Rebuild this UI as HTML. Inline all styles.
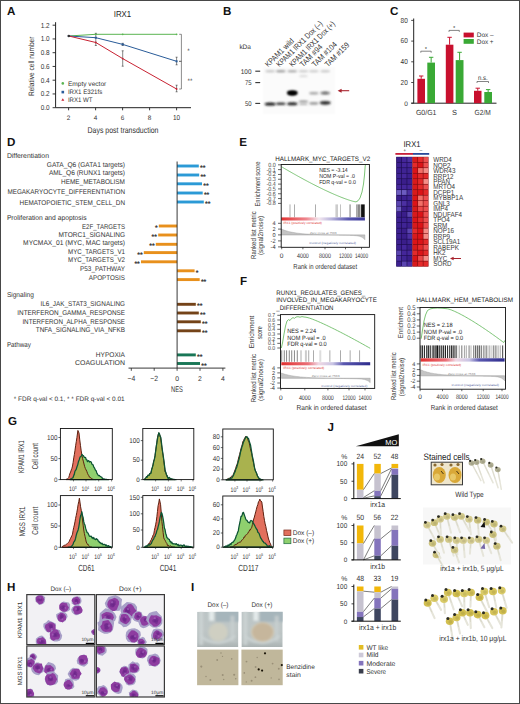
<!DOCTYPE html>
<html><head><meta charset="utf-8"><style>
html,body{margin:0;padding:0;background:#fff;width:520px;height:704px;overflow:hidden}
svg{display:block}
text{font-family:"Liberation Sans", sans-serif;text-rendering:geometricPrecision}
</style></head><body>
<svg width="520" height="704" viewBox="0 0 520 704" font-family="Liberation Sans, sans-serif">
<defs>
<filter id="blur1" x="-50%" y="-50%" width="200%" height="200%"><feGaussianBlur stdDeviation="0.7"/></filter>
<filter id="blur2" x="-50%" y="-100%" width="200%" height="300%"><feGaussianBlur stdDeviation="0.8"/></filter>
<filter id="blur3" x="-20%" y="-20%" width="140%" height="140%"><feGaussianBlur stdDeviation="0.45"/></filter>
<linearGradient id="rbe" x1="0" x2="1" y1="0" y2="0"><stop offset="0" stop-color="#e23030"/><stop offset="0.3" stop-color="#ee8890"/><stop offset="0.45" stop-color="#f4e8f0"/><stop offset="0.6" stop-color="#b8b4dc"/><stop offset="0.8" stop-color="#5a58b0"/><stop offset="1" stop-color="#3a3898"/></linearGradient>
<linearGradient id="rbf1" x1="0" x2="1" y1="0" y2="0"><stop offset="0" stop-color="#e23030"/><stop offset="0.3" stop-color="#ea7078"/><stop offset="0.42" stop-color="#f0d8e4"/><stop offset="0.58" stop-color="#c8c4e4"/><stop offset="0.7" stop-color="#5a58b0"/><stop offset="1" stop-color="#2e2c8c"/></linearGradient>
<linearGradient id="rbf2" x1="0" x2="1" y1="0" y2="0"><stop offset="0" stop-color="#e23030"/><stop offset="0.3" stop-color="#ea7078"/><stop offset="0.42" stop-color="#f0d8e4"/><stop offset="0.58" stop-color="#c8c4e4"/><stop offset="0.7" stop-color="#5a58b0"/><stop offset="1" stop-color="#2e2c8c"/></linearGradient>
<linearGradient id="tube" x1="0" x2="0" y1="0" y2="1"><stop offset="0" stop-color="#bcc5c6"/><stop offset="0.5" stop-color="#bec6c6"/><stop offset="0.85" stop-color="#b8c0c0"/><stop offset="1" stop-color="#aab2b2"/></linearGradient>
<filter id="blur4" x="-50%" y="-50%" width="200%" height="200%"><feGaussianBlur stdDeviation="1.2"/></filter>
</defs>
<rect x="0" y="0" width="520" height="704" fill="#fff"/>
<text x="7.1" y="15.0" font-size="11.6" font-weight="bold" fill="#111">A</text>
<text x="122.5" y="16.6" font-size="8.6" text-anchor="middle" textLength="17.5" lengthAdjust="spacingAndGlyphs" fill="#222">IRX1</text>
<line x1="55.60" y1="22.20" x2="55.60" y2="107.70" stroke="#222" stroke-width="1"/>
<line x1="55.60" y1="107.70" x2="191.00" y2="107.70" stroke="#222" stroke-width="1"/>
<line x1="52.60" y1="25.20" x2="55.60" y2="25.20" stroke="#222" stroke-width="0.9"/>
<text x="49.6" y="27.5" font-size="7.17" text-anchor="end" textLength="8.9" lengthAdjust="spacingAndGlyphs" fill="#333">1.2</text>
<line x1="52.60" y1="38.95" x2="55.60" y2="38.95" stroke="#222" stroke-width="0.9"/>
<text x="49.6" y="41.2" font-size="7.17" text-anchor="end" textLength="8.9" lengthAdjust="spacingAndGlyphs" fill="#333">1.0</text>
<line x1="52.60" y1="52.70" x2="55.60" y2="52.70" stroke="#222" stroke-width="0.9"/>
<text x="49.6" y="55.0" font-size="7.17" text-anchor="end" textLength="8.9" lengthAdjust="spacingAndGlyphs" fill="#333">0.8</text>
<line x1="52.60" y1="66.45" x2="55.60" y2="66.45" stroke="#222" stroke-width="0.9"/>
<text x="49.6" y="68.8" font-size="7.17" text-anchor="end" textLength="8.9" lengthAdjust="spacingAndGlyphs" fill="#333">0.6</text>
<line x1="52.60" y1="80.20" x2="55.60" y2="80.20" stroke="#222" stroke-width="0.9"/>
<text x="49.6" y="82.5" font-size="7.17" text-anchor="end" textLength="8.9" lengthAdjust="spacingAndGlyphs" fill="#333">0.4</text>
<line x1="52.60" y1="93.95" x2="55.60" y2="93.95" stroke="#222" stroke-width="0.9"/>
<text x="49.6" y="96.2" font-size="7.17" text-anchor="end" textLength="8.9" lengthAdjust="spacingAndGlyphs" fill="#333">0.2</text>
<line x1="52.60" y1="107.70" x2="55.60" y2="107.70" stroke="#222" stroke-width="0.9"/>
<text x="49.6" y="110.0" font-size="7.17" text-anchor="end" textLength="8.9" lengthAdjust="spacingAndGlyphs" fill="#333">0.0</text>
<line x1="68.60" y1="107.70" x2="68.60" y2="110.30" stroke="#222" stroke-width="0.9"/>
<text x="68.6" y="119.7" font-size="6.4" text-anchor="middle" fill="#333">2</text>
<line x1="95.60" y1="107.70" x2="95.60" y2="110.30" stroke="#222" stroke-width="0.9"/>
<text x="95.6" y="119.7" font-size="6.4" text-anchor="middle" fill="#333">4</text>
<line x1="122.60" y1="107.70" x2="122.60" y2="110.30" stroke="#222" stroke-width="0.9"/>
<text x="122.6" y="119.7" font-size="6.4" text-anchor="middle" fill="#333">6</text>
<line x1="149.60" y1="107.70" x2="149.60" y2="110.30" stroke="#222" stroke-width="0.9"/>
<text x="149.6" y="119.7" font-size="6.4" text-anchor="middle" fill="#333">8</text>
<line x1="176.60" y1="107.70" x2="176.60" y2="110.30" stroke="#222" stroke-width="0.9"/>
<text x="176.6" y="119.7" font-size="7.17" text-anchor="middle" textLength="7.1" lengthAdjust="spacingAndGlyphs" fill="#333">10</text>
<text x="123.0" y="132.5" font-size="8.4" text-anchor="middle" textLength="71.0" lengthAdjust="spacingAndGlyphs" fill="#333">Days post transduction</text>
<text x="34.4" y="66.3" font-size="7.8" text-anchor="middle" textLength="59.5" lengthAdjust="spacingAndGlyphs" transform="rotate(-90 34.4 66.3)" fill="#333">Relative cell number</text>
<polyline points="68.80,36.00 95.80,34.30 122.70,34.30 176.60,34.30" fill="none" stroke="#5ab552" stroke-width="1.0"/>
<polyline points="68.80,36.00 95.80,37.70 122.70,44.40 176.60,61.30" fill="none" stroke="#2a5c99" stroke-width="1.0"/>
<polyline points="68.80,36.00 95.80,42.50 122.70,58.60 176.60,89.00" fill="none" stroke="#c82232" stroke-width="1.0"/>
<line x1="95.80" y1="33.30" x2="95.80" y2="45.50" stroke="#333" stroke-width="0.6"/>
<line x1="94.80" y1="33.30" x2="96.80" y2="33.30" stroke="#333" stroke-width="0.6"/>
<line x1="94.80" y1="45.50" x2="96.80" y2="45.50" stroke="#333" stroke-width="0.6"/>
<line x1="122.70" y1="50.80" x2="122.70" y2="66.20" stroke="#333" stroke-width="0.6"/>
<line x1="121.70" y1="50.80" x2="123.70" y2="50.80" stroke="#333" stroke-width="0.6"/>
<line x1="121.70" y1="66.20" x2="123.70" y2="66.20" stroke="#333" stroke-width="0.6"/>
<line x1="122.70" y1="43.30" x2="122.70" y2="45.50" stroke="#333" stroke-width="0.6"/>
<line x1="121.70" y1="43.30" x2="123.70" y2="43.30" stroke="#333" stroke-width="0.6"/>
<line x1="121.70" y1="45.50" x2="123.70" y2="45.50" stroke="#333" stroke-width="0.6"/>
<line x1="176.60" y1="57.20" x2="176.60" y2="64.80" stroke="#333" stroke-width="0.6"/>
<line x1="175.60" y1="57.20" x2="177.60" y2="57.20" stroke="#333" stroke-width="0.6"/>
<line x1="175.60" y1="64.80" x2="177.60" y2="64.80" stroke="#333" stroke-width="0.6"/>
<line x1="176.60" y1="85.20" x2="176.60" y2="91.80" stroke="#333" stroke-width="0.6"/>
<line x1="175.60" y1="85.20" x2="177.60" y2="85.20" stroke="#333" stroke-width="0.6"/>
<line x1="175.60" y1="91.80" x2="177.60" y2="91.80" stroke="#333" stroke-width="0.6"/>
<circle cx="68.8" cy="36" r="0.9" fill="#5ab552"/>
<circle cx="95.8" cy="34.3" r="0.9" fill="#5ab552"/>
<circle cx="122.7" cy="34.3" r="0.9" fill="#5ab552"/>
<circle cx="176.6" cy="34.3" r="0.9" fill="#5ab552"/>
<rect x="67.80" y="35.00" width="2.00" height="2.00" fill="#2a5c99"/>
<rect x="94.80" y="36.70" width="2.00" height="2.00" fill="#2a5c99"/>
<rect x="121.70" y="43.40" width="2.00" height="2.00" fill="#2a5c99"/>
<rect x="175.60" y="60.30" width="2.00" height="2.00" fill="#2a5c99"/>
<circle cx="68.8" cy="36" r="0.9" fill="#c82232"/>
<circle cx="95.8" cy="42.5" r="0.9" fill="#c82232"/>
<circle cx="122.7" cy="58.6" r="0.9" fill="#c82232"/>
<circle cx="176.6" cy="89" r="0.9" fill="#c82232"/>
<circle cx="68.8" cy="36" r="1.2" fill="#333"/>
<polyline points="179.2,34.3 181.4,34.3 181.4,89 179.2,89" fill="none" stroke="#666" stroke-width="0.75"/>
<line x1="181.40" y1="61.30" x2="179.00" y2="61.30" stroke="#333" stroke-width="0.8"/>
<text x="188.5" y="53.1" font-size="6.4" text-anchor="middle" fill="#333">*</text>
<text x="190.0" y="83.1" font-size="6.4" text-anchor="middle" textLength="5.0" lengthAdjust="spacingAndGlyphs" fill="#333">**</text>
<circle cx="62.8" cy="83.4" r="1.3" fill="#5ab552"/>
<rect x="61.50" y="90.80" width="2.60" height="2.60" fill="#2a5c99"/>
<polygon points="61.3,100.8 64.3,100.8 62.8,98.2" fill="#c82232"/>
<text x="67.9" y="85.7" font-size="6.5" textLength="38.4" lengthAdjust="spacingAndGlyphs" fill="#333">Empty vector</text>
<text x="67.9" y="94.3" font-size="6.5" fill="#333" textLength="34.4" lengthAdjust="spacingAndGlyphs">IRX1 E321fs</text>
<text x="67.9" y="102.0" font-size="6.5" fill="#333" textLength="24.6" lengthAdjust="spacingAndGlyphs">IRX1 WT</text>
<text x="223.1" y="14.9" font-size="11.6" font-weight="bold" fill="#111">B</text>
<text x="239.4" y="48.9" font-size="6.6" textLength="11.5" lengthAdjust="spacingAndGlyphs" fill="#333">kDa</text>
<text x="268.3" y="67.6" font-size="8.0" textLength="37.0" lengthAdjust="spacingAndGlyphs" transform="rotate(-45 268.3 67.6)" fill="#333">KPAM1 wild</text>
<text x="279.6" y="67.6" font-size="8.0" textLength="61.5" lengthAdjust="spacingAndGlyphs" transform="rotate(-45 279.6 67.6)" fill="#333">KPAM1 IRX1 Dox (–)</text>
<text x="292.4" y="67.6" font-size="8.0" textLength="61.0" lengthAdjust="spacingAndGlyphs" transform="rotate(-45 292.4 67.6)" fill="#333">KPAM1 IRX1 Dox (+)</text>
<text x="303.0" y="67.6" font-size="8.0" textLength="28.5" lengthAdjust="spacingAndGlyphs" transform="rotate(-45 303.0 67.6)" fill="#333">TAM #94</text>
<text x="315.0" y="67.6" font-size="8.0" textLength="32.0" lengthAdjust="spacingAndGlyphs" transform="rotate(-45 315.0 67.6)" fill="#333">TAM #104</text>
<text x="328.0" y="67.6" font-size="8.0" textLength="31.0" lengthAdjust="spacingAndGlyphs" transform="rotate(-45 328.0 67.6)" fill="#333">TAM #159</text>
<text x="251.5" y="73.7" font-size="6.8" text-anchor="end" textLength="10.7" lengthAdjust="spacingAndGlyphs" fill="#333">100</text>
<line x1="255.30" y1="71.20" x2="260.20" y2="71.20" stroke="#333" stroke-width="1.1"/>
<text x="251.5" y="85.1" font-size="6.8" text-anchor="end" textLength="6.6" lengthAdjust="spacingAndGlyphs" fill="#333">75</text>
<line x1="255.30" y1="82.60" x2="260.20" y2="82.60" stroke="#333" stroke-width="1.1"/>
<text x="251.5" y="105.9" font-size="6.8" text-anchor="end" textLength="6.6" lengthAdjust="spacingAndGlyphs" fill="#333">50</text>
<line x1="255.30" y1="103.40" x2="260.20" y2="103.40" stroke="#333" stroke-width="1.1"/>
<rect x="263.00" y="67.00" width="72.00" height="47.00" fill="#fbfbfb" filter="url(#blur2)"/>
<ellipse cx="270.2" cy="71.3" rx="4.9" ry="1.0" fill="#bcbcbc" opacity="1" filter="url(#blur2)"/>
<ellipse cx="280.8" cy="71.3" rx="4.9" ry="1.0" fill="#8c8c8c" opacity="1" filter="url(#blur2)"/>
<ellipse cx="292.3" cy="71.3" rx="4.9" ry="1.0" fill="#9c9c9c" opacity="1" filter="url(#blur2)"/>
<ellipse cx="303.4" cy="71.3" rx="4.9" ry="1.0" fill="#c4c4c4" opacity="1" filter="url(#blur2)"/>
<ellipse cx="313.8" cy="71.3" rx="4.9" ry="1.0" fill="#c4c4c4" opacity="1" filter="url(#blur2)"/>
<ellipse cx="325.2" cy="71.3" rx="4.9" ry="1.0" fill="#c0c0c0" opacity="1" filter="url(#blur2)"/>
<ellipse cx="303.4" cy="76.2" rx="4.2" ry="0.9" fill="#d4d4d4" opacity="1" filter="url(#blur2)"/>
<ellipse cx="292.3" cy="93.0" rx="5.3" ry="2.4" fill="#000" opacity="1" filter="url(#blur2)"/>
<ellipse cx="292.3" cy="93.0" rx="4.3" ry="1.7" fill="#000" opacity="1" filter="url(#blur2)"/>
<ellipse cx="313.8" cy="93.2" rx="4.8" ry="1.3" fill="#a4a4a4" opacity="1" filter="url(#blur2)"/>
<ellipse cx="325.2" cy="93.0" rx="5.0" ry="1.5" fill="#8a8a8a" opacity="1" filter="url(#blur2)"/>
<ellipse cx="325.2" cy="93.0" rx="3.0" ry="0.8" fill="#666" opacity="1" filter="url(#blur2)"/>
<ellipse cx="270.2" cy="104.0" rx="5.5" ry="1.5" fill="#111" opacity="1" filter="url(#blur2)"/>
<ellipse cx="280.8" cy="103.8" rx="5.0" ry="1.3" fill="#333" opacity="1" filter="url(#blur2)"/>
<ellipse cx="292.3" cy="103.7" rx="5.2" ry="1.5" fill="#1a1a1a" opacity="1" filter="url(#blur2)"/>
<ellipse cx="303.4" cy="101.6" rx="4.7" ry="1.0" fill="#8a8a8a" opacity="1" filter="url(#blur2)"/>
<ellipse cx="303.4" cy="104.2" rx="4.2" ry="0.9" fill="#aaa" opacity="1" filter="url(#blur2)"/>
<ellipse cx="313.8" cy="103.4" rx="4.7" ry="1.3" fill="#9a9a9a" opacity="1" filter="url(#blur2)"/>
<ellipse cx="325.2" cy="102.8" rx="5.5" ry="1.9" fill="#2a2a2a" opacity="1" filter="url(#blur2)"/>
<path d="M349.2,90.7 L339.5,90.7" stroke="#a8232e" stroke-width="1.1"/>
<polygon points="337.6,90.7 341.6,88.7 341.6,92.7" fill="#a8232e"/>
<text x="389.9" y="14.9" font-size="11.6" font-weight="bold" fill="#111">C</text>
<line x1="413.70" y1="18.50" x2="413.70" y2="103.20" stroke="#222" stroke-width="1"/>
<line x1="411.30" y1="103.20" x2="496.50" y2="103.20" stroke="#222" stroke-width="1"/>
<line x1="411.20" y1="103.20" x2="413.70" y2="103.20" stroke="#222" stroke-width="0.8"/>
<text x="407.8" y="105.5" font-size="6.5" text-anchor="end" fill="#333">0</text>
<line x1="411.20" y1="82.50" x2="413.70" y2="82.50" stroke="#222" stroke-width="0.8"/>
<text x="407.8" y="84.8" font-size="7.28" text-anchor="end" textLength="7.2" lengthAdjust="spacingAndGlyphs" fill="#333">20</text>
<line x1="411.20" y1="61.80" x2="413.70" y2="61.80" stroke="#222" stroke-width="0.8"/>
<text x="407.8" y="64.1" font-size="7.28" text-anchor="end" textLength="7.2" lengthAdjust="spacingAndGlyphs" fill="#333">40</text>
<line x1="411.20" y1="41.10" x2="413.70" y2="41.10" stroke="#222" stroke-width="0.8"/>
<text x="407.8" y="43.4" font-size="7.28" text-anchor="end" textLength="7.2" lengthAdjust="spacingAndGlyphs" fill="#333">60</text>
<line x1="411.20" y1="20.40" x2="413.70" y2="20.40" stroke="#222" stroke-width="0.8"/>
<text x="407.8" y="22.7" font-size="7.28" text-anchor="end" textLength="7.2" lengthAdjust="spacingAndGlyphs" fill="#333">80</text>
<rect x="417.40" y="78.80" width="7.60" height="24.40" fill="#c8102e"/>
<line x1="421.20" y1="78.80" x2="421.20" y2="76.00" stroke="#c8102e" stroke-width="1"/>
<line x1="419.00" y1="76.00" x2="423.40" y2="76.00" stroke="#c8102e" stroke-width="1"/>
<rect x="427.30" y="62.60" width="7.70" height="40.60" fill="#3aa935"/>
<line x1="431.15" y1="62.60" x2="431.15" y2="57.30" stroke="#3aa935" stroke-width="1"/>
<line x1="428.95" y1="57.30" x2="433.35" y2="57.30" stroke="#3aa935" stroke-width="1"/>
<rect x="445.80" y="44.70" width="7.60" height="58.50" fill="#c8102e"/>
<line x1="449.60" y1="44.70" x2="449.60" y2="37.30" stroke="#c8102e" stroke-width="1"/>
<line x1="447.40" y1="37.30" x2="451.80" y2="37.30" stroke="#c8102e" stroke-width="1"/>
<rect x="455.70" y="60.10" width="7.80" height="43.10" fill="#3aa935"/>
<line x1="459.60" y1="60.10" x2="459.60" y2="52.30" stroke="#3aa935" stroke-width="1"/>
<line x1="457.40" y1="52.30" x2="461.80" y2="52.30" stroke="#3aa935" stroke-width="1"/>
<rect x="474.00" y="90.80" width="7.50" height="12.40" fill="#c8102e"/>
<line x1="477.75" y1="90.80" x2="477.75" y2="88.20" stroke="#c8102e" stroke-width="1"/>
<line x1="475.55" y1="88.20" x2="479.95" y2="88.20" stroke="#c8102e" stroke-width="1"/>
<rect x="484.30" y="92.00" width="7.70" height="11.20" fill="#3aa935"/>
<line x1="488.15" y1="92.00" x2="488.15" y2="89.60" stroke="#3aa935" stroke-width="1"/>
<line x1="485.95" y1="89.60" x2="490.35" y2="89.60" stroke="#3aa935" stroke-width="1"/>
<polyline points="420.8,52.7 420.8,51.2 431.2,51.2 431.2,52.7" fill="none" stroke="#333" stroke-width="0.6"/>
<text x="426.0" y="50.6" font-size="6" text-anchor="middle" fill="#333">*</text>
<polyline points="449.0,31.9 449.0,30.4 459.3,30.4 459.3,31.9" fill="none" stroke="#333" stroke-width="0.6"/>
<text x="454.1" y="29.8" font-size="6" text-anchor="middle" fill="#333">*</text>
<polyline points="477.0,83.0 477.0,81.5 488.5,81.5 488.5,83.0" fill="none" stroke="#333" stroke-width="0.6"/>
<text x="482.8" y="79.6" font-size="6.72" text-anchor="middle" textLength="9.7" lengthAdjust="spacingAndGlyphs" fill="#333">n.s.</text>
<rect x="463.60" y="32.60" width="10.20" height="4.80" fill="#c8102e"/>
<rect x="463.60" y="39.00" width="10.20" height="4.80" fill="#3aa935"/>
<text x="476.8" y="37.3" font-size="6.5" textLength="16.8" lengthAdjust="spacingAndGlyphs" fill="#333">Dox –</text>
<text x="476.8" y="43.8" font-size="6.5" textLength="16.8" lengthAdjust="spacingAndGlyphs" fill="#333">Dox +</text>
<text x="426.2" y="115.3" font-size="7.4" text-anchor="middle" textLength="20.5" lengthAdjust="spacingAndGlyphs" fill="#333">G0/G1</text>
<text x="454.5" y="115.3" font-size="7.4" text-anchor="middle" fill="#333">S</text>
<text x="482.7" y="115.3" font-size="7.4" text-anchor="middle" textLength="16.2" lengthAdjust="spacingAndGlyphs" fill="#333">G2/M</text>
<text x="7.1" y="145.7" font-size="11.6" font-weight="bold" fill="#111">D</text>
<text x="6.9" y="158.1" font-size="7.0" textLength="42.1" lengthAdjust="spacingAndGlyphs" fill="#333">Differentiation</text>
<text x="125.0" y="166.9" font-size="6.9" text-anchor="end" textLength="78.2" lengthAdjust="spacingAndGlyphs" fill="#333">GATA_Q6 (GATA1 targets)</text>
<rect x="177.10" y="164.55" width="21.70" height="2.90" fill="#2b9ad6"/>
<text x="200.0" y="170.0" font-size="6.8" textLength="5.4" lengthAdjust="spacingAndGlyphs" fill="#333" stroke="#333" stroke-width="0.25">**</text>
<text x="125.0" y="175.4" font-size="6.9" text-anchor="end" textLength="76.0" lengthAdjust="spacingAndGlyphs" fill="#333">AML_Q6 (RUNX1 targets)</text>
<rect x="177.10" y="173.55" width="22.10" height="2.90" fill="#2b9ad6"/>
<text x="200.4" y="179.0" font-size="6.8" textLength="5.4" lengthAdjust="spacingAndGlyphs" fill="#333" stroke="#333" stroke-width="0.25">**</text>
<text x="125.0" y="183.7" font-size="6.9" text-anchor="end" textLength="64.0" lengthAdjust="spacingAndGlyphs" fill="#333">HEME_METABOLISM</text>
<rect x="177.10" y="182.35" width="24.90" height="2.90" fill="#2b9ad6"/>
<text x="203.2" y="187.8" font-size="6.8" textLength="5.4" lengthAdjust="spacingAndGlyphs" fill="#333" stroke="#333" stroke-width="0.25">**</text>
<text x="125.0" y="193.8" font-size="6.9" text-anchor="end" textLength="117.6" lengthAdjust="spacingAndGlyphs" fill="#333">MEGAKARYOCYTE_DIFFERENTIATION</text>
<rect x="177.10" y="191.55" width="25.60" height="2.90" fill="#2b9ad6"/>
<text x="203.9" y="197.0" font-size="6.8" textLength="5.4" lengthAdjust="spacingAndGlyphs" fill="#333" stroke="#333" stroke-width="0.25">**</text>
<text x="125.0" y="205.3" font-size="6.9" text-anchor="end" textLength="105.4" lengthAdjust="spacingAndGlyphs" fill="#333">HEMATOPOIETIC_STEM_CELL_DN</text>
<rect x="177.10" y="200.55" width="26.70" height="2.90" fill="#2b9ad6"/>
<text x="205.0" y="206.0" font-size="6.8" textLength="5.4" lengthAdjust="spacingAndGlyphs" fill="#333" stroke="#333" stroke-width="0.25">**</text>
<text x="6.9" y="219.9" font-size="7.0" textLength="79.6" lengthAdjust="spacingAndGlyphs" fill="#333">Proliferation and apoptosis</text>
<text x="125.0" y="228.5" font-size="6.9" text-anchor="end" textLength="43.0" lengthAdjust="spacingAndGlyphs" fill="#333">E2F_TARGETS</text>
<rect x="158.80" y="224.55" width="18.30" height="2.90" fill="#e8901c"/>
<text x="157.6" y="230.0" font-size="6.8" text-anchor="end" fill="#333" stroke="#333" stroke-width="0.25">*</text>
<text x="125.0" y="236.5" font-size="6.9" text-anchor="end" textLength="66.6" lengthAdjust="spacingAndGlyphs" fill="#333">MTORC1_SIGNALING</text>
<rect x="158.20" y="233.55" width="18.90" height="2.90" fill="#e8901c"/>
<text x="157.0" y="239.0" font-size="6.8" text-anchor="end" textLength="5.4" lengthAdjust="spacingAndGlyphs" fill="#333" stroke="#333" stroke-width="0.25">**</text>
<text x="125.0" y="245.3" font-size="6.9" text-anchor="end" textLength="101.9" lengthAdjust="spacingAndGlyphs" fill="#333">MYCMAX_01 (MYC, MAC targets)</text>
<rect x="155.80" y="242.85" width="21.30" height="2.90" fill="#e8901c"/>
<text x="154.6" y="248.3" font-size="6.8" text-anchor="end" textLength="5.4" lengthAdjust="spacingAndGlyphs" fill="#333" stroke="#333" stroke-width="0.25">**</text>
<text x="125.0" y="254.1" font-size="6.9" text-anchor="end" textLength="57.0" lengthAdjust="spacingAndGlyphs" fill="#333">MYC_TARGETS_V1</text>
<rect x="143.80" y="251.15" width="33.30" height="2.90" fill="#e8901c"/>
<text x="142.6" y="256.6" font-size="6.8" text-anchor="end" textLength="5.4" lengthAdjust="spacingAndGlyphs" fill="#333" stroke="#333" stroke-width="0.25">**</text>
<text x="125.0" y="262.3" font-size="6.9" text-anchor="end" textLength="57.0" lengthAdjust="spacingAndGlyphs" fill="#333">MYC_TARGETS_V2</text>
<rect x="141.00" y="260.35" width="36.10" height="2.90" fill="#e8901c"/>
<text x="139.8" y="265.8" font-size="6.8" text-anchor="end" textLength="5.4" lengthAdjust="spacingAndGlyphs" fill="#333" stroke="#333" stroke-width="0.25">**</text>
<text x="125.0" y="270.7" font-size="6.9" text-anchor="end" textLength="45.0" lengthAdjust="spacingAndGlyphs" fill="#333">P53_PATHWAY</text>
<rect x="177.10" y="269.35" width="17.50" height="2.90" fill="#e8901c"/>
<text x="195.8" y="274.8" font-size="6.8" fill="#333" stroke="#333" stroke-width="0.25">*</text>
<text x="125.0" y="279.9" font-size="6.9" text-anchor="end" textLength="36.2" lengthAdjust="spacingAndGlyphs" fill="#333">APOPTOSIS</text>
<rect x="177.10" y="278.15" width="22.60" height="2.90" fill="#e8901c"/>
<text x="200.9" y="283.6" font-size="6.8" textLength="5.4" lengthAdjust="spacingAndGlyphs" fill="#333" stroke="#333" stroke-width="0.25">**</text>
<text x="6.9" y="296.6" font-size="7.0" textLength="27.0" lengthAdjust="spacingAndGlyphs" fill="#333">Signaling</text>
<text x="125.0" y="306.1" font-size="6.9" text-anchor="end" textLength="84.6" lengthAdjust="spacingAndGlyphs" fill="#333">IL6_JAK_STAT3_SIGNALING</text>
<rect x="177.10" y="302.85" width="18.70" height="2.90" fill="#744318"/>
<text x="197.0" y="308.3" font-size="6.8" textLength="5.4" lengthAdjust="spacingAndGlyphs" fill="#333" stroke="#333" stroke-width="0.25">**</text>
<text x="125.0" y="314.6" font-size="6.9" text-anchor="end" textLength="107.7" lengthAdjust="spacingAndGlyphs" fill="#333">INTERFERON_GAMMA_RESPONSE</text>
<rect x="177.10" y="311.55" width="21.70" height="2.90" fill="#744318"/>
<text x="200.0" y="317.0" font-size="6.8" textLength="5.4" lengthAdjust="spacingAndGlyphs" fill="#333" stroke="#333" stroke-width="0.25">**</text>
<text x="125.0" y="323.8" font-size="6.9" text-anchor="end" textLength="102.6" lengthAdjust="spacingAndGlyphs" fill="#333">INTERFERON_ALPHA_RESPONSE</text>
<rect x="177.10" y="320.35" width="23.70" height="2.90" fill="#744318"/>
<text x="202.0" y="325.8" font-size="6.8" textLength="5.4" lengthAdjust="spacingAndGlyphs" fill="#333" stroke="#333" stroke-width="0.25">**</text>
<text x="125.0" y="331.9" font-size="6.9" text-anchor="end" textLength="89.2" lengthAdjust="spacingAndGlyphs" fill="#333">TNFA_SIGNALING_VIA_NFKB</text>
<rect x="177.10" y="329.35" width="23.70" height="2.90" fill="#744318"/>
<text x="202.0" y="334.8" font-size="6.8" textLength="5.4" lengthAdjust="spacingAndGlyphs" fill="#333" stroke="#333" stroke-width="0.25">**</text>
<text x="6.9" y="347.3" font-size="7.0" textLength="24.0" lengthAdjust="spacingAndGlyphs" fill="#333">Pathway</text>
<text x="125.0" y="356.6" font-size="6.9" text-anchor="end" textLength="29.2" lengthAdjust="spacingAndGlyphs" fill="#333">HYPOXIA</text>
<rect x="177.10" y="353.45" width="18.70" height="2.90" fill="#187656"/>
<text x="197.0" y="358.9" font-size="6.8" textLength="5.4" lengthAdjust="spacingAndGlyphs" fill="#333" stroke="#333" stroke-width="0.25">**</text>
<text x="125.0" y="364.6" font-size="6.9" text-anchor="end" textLength="50.0" lengthAdjust="spacingAndGlyphs" fill="#333">COAGULATION</text>
<rect x="177.10" y="362.05" width="22.90" height="2.90" fill="#187656"/>
<text x="201.2" y="367.5" font-size="6.8" textLength="5.4" lengthAdjust="spacingAndGlyphs" fill="#333" stroke="#333" stroke-width="0.25">**</text>
<line x1="177.10" y1="161.50" x2="177.10" y2="368.10" stroke="#222" stroke-width="0.9"/>
<line x1="128.50" y1="368.10" x2="225.40" y2="368.10" stroke="#222" stroke-width="0.9"/>
<line x1="131.30" y1="368.10" x2="131.30" y2="370.80" stroke="#222" stroke-width="0.8"/>
<text x="131.3" y="381.0" font-size="7.62" text-anchor="middle" textLength="7.8" lengthAdjust="spacingAndGlyphs" fill="#333">−4</text>
<line x1="154.20" y1="368.10" x2="154.20" y2="370.80" stroke="#222" stroke-width="0.8"/>
<text x="154.2" y="381.0" font-size="7.62" text-anchor="middle" textLength="7.8" lengthAdjust="spacingAndGlyphs" fill="#333">−2</text>
<line x1="177.10" y1="368.10" x2="177.10" y2="370.80" stroke="#222" stroke-width="0.8"/>
<text x="177.1" y="381.0" font-size="6.8" text-anchor="middle" fill="#333">0</text>
<line x1="200.00" y1="368.10" x2="200.00" y2="370.80" stroke="#222" stroke-width="0.8"/>
<text x="200.0" y="381.0" font-size="6.8" text-anchor="middle" fill="#333">2</text>
<line x1="222.90" y1="368.10" x2="222.90" y2="370.80" stroke="#222" stroke-width="0.8"/>
<text x="222.9" y="381.0" font-size="6.8" text-anchor="middle" fill="#333">4</text>
<text x="177.0" y="391.8" font-size="8.2" text-anchor="middle" textLength="11.8" lengthAdjust="spacingAndGlyphs" fill="#333">NES</text>
<text x="13.8" y="401.3" font-size="6.4" textLength="110.8" lengthAdjust="spacingAndGlyphs" fill="#333">* FDR q-val &lt; 0.1, * * FDR q-val &lt; 0.01</text>
<text x="239.2" y="146.3" font-size="11.6" font-weight="bold" fill="#111">E</text>
<text x="275.3" y="160.6" font-size="6.4" textLength="94.9" lengthAdjust="spacingAndGlyphs" fill="#222">HALLMARK_MYC_TARGETS_V2</text>
<rect x="289.70" y="204.40" width="0.60" height="12.90" fill="#777"/>
<rect x="294.40" y="204.40" width="0.60" height="12.90" fill="#777"/>
<rect x="315.20" y="204.40" width="0.60" height="12.90" fill="#777"/>
<rect x="335.40" y="204.40" width="2.60" height="12.90" fill="#ccc"/>
<rect x="340.30" y="204.40" width="0.60" height="12.90" fill="#999"/>
<rect x="349.30" y="204.40" width="1.60" height="12.90" fill="#aaa"/>
<rect x="356.00" y="204.40" width="1.60" height="12.90" fill="#aaa"/>
<rect x="357.60" y="204.40" width="1.60" height="12.90" fill="#888"/>
<rect x="359.20" y="204.40" width="1.20" height="12.90" fill="#777"/>
<rect x="361.10" y="204.40" width="3.60" height="12.90" fill="#111"/>
<rect x="281.30" y="217.40" width="83.60" height="3.10" fill="url(#rbe)"/>
<polyline points="281.60,166.80 282.53,167.35 283.46,167.89 284.39,168.44 285.32,168.98 286.25,169.52 287.18,170.06 288.11,170.60 289.04,171.13 289.97,171.66 290.90,172.20 291.83,172.73 292.76,173.25 293.69,173.78 294.62,174.30 295.55,174.82 296.48,175.34 297.41,175.86 298.34,176.38 299.27,176.89 300.20,177.40 301.13,177.91 302.06,178.42 302.99,178.92 303.92,179.43 304.85,179.93 305.78,180.42 306.71,180.92 307.64,181.41 308.57,181.91 309.50,182.39 310.43,182.88 311.36,183.36 312.29,183.85 313.22,184.33 314.15,184.80 315.08,185.28 316.01,185.75 316.94,186.21 317.87,186.68 318.80,187.14 319.73,187.60 320.66,188.06 321.59,188.51 322.52,188.96 323.45,189.41 324.38,189.86 325.31,190.30 326.24,190.73 327.17,191.17 328.10,191.60 329.03,192.03 329.96,192.45 330.89,192.87 331.82,193.29 332.75,193.70 333.68,194.11 334.61,194.51 335.54,194.91 336.47,195.30 337.40,195.70 338.33,196.08 339.26,196.46 340.19,196.84 341.12,197.21 342.05,197.57 342.98,197.93 343.91,198.28 344.84,198.62 345.77,198.96 346.70,199.29 347.63,199.61 348.56,199.93 349.49,200.23 350.42,200.52 351.35,200.80 352.28,201.07 353.21,201.32 354.14,201.55 355.07,201.75 356.00,201.90 358.00,200.80 360.00,198.00 362.00,192.00 363.50,184.00 364.50,175.00 365.20,166.00 365.50,164.60" fill="none" stroke="#52b04a" stroke-width="0.75"/>
<path d="M281.30,234.90 L281.30,228.98 L282.69,229.58 L284.09,230.12 L285.48,230.60 L286.87,231.02 L288.27,231.41 L289.66,231.75 L291.05,232.06 L292.45,232.34 L293.84,232.59 L295.23,232.81 L296.63,233.01 L298.02,233.20 L299.41,233.36 L300.81,233.51 L302.20,233.64 L303.59,233.77 L304.99,233.88 L306.38,233.98 L307.77,234.08 L309.17,234.16 L310.56,234.24 L311.95,234.31 L313.35,234.38 L314.74,234.44 L316.13,234.50 L317.53,234.56 L318.92,234.61 L320.31,234.65 L321.71,234.70 L323.10,234.74 L324.49,234.78 L325.89,234.82 L327.28,234.86 L328.67,234.89 L330.07,234.93 L331.46,234.96 L332.85,234.99 L334.25,235.02 L335.64,235.05 L337.03,235.08 L338.43,235.11 L339.82,235.14 L341.21,235.17 L342.61,235.20 L344.00,235.23 L345.39,235.26 L346.79,235.29 L348.18,235.33 L349.57,235.37 L350.97,235.41 L352.36,235.47 L353.75,235.55 L355.15,235.65 L356.54,235.79 L357.93,235.99 L359.33,236.28 L360.72,236.72 L362.11,237.36 L363.51,238.32 L364.90,239.77 L364.90,234.90 Z" fill="#c4c4c4" stroke="#999" stroke-width="0.4"/>
<line x1="281.30" y1="234.90" x2="364.90" y2="234.90" stroke="#aaa" stroke-width="0.3"/>
<text x="283.3" y="223.6" font-size="3.2" textLength="38.5" lengthAdjust="spacingAndGlyphs" fill="#e04040">IRX1 (positively correlated)</text>
<text x="310.0" y="233.8" font-size="3.0" textLength="26.6" lengthAdjust="spacingAndGlyphs" fill="#888">Zero cross at 7563</text>
<text x="309.2" y="244.4" font-size="3.0" textLength="46.8" lengthAdjust="spacingAndGlyphs" fill="#5a6aa0">Control (negatively correlated)</text>
<rect x="281.20" y="164.50" width="88.20" height="82.80" fill="none" stroke="#111" stroke-width="0.9"/>
<line x1="278.00" y1="164.80" x2="281.20" y2="164.80" stroke="#222" stroke-width="0.7"/>
<text x="275.8" y="166.7" font-size="6.05" text-anchor="end" textLength="7.5" lengthAdjust="spacingAndGlyphs" fill="#444">0.0</text>
<line x1="278.00" y1="169.62" x2="281.20" y2="169.62" stroke="#222" stroke-width="0.7"/>
<text x="275.8" y="171.5" font-size="6.05" text-anchor="end" textLength="9.3" lengthAdjust="spacingAndGlyphs" fill="#444">-0.1</text>
<line x1="278.00" y1="174.45" x2="281.20" y2="174.45" stroke="#222" stroke-width="0.7"/>
<text x="275.8" y="176.4" font-size="6.05" text-anchor="end" textLength="9.3" lengthAdjust="spacingAndGlyphs" fill="#444">-0.2</text>
<line x1="278.00" y1="179.28" x2="281.20" y2="179.28" stroke="#222" stroke-width="0.7"/>
<text x="275.8" y="181.2" font-size="6.05" text-anchor="end" textLength="9.3" lengthAdjust="spacingAndGlyphs" fill="#444">-0.3</text>
<line x1="278.00" y1="184.10" x2="281.20" y2="184.10" stroke="#222" stroke-width="0.7"/>
<text x="275.8" y="186.0" font-size="6.05" text-anchor="end" textLength="9.3" lengthAdjust="spacingAndGlyphs" fill="#444">-0.4</text>
<line x1="278.00" y1="188.93" x2="281.20" y2="188.93" stroke="#222" stroke-width="0.7"/>
<text x="275.8" y="190.8" font-size="6.05" text-anchor="end" textLength="9.3" lengthAdjust="spacingAndGlyphs" fill="#444">-0.5</text>
<line x1="278.00" y1="193.75" x2="281.20" y2="193.75" stroke="#222" stroke-width="0.7"/>
<text x="275.8" y="195.7" font-size="6.05" text-anchor="end" textLength="9.3" lengthAdjust="spacingAndGlyphs" fill="#444">-0.6</text>
<line x1="278.00" y1="198.57" x2="281.20" y2="198.57" stroke="#222" stroke-width="0.7"/>
<text x="275.8" y="200.5" font-size="6.05" text-anchor="end" textLength="9.3" lengthAdjust="spacingAndGlyphs" fill="#444">-0.7</text>
<line x1="278.00" y1="203.40" x2="281.20" y2="203.40" stroke="#222" stroke-width="0.7"/>
<text x="275.8" y="205.3" font-size="6.05" text-anchor="end" textLength="9.3" lengthAdjust="spacingAndGlyphs" fill="#444">-0.8</text>
<line x1="278.00" y1="223.30" x2="281.20" y2="223.30" stroke="#222" stroke-width="0.7"/>
<text x="275.6" y="225.2" font-size="5.6" text-anchor="end" fill="#333">4</text>
<line x1="278.00" y1="229.10" x2="281.20" y2="229.10" stroke="#222" stroke-width="0.7"/>
<text x="275.6" y="231.0" font-size="5.6" text-anchor="end" fill="#333">2</text>
<line x1="278.00" y1="234.90" x2="281.20" y2="234.90" stroke="#222" stroke-width="0.7"/>
<text x="275.6" y="236.8" font-size="5.6" text-anchor="end" fill="#333">0</text>
<line x1="278.00" y1="240.90" x2="281.20" y2="240.90" stroke="#222" stroke-width="0.7"/>
<text x="275.6" y="242.8" font-size="6.27" text-anchor="end" textLength="5.0" lengthAdjust="spacingAndGlyphs" fill="#333">-2</text>
<line x1="278.00" y1="246.90" x2="281.20" y2="246.90" stroke="#222" stroke-width="0.7"/>
<text x="275.6" y="248.8" font-size="6.27" text-anchor="end" textLength="5.0" lengthAdjust="spacingAndGlyphs" fill="#333">-4</text>
<line x1="281.70" y1="247.30" x2="281.70" y2="249.30" stroke="#222" stroke-width="0.7"/>
<text x="281.7" y="257.8" font-size="6.6" text-anchor="middle" fill="#333">0</text>
<line x1="302.90" y1="247.30" x2="302.90" y2="249.30" stroke="#222" stroke-width="0.7"/>
<text x="302.9" y="257.8" font-size="6.6" text-anchor="middle" textLength="11.8" lengthAdjust="spacingAndGlyphs" fill="#333">4000</text>
<line x1="325.00" y1="247.30" x2="325.00" y2="249.30" stroke="#222" stroke-width="0.7"/>
<text x="325.0" y="257.8" font-size="6.6" text-anchor="middle" textLength="11.8" lengthAdjust="spacingAndGlyphs" fill="#333">8000</text>
<line x1="345.50" y1="247.30" x2="345.50" y2="249.30" stroke="#222" stroke-width="0.7"/>
<text x="345.5" y="257.8" font-size="6.6" text-anchor="middle" textLength="13.0" lengthAdjust="spacingAndGlyphs" fill="#333">12000</text>
<line x1="361.50" y1="247.30" x2="361.50" y2="249.30" stroke="#222" stroke-width="0.7"/>
<text x="361.5" y="257.8" font-size="6.6" text-anchor="middle" textLength="13.0" lengthAdjust="spacingAndGlyphs" fill="#333">14000</text>
<text x="325.2" y="268.6" font-size="7.2" text-anchor="middle" textLength="63.7" lengthAdjust="spacingAndGlyphs" fill="#333">Rank in ordered dataset</text>
<text x="260.4" y="184.0" font-size="7.2" text-anchor="middle" textLength="45.0" lengthAdjust="spacingAndGlyphs" transform="rotate(-90 260.4 184.0)" fill="#333">Enrichment score</text>
<text x="256.3" y="235.1" font-size="7.2" text-anchor="middle" textLength="47.6" lengthAdjust="spacingAndGlyphs" transform="rotate(-90 256.3 235.1)" fill="#333">Ranked list metric</text>
<text x="263.4" y="235.5" font-size="7.2" text-anchor="middle" textLength="39.0" lengthAdjust="spacingAndGlyphs" transform="rotate(-90 263.4 235.5)" fill="#333">(signal2noise)</text>
<text x="319.2" y="171.6" font-size="5.82" textLength="28.5" lengthAdjust="spacingAndGlyphs" fill="#222">NES = -3.14</text>
<text x="319.2" y="177.8" font-size="5.82" textLength="35.7" lengthAdjust="spacingAndGlyphs" fill="#222">NOM P-val = .0</text>
<text x="319.2" y="183.6" font-size="5.82" textLength="36.6" lengthAdjust="spacingAndGlyphs" fill="#222">FDR q-val = 0.0</text>
<text x="240.1" y="285.4" font-size="11.6" font-weight="bold" fill="#111">F</text>
<text x="276.3" y="294.7" font-size="6.4" textLength="88.9" lengthAdjust="spacingAndGlyphs" fill="#222">RUNX1_REGULATES_GENES_</text>
<text x="276.3" y="302.1" font-size="6.4" textLength="100.5" lengthAdjust="spacingAndGlyphs" fill="#222">INVOLVED_IN_MEGAKARYOCYTE</text>
<text x="276.3" y="309.5" font-size="6.4" textLength="57.2" lengthAdjust="spacingAndGlyphs" fill="#222">_DIFFERENTIATION</text>
<rect x="281.45" y="350.30" width="0.70" height="11.50" fill="#555"/>
<rect x="283.85" y="350.30" width="0.70" height="11.50" fill="#555"/>
<rect x="286.35" y="350.30" width="0.70" height="11.50" fill="#555"/>
<rect x="288.85" y="350.30" width="0.70" height="11.50" fill="#555"/>
<rect x="291.45" y="350.30" width="0.70" height="11.50" fill="#555"/>
<rect x="293.95" y="350.30" width="0.70" height="11.50" fill="#555"/>
<rect x="296.85" y="350.30" width="0.70" height="11.50" fill="#555"/>
<rect x="300.65" y="350.30" width="0.70" height="11.50" fill="#888"/>
<rect x="308.45" y="350.30" width="0.70" height="11.50" fill="#888"/>
<rect x="313.25" y="350.30" width="0.70" height="11.50" fill="#888"/>
<rect x="329.55" y="350.30" width="0.70" height="11.50" fill="#888"/>
<rect x="340.15" y="350.30" width="0.70" height="11.50" fill="#888"/>
<rect x="349.75" y="350.30" width="0.70" height="11.50" fill="#888"/>
<rect x="359.35" y="350.30" width="0.70" height="11.50" fill="#888"/>
<rect x="304.90" y="350.30" width="2.00" height="11.50" fill="#ccc"/>
<rect x="319.30" y="350.30" width="2.00" height="11.50" fill="#ddd"/>
<rect x="281.30" y="362.20" width="88.90" height="3.10" fill="url(#rbf1)"/>
<polyline points="281.30,348.00 282.50,343.00 284.00,334.00 285.50,326.00 287.00,321.00 288.50,319.60 290.00,320.50 291.50,318.50 293.00,317.60 294.50,318.30 296.00,317.00 298.00,316.70 300.00,317.20 302.00,316.60 304.00,317.00 306.00,317.20 308.00,317.70 309.56,318.14 311.11,318.68 312.67,319.26 314.22,319.87 315.77,320.50 317.33,321.15 318.88,321.82 320.44,322.51 322.00,323.20 323.55,323.91 325.11,324.63 326.66,325.36 328.21,326.10 329.77,326.85 331.32,327.61 332.88,328.37 334.44,329.14 335.99,329.92 337.55,330.70 339.10,331.49 340.65,332.28 342.21,333.09 343.76,333.89 345.32,334.71 346.88,335.52 348.43,336.35 349.99,337.17 351.54,338.00 353.09,338.84 354.65,339.68 356.20,340.53 357.76,341.37 359.31,342.23 360.87,343.08 362.43,343.94 363.98,344.81 365.53,345.68 367.09,346.55 368.64,347.42 370.20,348.30" fill="none" stroke="#52b04a" stroke-width="0.75"/>
<path d="M281.30,378.30 L281.30,373.00 L282.78,373.53 L284.26,374.01 L285.75,374.44 L287.23,374.82 L288.71,375.17 L290.19,375.48 L291.67,375.75 L293.15,376.00 L294.63,376.23 L296.12,376.43 L297.60,376.61 L299.08,376.77 L300.56,376.92 L302.04,377.05 L303.52,377.17 L305.01,377.29 L306.49,377.39 L307.97,377.48 L309.45,377.56 L310.93,377.64 L312.42,377.71 L313.90,377.77 L315.38,377.83 L316.86,377.89 L318.34,377.94 L319.82,377.99 L321.31,378.04 L322.79,378.08 L324.27,378.12 L325.75,378.16 L327.23,378.20 L328.71,378.23 L330.19,378.26 L331.68,378.29 L333.16,378.33 L334.64,378.35 L336.12,378.38 L337.60,378.41 L339.08,378.44 L340.57,378.46 L342.05,378.49 L343.53,378.52 L345.01,378.54 L346.49,378.57 L347.98,378.59 L349.46,378.62 L350.94,378.65 L352.42,378.68 L353.90,378.72 L355.38,378.76 L356.87,378.81 L358.35,378.88 L359.83,378.97 L361.31,379.10 L362.79,379.28 L364.27,379.54 L365.75,379.93 L367.24,380.50 L368.72,381.37 L370.20,382.66 L370.20,378.30 Z" fill="#c4c4c4" stroke="#999" stroke-width="0.4"/>
<line x1="281.30" y1="378.30" x2="370.20" y2="378.30" stroke="#aaa" stroke-width="0.3"/>
<text x="283.3" y="369.3" font-size="3.2" textLength="40.9" lengthAdjust="spacingAndGlyphs" fill="#e04040">IRX1 (positively correlated)</text>
<text x="311.7" y="376.5" font-size="3.0" textLength="27.8" lengthAdjust="spacingAndGlyphs" fill="#888">Zero cross at 7563</text>
<text x="321.3" y="386.8" font-size="3.0" textLength="46.0" lengthAdjust="spacingAndGlyphs" fill="#5a6aa0">Control (negatively correlated)</text>
<rect x="280.50" y="314.60" width="94.20" height="73.80" fill="none" stroke="#111" stroke-width="0.9"/>
<line x1="277.30" y1="315.30" x2="280.50" y2="315.30" stroke="#222" stroke-width="0.7"/>
<text x="275.2" y="317.2" font-size="5.82" text-anchor="end" textLength="7.2" lengthAdjust="spacingAndGlyphs" fill="#444">0.7</text>
<line x1="277.30" y1="319.97" x2="280.50" y2="319.97" stroke="#222" stroke-width="0.7"/>
<text x="275.2" y="321.9" font-size="5.82" text-anchor="end" textLength="7.2" lengthAdjust="spacingAndGlyphs" fill="#444">0.6</text>
<line x1="277.30" y1="324.64" x2="280.50" y2="324.64" stroke="#222" stroke-width="0.7"/>
<text x="275.2" y="326.5" font-size="5.82" text-anchor="end" textLength="7.2" lengthAdjust="spacingAndGlyphs" fill="#444">0.5</text>
<line x1="277.30" y1="329.31" x2="280.50" y2="329.31" stroke="#222" stroke-width="0.7"/>
<text x="275.2" y="331.2" font-size="5.82" text-anchor="end" textLength="7.2" lengthAdjust="spacingAndGlyphs" fill="#444">0.4</text>
<line x1="277.30" y1="333.99" x2="280.50" y2="333.99" stroke="#222" stroke-width="0.7"/>
<text x="275.2" y="335.9" font-size="5.82" text-anchor="end" textLength="7.2" lengthAdjust="spacingAndGlyphs" fill="#444">0.3</text>
<line x1="277.30" y1="338.66" x2="280.50" y2="338.66" stroke="#222" stroke-width="0.7"/>
<text x="275.2" y="340.6" font-size="5.82" text-anchor="end" textLength="7.2" lengthAdjust="spacingAndGlyphs" fill="#444">0.2</text>
<line x1="277.30" y1="343.33" x2="280.50" y2="343.33" stroke="#222" stroke-width="0.7"/>
<text x="275.2" y="345.2" font-size="5.82" text-anchor="end" textLength="7.2" lengthAdjust="spacingAndGlyphs" fill="#444">0.1</text>
<line x1="277.30" y1="348.00" x2="280.50" y2="348.00" stroke="#222" stroke-width="0.7"/>
<text x="275.2" y="349.9" font-size="5.82" text-anchor="end" textLength="7.2" lengthAdjust="spacingAndGlyphs" fill="#444">0.0</text>
<line x1="277.30" y1="367.90" x2="280.50" y2="367.90" stroke="#222" stroke-width="0.7"/>
<text x="275.0" y="369.8" font-size="5.6" text-anchor="end" fill="#333">4</text>
<line x1="277.30" y1="372.90" x2="280.50" y2="372.90" stroke="#222" stroke-width="0.7"/>
<text x="275.0" y="374.8" font-size="5.6" text-anchor="end" fill="#333">2</text>
<line x1="277.30" y1="377.90" x2="280.50" y2="377.90" stroke="#222" stroke-width="0.7"/>
<text x="275.0" y="379.8" font-size="5.6" text-anchor="end" fill="#333">0</text>
<line x1="277.30" y1="383.00" x2="280.50" y2="383.00" stroke="#222" stroke-width="0.7"/>
<text x="275.0" y="384.9" font-size="6.27" text-anchor="end" textLength="5.0" lengthAdjust="spacingAndGlyphs" fill="#333">-2</text>
<line x1="277.30" y1="388.10" x2="280.50" y2="388.10" stroke="#222" stroke-width="0.7"/>
<text x="275.0" y="390.0" font-size="6.27" text-anchor="end" textLength="5.0" lengthAdjust="spacingAndGlyphs" fill="#333">-4</text>
<line x1="280.80" y1="388.40" x2="280.80" y2="390.40" stroke="#222" stroke-width="0.7"/>
<text x="280.8" y="399.9" font-size="6.6" text-anchor="middle" fill="#333">0</text>
<line x1="304.80" y1="388.40" x2="304.80" y2="390.40" stroke="#222" stroke-width="0.7"/>
<text x="304.8" y="399.9" font-size="6.6" text-anchor="middle" textLength="11.8" lengthAdjust="spacingAndGlyphs" fill="#333">4000</text>
<line x1="327.90" y1="388.40" x2="327.90" y2="390.40" stroke="#222" stroke-width="0.7"/>
<text x="327.9" y="399.9" font-size="6.6" text-anchor="middle" textLength="11.8" lengthAdjust="spacingAndGlyphs" fill="#333">8000</text>
<line x1="349.00" y1="388.40" x2="349.00" y2="390.40" stroke="#222" stroke-width="0.7"/>
<text x="349.0" y="399.9" font-size="6.6" text-anchor="middle" textLength="13.0" lengthAdjust="spacingAndGlyphs" fill="#333">12000</text>
<line x1="365.00" y1="388.40" x2="365.00" y2="390.40" stroke="#222" stroke-width="0.7"/>
<text x="365.0" y="399.9" font-size="6.6" text-anchor="middle" textLength="13.0" lengthAdjust="spacingAndGlyphs" fill="#333">14000</text>
<text x="331.5" y="410.4" font-size="7.2" text-anchor="middle" textLength="70.0" lengthAdjust="spacingAndGlyphs" fill="#333">Rank in ordered dataset</text>
<text x="254.4" y="332.0" font-size="7.2" text-anchor="middle" textLength="32.7" lengthAdjust="spacingAndGlyphs" transform="rotate(-90 254.4 332.0)" fill="#333">Enrichment</text>
<text x="262.0" y="332.7" font-size="7.2" text-anchor="middle" textLength="12.8" lengthAdjust="spacingAndGlyphs" transform="rotate(-90 262.0 332.7)" fill="#333">score</text>
<text x="255.6" y="378.2" font-size="7.2" text-anchor="middle" textLength="48.3" lengthAdjust="spacingAndGlyphs" transform="rotate(-90 255.6 378.2)" fill="#333">Ranked list metric</text>
<text x="262.6" y="380.0" font-size="7.2" text-anchor="middle" textLength="42.0" lengthAdjust="spacingAndGlyphs" transform="rotate(-90 262.6 380.0)" fill="#333">(signal2noise)</text>
<text x="287.3" y="333.2" font-size="6.27" textLength="28.8" lengthAdjust="spacingAndGlyphs" fill="#222">NES = 2.24</text>
<text x="287.3" y="340.2" font-size="6.27" textLength="38.4" lengthAdjust="spacingAndGlyphs" fill="#222">NOM P-val = .0</text>
<text x="287.3" y="346.2" font-size="6.27" textLength="39.4" lengthAdjust="spacingAndGlyphs" fill="#222">FDR q-val = 0.0</text>
<text x="416.2" y="301.5" font-size="6.4" textLength="96.8" lengthAdjust="spacingAndGlyphs" fill="#222">HALLMARK_HEM_METABOLISM</text>
<rect x="420.29" y="345.40" width="1.02" height="12.80" fill="#444"/>
<rect x="421.73" y="345.40" width="1.36" height="12.80" fill="#333"/>
<rect x="423.94" y="345.40" width="0.93" height="12.80" fill="#111"/>
<rect x="426.06" y="345.40" width="1.13" height="12.80" fill="#444"/>
<rect x="427.62" y="345.40" width="1.40" height="12.80" fill="#333"/>
<rect x="429.66" y="345.40" width="1.17" height="12.80" fill="#333"/>
<rect x="431.78" y="345.40" width="0.98" height="12.80" fill="#555"/>
<rect x="433.20" y="345.40" width="1.36" height="12.80" fill="#333"/>
<rect x="435.36" y="345.40" width="1.24" height="12.80" fill="#111"/>
<rect x="436.92" y="345.40" width="1.38" height="12.80" fill="#111"/>
<rect x="438.89" y="345.40" width="0.92" height="12.80" fill="#222"/>
<rect x="440.59" y="345.40" width="1.26" height="12.80" fill="#333"/>
<rect x="442.62" y="345.40" width="1.36" height="12.80" fill="#333"/>
<rect x="444.78" y="345.40" width="1.19" height="12.80" fill="#1a1a1a"/>
<rect x="447.11" y="345.40" width="0.95" height="12.80" fill="#1a1a1a"/>
<rect x="448.96" y="345.40" width="1.03" height="12.80" fill="#555"/>
<rect x="450.72" y="345.40" width="1.21" height="12.80" fill="#222"/>
<rect x="452.50" y="345.40" width="1.32" height="12.80" fill="#444"/>
<rect x="454.35" y="345.40" width="1.19" height="12.80" fill="#444"/>
<rect x="456.15" y="345.40" width="0.97" height="12.80" fill="#666"/>
<rect x="458.64" y="345.40" width="1.30" height="12.80" fill="#bbb"/>
<rect x="461.21" y="345.40" width="1.15" height="12.80" fill="#888"/>
<rect x="463.92" y="345.40" width="1.25" height="12.80" fill="#aaa"/>
<rect x="465.89" y="345.40" width="1.13" height="12.80" fill="#bbb"/>
<rect x="468.54" y="345.40" width="1.09" height="12.80" fill="#888"/>
<rect x="470.49" y="345.40" width="1.04" height="12.80" fill="#bbb"/>
<rect x="473.37" y="345.40" width="0.84" height="12.80" fill="#555"/>
<rect x="475.04" y="345.40" width="1.25" height="12.80" fill="#666"/>
<rect x="477.16" y="345.40" width="1.18" height="12.80" fill="#555"/>
<rect x="479.12" y="345.40" width="1.10" height="12.80" fill="#555"/>
<rect x="480.94" y="345.40" width="1.16" height="12.80" fill="#888"/>
<rect x="483.24" y="345.40" width="1.26" height="12.80" fill="#888"/>
<rect x="485.53" y="345.40" width="1.30" height="12.80" fill="#888"/>
<rect x="487.56" y="345.40" width="0.85" height="12.80" fill="#aaa"/>
<rect x="489.37" y="345.40" width="0.90" height="12.80" fill="#999"/>
<rect x="491.44" y="345.40" width="0.93" height="12.80" fill="#bbb"/>
<rect x="493.13" y="345.40" width="1.23" height="12.80" fill="#888"/>
<rect x="495.48" y="345.40" width="0.87" height="12.80" fill="#555"/>
<rect x="497.57" y="345.40" width="1.03" height="12.80" fill="#aaa"/>
<rect x="499.66" y="345.40" width="1.23" height="12.80" fill="#bbb"/>
<rect x="502.08" y="345.40" width="1.11" height="12.80" fill="#555"/>
<rect x="420.60" y="358.30" width="84.00" height="3.30" fill="url(#rbf2)"/>
<polyline points="421.20,338.70 422.50,330.00 424.00,321.00 425.50,315.00 427.50,310.50 430.00,309.00 433.00,308.30 437.50,308.00 442.00,308.20 447.50,308.80 448.90,309.14 450.31,309.60 451.71,310.12 453.12,310.70 454.52,311.30 455.93,311.95 457.33,312.61 458.74,313.31 460.14,314.02 461.55,314.76 462.95,315.51 464.36,316.28 465.76,317.07 467.17,317.87 468.57,318.69 469.98,319.52 471.38,320.36 472.79,321.22 474.19,322.09 475.60,322.97 477.00,323.86 478.41,324.76 479.81,325.67 481.22,326.60 482.62,327.53 484.03,328.47 485.44,329.42 486.84,330.38 488.25,331.35 489.65,332.32 491.06,333.31 492.46,334.30 493.87,335.30 495.27,336.30 496.68,337.32 498.08,338.34 499.49,339.37 500.89,340.41 502.29,341.45 503.70,342.50 505.00,340.30" fill="none" stroke="#52b04a" stroke-width="0.75"/>
<path d="M420.60,375.80 L420.60,369.73 L422.00,370.34 L423.40,370.89 L424.80,371.38 L426.20,371.82 L427.60,372.22 L429.00,372.57 L430.40,372.89 L431.80,373.17 L433.20,373.43 L434.60,373.66 L436.00,373.86 L437.40,374.05 L438.80,374.22 L440.20,374.37 L441.60,374.51 L443.00,374.64 L444.40,374.75 L445.80,374.86 L447.20,374.95 L448.60,375.04 L450.00,375.12 L451.40,375.20 L452.80,375.27 L454.20,375.33 L455.60,375.39 L457.00,375.45 L458.40,375.50 L459.80,375.55 L461.20,375.59 L462.60,375.64 L464.00,375.68 L465.40,375.72 L466.80,375.76 L468.20,375.79 L469.60,375.83 L471.00,375.86 L472.40,375.90 L473.80,375.93 L475.20,375.96 L476.60,375.99 L478.00,376.02 L479.40,376.05 L480.80,376.08 L482.20,376.11 L483.60,376.14 L485.00,376.17 L486.40,376.20 L487.80,376.24 L489.20,376.28 L490.60,376.33 L492.00,376.39 L493.40,376.46 L494.80,376.57 L496.20,376.71 L497.60,376.92 L499.00,377.22 L500.40,377.66 L501.80,378.32 L503.20,379.31 L504.60,380.79 L504.60,375.80 Z" fill="#c4c4c4" stroke="#999" stroke-width="0.4"/>
<line x1="420.60" y1="375.80" x2="504.60" y2="375.80" stroke="#aaa" stroke-width="0.3"/>
<text x="422.6" y="365.8" font-size="3.2" textLength="38.6" lengthAdjust="spacingAndGlyphs" fill="#e04040">IRX1 (positively correlated)</text>
<text x="447.9" y="375.0" font-size="3.0" textLength="27.4" lengthAdjust="spacingAndGlyphs" fill="#888">Zero cross at 7563</text>
<text x="451.6" y="386.0" font-size="3.0" textLength="47.4" lengthAdjust="spacingAndGlyphs" fill="#5a6aa0">Control (negatively correlated)</text>
<rect x="420.00" y="307.50" width="85.50" height="81.70" fill="none" stroke="#111" stroke-width="0.9"/>
<line x1="416.80" y1="307.70" x2="420.00" y2="307.70" stroke="#222" stroke-width="0.7"/>
<text x="415.6" y="309.6" font-size="6.72" text-anchor="end" textLength="8.3" lengthAdjust="spacingAndGlyphs" fill="#444">0.5</text>
<line x1="416.80" y1="313.80" x2="420.00" y2="313.80" stroke="#222" stroke-width="0.7"/>
<text x="415.6" y="315.7" font-size="6.72" text-anchor="end" textLength="8.3" lengthAdjust="spacingAndGlyphs" fill="#444">0.4</text>
<line x1="416.80" y1="319.90" x2="420.00" y2="319.90" stroke="#222" stroke-width="0.7"/>
<text x="415.6" y="321.8" font-size="6.72" text-anchor="end" textLength="8.3" lengthAdjust="spacingAndGlyphs" fill="#444">0.3</text>
<line x1="416.80" y1="326.00" x2="420.00" y2="326.00" stroke="#222" stroke-width="0.7"/>
<text x="415.6" y="327.9" font-size="6.72" text-anchor="end" textLength="8.3" lengthAdjust="spacingAndGlyphs" fill="#444">0.2</text>
<line x1="416.80" y1="332.10" x2="420.00" y2="332.10" stroke="#222" stroke-width="0.7"/>
<text x="415.6" y="334.0" font-size="6.72" text-anchor="end" textLength="8.3" lengthAdjust="spacingAndGlyphs" fill="#444">0.1</text>
<line x1="416.80" y1="338.20" x2="420.00" y2="338.20" stroke="#222" stroke-width="0.7"/>
<text x="415.6" y="340.1" font-size="6.72" text-anchor="end" textLength="8.3" lengthAdjust="spacingAndGlyphs" fill="#444">0.0</text>
<line x1="416.80" y1="363.90" x2="420.00" y2="363.90" stroke="#222" stroke-width="0.7"/>
<text x="415.4" y="365.8" font-size="5.6" text-anchor="end" fill="#333">4</text>
<line x1="416.80" y1="369.60" x2="420.00" y2="369.60" stroke="#222" stroke-width="0.7"/>
<text x="415.4" y="371.5" font-size="5.6" text-anchor="end" fill="#333">2</text>
<line x1="416.80" y1="375.40" x2="420.00" y2="375.40" stroke="#222" stroke-width="0.7"/>
<text x="415.4" y="377.3" font-size="5.6" text-anchor="end" fill="#333">0</text>
<line x1="416.80" y1="381.20" x2="420.00" y2="381.20" stroke="#222" stroke-width="0.7"/>
<text x="415.4" y="383.1" font-size="6.27" text-anchor="end" textLength="5.0" lengthAdjust="spacingAndGlyphs" fill="#333">-2</text>
<line x1="416.80" y1="387.00" x2="420.00" y2="387.00" stroke="#222" stroke-width="0.7"/>
<text x="415.4" y="388.9" font-size="6.27" text-anchor="end" textLength="5.0" lengthAdjust="spacingAndGlyphs" fill="#333">-4</text>
<line x1="420.10" y1="389.20" x2="420.10" y2="391.20" stroke="#222" stroke-width="0.7"/>
<text x="420.1" y="399.4" font-size="6.6" text-anchor="middle" fill="#333">0</text>
<line x1="442.50" y1="389.20" x2="442.50" y2="391.20" stroke="#222" stroke-width="0.7"/>
<text x="442.5" y="399.4" font-size="6.6" text-anchor="middle" textLength="11.8" lengthAdjust="spacingAndGlyphs" fill="#333">4000</text>
<line x1="461.80" y1="389.20" x2="461.80" y2="391.20" stroke="#222" stroke-width="0.7"/>
<text x="461.8" y="399.4" font-size="6.6" text-anchor="middle" textLength="11.8" lengthAdjust="spacingAndGlyphs" fill="#333">8000</text>
<line x1="483.20" y1="389.20" x2="483.20" y2="391.20" stroke="#222" stroke-width="0.7"/>
<text x="483.2" y="399.4" font-size="6.6" text-anchor="middle" textLength="13.0" lengthAdjust="spacingAndGlyphs" fill="#333">12000</text>
<line x1="502.00" y1="389.20" x2="502.00" y2="391.20" stroke="#222" stroke-width="0.7"/>
<text x="502.0" y="399.4" font-size="6.6" text-anchor="middle" textLength="13.0" lengthAdjust="spacingAndGlyphs" fill="#333">14000</text>
<text x="464.3" y="409.9" font-size="7.2" text-anchor="middle" textLength="67.0" lengthAdjust="spacingAndGlyphs" fill="#333">Rank in ordered dataset</text>
<text x="403.4" y="322.7" font-size="7.2" text-anchor="middle" textLength="31.3" lengthAdjust="spacingAndGlyphs" transform="rotate(-90 403.4 322.7)" fill="#333">Enrichment</text>
<text x="396.0" y="376.2" font-size="7.2" text-anchor="middle" textLength="47.7" lengthAdjust="spacingAndGlyphs" transform="rotate(-90 396.0 376.2)" fill="#333">Ranked list metric</text>
<text x="404.3" y="377.0" font-size="7.2" text-anchor="middle" textLength="38.3" lengthAdjust="spacingAndGlyphs" transform="rotate(-90 404.3 377.0)" fill="#333">(signal2noise)</text>
<text x="423.8" y="327.0" font-size="6.27" textLength="28.8" lengthAdjust="spacingAndGlyphs" fill="#222">NES = 2.18</text>
<text x="423.8" y="333.7" font-size="6.27" textLength="38.4" lengthAdjust="spacingAndGlyphs" fill="#222">NOM P-val = .0</text>
<text x="423.8" y="340.0" font-size="6.27" textLength="39.4" lengthAdjust="spacingAndGlyphs" fill="#222">FDR q-val = 0.0</text>
<text x="412.0" y="146.6" font-size="8.4" text-anchor="middle" textLength="17.0" lengthAdjust="spacingAndGlyphs" fill="#222">IRX1</text>
<text x="404.6" y="152.0" font-size="5" text-anchor="middle" fill="#333">+</text>
<text x="420.8" y="152.0" font-size="5" text-anchor="middle" fill="#333">–</text>
<rect x="395.40" y="153.00" width="17.60" height="1.80" fill="#c8203a"/>
<rect x="413.00" y="153.00" width="16.20" height="1.80" fill="#2a4a9a"/>
<rect x="396.20" y="156.80" width="16.15" height="109.80" fill="#1c0c4c"/>
<rect x="412.35" y="156.80" width="16.15" height="109.80" fill="#7a0c10"/>
<rect x="396.50" y="157.10" width="4.78" height="4.89" fill="#3a1e8a"/>
<rect x="401.88" y="157.10" width="4.78" height="4.89" fill="#44269a"/>
<rect x="407.27" y="157.10" width="4.78" height="4.89" fill="#4c30a2"/>
<rect x="412.65" y="157.10" width="4.78" height="4.89" fill="#d81a1c"/>
<rect x="418.03" y="157.10" width="4.78" height="4.89" fill="#e42a2a"/>
<rect x="423.42" y="157.10" width="4.78" height="4.89" fill="#ec5050"/>
<rect x="396.50" y="162.59" width="4.78" height="4.89" fill="#3c2090"/>
<rect x="401.88" y="162.59" width="4.78" height="4.89" fill="#44269a"/>
<rect x="407.27" y="162.59" width="4.78" height="4.89" fill="#44269a"/>
<rect x="412.65" y="162.59" width="4.78" height="4.89" fill="#e42a2a"/>
<rect x="418.03" y="162.59" width="4.78" height="4.89" fill="#dc1418"/>
<rect x="423.42" y="162.59" width="4.78" height="4.89" fill="#ec5050"/>
<rect x="396.50" y="168.08" width="4.78" height="4.89" fill="#3c2090"/>
<rect x="401.88" y="168.08" width="4.78" height="4.89" fill="#3f2494"/>
<rect x="407.27" y="168.08" width="4.78" height="4.89" fill="#3f2494"/>
<rect x="412.65" y="168.08" width="4.78" height="4.89" fill="#dc1418"/>
<rect x="418.03" y="168.08" width="4.78" height="4.89" fill="#f27068"/>
<rect x="423.42" y="168.08" width="4.78" height="4.89" fill="#f48c86"/>
<rect x="396.50" y="173.57" width="4.78" height="4.89" fill="#3f2494"/>
<rect x="401.88" y="173.57" width="4.78" height="4.89" fill="#44269a"/>
<rect x="407.27" y="173.57" width="4.78" height="4.89" fill="#3c2090"/>
<rect x="412.65" y="173.57" width="4.78" height="4.89" fill="#dc1418"/>
<rect x="418.03" y="173.57" width="4.78" height="4.89" fill="#e42a2a"/>
<rect x="423.42" y="173.57" width="4.78" height="4.89" fill="#e42a2a"/>
<rect x="396.50" y="179.06" width="4.78" height="4.89" fill="#3c2090"/>
<rect x="401.88" y="179.06" width="4.78" height="4.89" fill="#3a1e8a"/>
<rect x="407.27" y="179.06" width="4.78" height="4.89" fill="#3c2090"/>
<rect x="412.65" y="179.06" width="4.78" height="4.89" fill="#d81a1c"/>
<rect x="418.03" y="179.06" width="4.78" height="4.89" fill="#e42a2a"/>
<rect x="423.42" y="179.06" width="4.78" height="4.89" fill="#f48c86"/>
<rect x="396.50" y="184.55" width="4.78" height="4.89" fill="#44269a"/>
<rect x="401.88" y="184.55" width="4.78" height="4.89" fill="#44269a"/>
<rect x="407.27" y="184.55" width="4.78" height="4.89" fill="#44269a"/>
<rect x="412.65" y="184.55" width="4.78" height="4.89" fill="#d81a1c"/>
<rect x="418.03" y="184.55" width="4.78" height="4.89" fill="#e42a2a"/>
<rect x="423.42" y="184.55" width="4.78" height="4.89" fill="#ec5050"/>
<rect x="396.50" y="190.04" width="4.78" height="4.89" fill="#6c5cc0"/>
<rect x="401.88" y="190.04" width="4.78" height="4.89" fill="#6c5cc0"/>
<rect x="407.27" y="190.04" width="4.78" height="4.89" fill="#4c30a2"/>
<rect x="412.65" y="190.04" width="4.78" height="4.89" fill="#d81a1c"/>
<rect x="418.03" y="190.04" width="4.78" height="4.89" fill="#dc1418"/>
<rect x="423.42" y="190.04" width="4.78" height="4.89" fill="#e42a2a"/>
<rect x="396.50" y="195.53" width="4.78" height="4.89" fill="#3a1e8a"/>
<rect x="401.88" y="195.53" width="4.78" height="4.89" fill="#3c2090"/>
<rect x="407.27" y="195.53" width="4.78" height="4.89" fill="#3f2494"/>
<rect x="412.65" y="195.53" width="4.78" height="4.89" fill="#dc1418"/>
<rect x="418.03" y="195.53" width="4.78" height="4.89" fill="#f27068"/>
<rect x="423.42" y="195.53" width="4.78" height="4.89" fill="#ec5050"/>
<rect x="396.50" y="201.02" width="4.78" height="4.89" fill="#5a44b0"/>
<rect x="401.88" y="201.02" width="4.78" height="4.89" fill="#4c30a2"/>
<rect x="407.27" y="201.02" width="4.78" height="4.89" fill="#3c2090"/>
<rect x="412.65" y="201.02" width="4.78" height="4.89" fill="#dc1418"/>
<rect x="418.03" y="201.02" width="4.78" height="4.89" fill="#f27068"/>
<rect x="423.42" y="201.02" width="4.78" height="4.89" fill="#ec5050"/>
<rect x="396.50" y="206.51" width="4.78" height="4.89" fill="#6c5cc0"/>
<rect x="401.88" y="206.51" width="4.78" height="4.89" fill="#3a1e8a"/>
<rect x="407.27" y="206.51" width="4.78" height="4.89" fill="#3c2090"/>
<rect x="412.65" y="206.51" width="4.78" height="4.89" fill="#d81a1c"/>
<rect x="418.03" y="206.51" width="4.78" height="4.89" fill="#ec4848"/>
<rect x="423.42" y="206.51" width="4.78" height="4.89" fill="#ec5050"/>
<rect x="396.50" y="212.00" width="4.78" height="4.89" fill="#3c2090"/>
<rect x="401.88" y="212.00" width="4.78" height="4.89" fill="#3a1e8a"/>
<rect x="407.27" y="212.00" width="4.78" height="4.89" fill="#5a44b0"/>
<rect x="412.65" y="212.00" width="4.78" height="4.89" fill="#d81a1c"/>
<rect x="418.03" y="212.00" width="4.78" height="4.89" fill="#dc1418"/>
<rect x="423.42" y="212.00" width="4.78" height="4.89" fill="#ec5050"/>
<rect x="396.50" y="217.49" width="4.78" height="4.89" fill="#3c2090"/>
<rect x="401.88" y="217.49" width="4.78" height="4.89" fill="#3c2090"/>
<rect x="407.27" y="217.49" width="4.78" height="4.89" fill="#3f2494"/>
<rect x="412.65" y="217.49" width="4.78" height="4.89" fill="#dc1418"/>
<rect x="418.03" y="217.49" width="4.78" height="4.89" fill="#e42a2a"/>
<rect x="423.42" y="217.49" width="4.78" height="4.89" fill="#ec5050"/>
<rect x="396.50" y="222.98" width="4.78" height="4.89" fill="#3c2090"/>
<rect x="401.88" y="222.98" width="4.78" height="4.89" fill="#3f2494"/>
<rect x="407.27" y="222.98" width="4.78" height="4.89" fill="#3c2090"/>
<rect x="412.65" y="222.98" width="4.78" height="4.89" fill="#d81a1c"/>
<rect x="418.03" y="222.98" width="4.78" height="4.89" fill="#dc1418"/>
<rect x="423.42" y="222.98" width="4.78" height="4.89" fill="#ec5050"/>
<rect x="396.50" y="228.47" width="4.78" height="4.89" fill="#3c2090"/>
<rect x="401.88" y="228.47" width="4.78" height="4.89" fill="#3a1e8a"/>
<rect x="407.27" y="228.47" width="4.78" height="4.89" fill="#5a44b0"/>
<rect x="412.65" y="228.47" width="4.78" height="4.89" fill="#e42a2a"/>
<rect x="418.03" y="228.47" width="4.78" height="4.89" fill="#dc1418"/>
<rect x="423.42" y="228.47" width="4.78" height="4.89" fill="#f48c86"/>
<rect x="396.50" y="233.96" width="4.78" height="4.89" fill="#3c2090"/>
<rect x="401.88" y="233.96" width="4.78" height="4.89" fill="#3a1e8a"/>
<rect x="407.27" y="233.96" width="4.78" height="4.89" fill="#4c30a2"/>
<rect x="412.65" y="233.96" width="4.78" height="4.89" fill="#d81a1c"/>
<rect x="418.03" y="233.96" width="4.78" height="4.89" fill="#dc1418"/>
<rect x="423.42" y="233.96" width="4.78" height="4.89" fill="#f48c86"/>
<rect x="396.50" y="239.45" width="4.78" height="4.89" fill="#3c2090"/>
<rect x="401.88" y="239.45" width="4.78" height="4.89" fill="#3a1e8a"/>
<rect x="407.27" y="239.45" width="4.78" height="4.89" fill="#3f2494"/>
<rect x="412.65" y="239.45" width="4.78" height="4.89" fill="#dc1418"/>
<rect x="418.03" y="239.45" width="4.78" height="4.89" fill="#dc1418"/>
<rect x="423.42" y="239.45" width="4.78" height="4.89" fill="#e42a2a"/>
<rect x="396.50" y="244.94" width="4.78" height="4.89" fill="#3c2090"/>
<rect x="401.88" y="244.94" width="4.78" height="4.89" fill="#44269a"/>
<rect x="407.27" y="244.94" width="4.78" height="4.89" fill="#3a1e8a"/>
<rect x="412.65" y="244.94" width="4.78" height="4.89" fill="#d81a1c"/>
<rect x="418.03" y="244.94" width="4.78" height="4.89" fill="#e42a2a"/>
<rect x="423.42" y="244.94" width="4.78" height="4.89" fill="#ec5050"/>
<rect x="396.50" y="250.43" width="4.78" height="4.89" fill="#5a44b0"/>
<rect x="401.88" y="250.43" width="4.78" height="4.89" fill="#44269a"/>
<rect x="407.27" y="250.43" width="4.78" height="4.89" fill="#44269a"/>
<rect x="412.65" y="250.43" width="4.78" height="4.89" fill="#e42a2a"/>
<rect x="418.03" y="250.43" width="4.78" height="4.89" fill="#dc1418"/>
<rect x="423.42" y="250.43" width="4.78" height="4.89" fill="#e42a2a"/>
<rect x="396.50" y="255.92" width="4.78" height="4.89" fill="#4c30a2"/>
<rect x="401.88" y="255.92" width="4.78" height="4.89" fill="#3f2494"/>
<rect x="407.27" y="255.92" width="4.78" height="4.89" fill="#3a1e8a"/>
<rect x="412.65" y="255.92" width="4.78" height="4.89" fill="#dc1418"/>
<rect x="418.03" y="255.92" width="4.78" height="4.89" fill="#ec4848"/>
<rect x="423.42" y="255.92" width="4.78" height="4.89" fill="#f48c86"/>
<rect x="396.50" y="261.41" width="4.78" height="4.89" fill="#3c2090"/>
<rect x="401.88" y="261.41" width="4.78" height="4.89" fill="#5a44b0"/>
<rect x="407.27" y="261.41" width="4.78" height="4.89" fill="#4c30a2"/>
<rect x="412.65" y="261.41" width="4.78" height="4.89" fill="#d81a1c"/>
<rect x="418.03" y="261.41" width="4.78" height="4.89" fill="#e42a2a"/>
<rect x="423.42" y="261.41" width="4.78" height="4.89" fill="#e42a2a"/>
<text x="433.3" y="162.0" font-size="7.31" textLength="18.5" lengthAdjust="spacingAndGlyphs" fill="#3a3a3a">WRD4</text>
<text x="433.3" y="167.5" font-size="7.31" textLength="17.2" lengthAdjust="spacingAndGlyphs" fill="#3a3a3a">NOP2</text>
<text x="433.3" y="173.0" font-size="7.31" textLength="22.1" lengthAdjust="spacingAndGlyphs" fill="#3a3a3a">WDR43</text>
<text x="433.3" y="178.5" font-size="7.31" textLength="20.3" lengthAdjust="spacingAndGlyphs" fill="#3a3a3a">RRP12</text>
<text x="433.3" y="183.9" font-size="7.31" textLength="16.7" lengthAdjust="spacingAndGlyphs" fill="#3a3a3a">PPAN</text>
<text x="433.3" y="189.4" font-size="7.31" textLength="21.8" lengthAdjust="spacingAndGlyphs" fill="#3a3a3a">MRTO4</text>
<text x="433.3" y="194.9" font-size="7.31" textLength="21.0" lengthAdjust="spacingAndGlyphs" fill="#3a3a3a">DCPP1</text>
<text x="433.3" y="200.4" font-size="7.31" textLength="29.8" lengthAdjust="spacingAndGlyphs" fill="#3a3a3a">MYBBP1A</text>
<text x="433.3" y="205.9" font-size="7.31" textLength="16.5" lengthAdjust="spacingAndGlyphs" fill="#3a3a3a">GNL3</text>
<text x="433.3" y="211.4" font-size="7.31" textLength="14.7" lengthAdjust="spacingAndGlyphs" fill="#3a3a3a">IMP4</text>
<text x="433.3" y="216.8" font-size="7.31" textLength="28.7" lengthAdjust="spacingAndGlyphs" fill="#3a3a3a">NDUFAF4</text>
<text x="433.3" y="222.3" font-size="7.31" textLength="16.5" lengthAdjust="spacingAndGlyphs" fill="#3a3a3a">TPO4</text>
<text x="433.3" y="227.8" font-size="7.31" textLength="14.0" lengthAdjust="spacingAndGlyphs" fill="#3a3a3a">SRM</text>
<text x="433.3" y="233.3" font-size="7.31" textLength="20.7" lengthAdjust="spacingAndGlyphs" fill="#3a3a3a">NOP16</text>
<text x="433.3" y="238.8" font-size="7.31" textLength="16.8" lengthAdjust="spacingAndGlyphs" fill="#3a3a3a">RRP9</text>
<text x="433.3" y="244.3" font-size="7.31" textLength="27.0" lengthAdjust="spacingAndGlyphs" fill="#3a3a3a">SCL19A1</text>
<text x="433.3" y="249.8" font-size="7.31" textLength="25.6" lengthAdjust="spacingAndGlyphs" fill="#3a3a3a">RABEPK</text>
<text x="433.3" y="255.2" font-size="7.31" textLength="12.3" lengthAdjust="spacingAndGlyphs" fill="#3a3a3a">HK2</text>
<text x="433.3" y="260.7" font-size="7.31" textLength="14.0" lengthAdjust="spacingAndGlyphs" fill="#3a3a3a">MYC</text>
<text x="433.3" y="266.2" font-size="7.31" textLength="18.2" lengthAdjust="spacingAndGlyphs" fill="#3a3a3a">SORD</text>
<path d="M461,258.5 L451.8,258.5" stroke="#a8232e" stroke-width="1"/>
<polygon points="450,258.5 453.6,256.7 453.6,260.3" fill="#a8232e"/>
<text x="8.1" y="424.7" font-size="11.6" font-weight="bold" fill="#111">G</text>
<text x="24.4" y="456.6" font-size="8.2" text-anchor="middle" textLength="32.7" lengthAdjust="spacingAndGlyphs" transform="rotate(-90 24.4 456.6)" fill="#333">KPAM1 IRX1</text>
<text x="38.4" y="456.2" font-size="8.6" text-anchor="middle" textLength="26.0" lengthAdjust="spacingAndGlyphs" transform="rotate(-90 38.4 456.2)" fill="#333">Cell count</text>
<text x="25.0" y="521.3" font-size="8.2" text-anchor="middle" textLength="29.7" lengthAdjust="spacingAndGlyphs" transform="rotate(-90 25.0 521.3)" fill="#333">MGS IRX1</text>
<text x="38.4" y="520.8" font-size="8.6" text-anchor="middle" textLength="28.0" lengthAdjust="spacingAndGlyphs" transform="rotate(-90 38.4 520.8)" fill="#333">Cell count</text>
<clipPath id="hc5"><path d="M66.00,479.60 L66.00,479.60 L66.69,479.08 L67.38,478.90 L68.06,478.41 L68.75,477.48 L69.38,475.33 L70.00,473.13 L70.62,472.05 L71.25,469.93 L71.88,468.40 L72.50,466.05 L73.12,462.47 L73.75,457.83 L74.38,454.41 L75.00,450.28 L75.63,445.73 L76.27,441.71 L76.90,437.72 L77.90,430.43 L79.00,433.06 L79.75,439.87 L80.50,445.72 L81.20,450.86 L81.90,455.22 L82.60,458.58 L83.30,461.14 L84.00,464.01 L84.70,466.70 L85.40,468.55 L86.10,469.95 L86.80,471.37 L87.50,473.34 L88.12,474.81 L88.75,475.35 L89.38,477.09 L90.00,477.61 L90.60,477.52 L91.20,478.45 L91.80,478.64 L92.40,479.02 L93.00,479.40 L93.60,479.44 L94.20,479.48 L94.80,479.52 L95.40,479.56 L96.00,479.60 L96.00,479.60 Z"/></clipPath>
<path d="M66.00,479.60 L66.00,479.60 L66.69,479.08 L67.38,478.90 L68.06,478.41 L68.75,477.48 L69.38,475.33 L70.00,473.13 L70.62,472.05 L71.25,469.93 L71.88,468.40 L72.50,466.05 L73.12,462.47 L73.75,457.83 L74.38,454.41 L75.00,450.28 L75.63,445.73 L76.27,441.71 L76.90,437.72 L77.90,430.43 L79.00,433.06 L79.75,439.87 L80.50,445.72 L81.20,450.86 L81.90,455.22 L82.60,458.58 L83.30,461.14 L84.00,464.01 L84.70,466.70 L85.40,468.55 L86.10,469.95 L86.80,471.37 L87.50,473.34 L88.12,474.81 L88.75,475.35 L89.38,477.09 L90.00,477.61 L90.60,477.52 L91.20,478.45 L91.80,478.64 L92.40,479.02 L93.00,479.40 L93.60,479.44 L94.20,479.48 L94.80,479.52 L95.40,479.56 L96.00,479.60 L96.00,479.60 Z" fill="#e2705e" stroke="none" stroke-width="0.8"/>
<path d="M70.00,479.60 L70.00,479.60 L70.60,479.08 L71.20,478.76 L71.80,478.43 L72.40,477.99 L73.00,477.71 L73.64,475.72 L74.28,474.36 L74.92,471.27 L75.56,470.30 L76.20,469.41 L76.97,466.71 L77.73,464.87 L78.50,461.38 L79.25,459.70 L80.00,457.09 L80.63,456.80 L81.27,456.08 L81.90,454.42 L82.70,455.25 L83.50,455.85 L84.25,457.27 L85.00,457.43 L85.62,457.58 L86.25,459.73 L86.88,459.80 L87.50,461.69 L88.17,460.90 L88.83,460.70 L89.50,462.09 L90.35,461.54 L91.20,462.04 L91.85,464.02 L92.50,464.60 L93.10,464.76 L93.70,466.94 L94.60,468.16 L95.50,470.28 L96.17,470.76 L96.83,473.17 L97.50,474.01 L98.12,475.15 L98.75,475.73 L99.38,475.48 L100.00,476.28 L100.62,476.49 L101.25,476.98 L101.88,477.38 L102.50,478.60 L103.20,478.76 L103.90,478.92 L104.60,479.08 L105.30,479.24 L106.00,479.40 L106.62,479.45 L107.25,479.50 L107.88,479.55 L108.50,479.60 L108.50,479.60 Z" fill="#8fd06e" stroke="none" stroke-width="0.8"/>
<g clip-path="url(#hc5)">
<path d="M70.00,479.60 L70.00,479.60 L70.60,479.08 L71.20,478.76 L71.80,478.43 L72.40,477.99 L73.00,477.71 L73.64,475.72 L74.28,474.36 L74.92,471.27 L75.56,470.30 L76.20,469.41 L76.97,466.71 L77.73,464.87 L78.50,461.38 L79.25,459.70 L80.00,457.09 L80.63,456.80 L81.27,456.08 L81.90,454.42 L82.70,455.25 L83.50,455.85 L84.25,457.27 L85.00,457.43 L85.62,457.58 L86.25,459.73 L86.88,459.80 L87.50,461.69 L88.17,460.90 L88.83,460.70 L89.50,462.09 L90.35,461.54 L91.20,462.04 L91.85,464.02 L92.50,464.60 L93.10,464.76 L93.70,466.94 L94.60,468.16 L95.50,470.28 L96.17,470.76 L96.83,473.17 L97.50,474.01 L98.12,475.15 L98.75,475.73 L99.38,475.48 L100.00,476.28 L100.62,476.49 L101.25,476.98 L101.88,477.38 L102.50,478.60 L103.20,478.76 L103.90,478.92 L104.60,479.08 L105.30,479.24 L106.00,479.40 L106.62,479.45 L107.25,479.50 L107.88,479.55 L108.50,479.60 L108.50,479.60 Z" fill="#a9b24e" stroke="none" stroke-width="0.8"/>
</g>
<path d="M66.00,479.60 L66.00,479.60 L66.69,479.08 L67.38,478.90 L68.06,478.41 L68.75,477.48 L69.38,475.33 L70.00,473.13 L70.62,472.05 L71.25,469.93 L71.88,468.40 L72.50,466.05 L73.12,462.47 L73.75,457.83 L74.38,454.41 L75.00,450.28 L75.63,445.73 L76.27,441.71 L76.90,437.72 L77.90,430.43 L79.00,433.06 L79.75,439.87 L80.50,445.72 L81.20,450.86 L81.90,455.22 L82.60,458.58 L83.30,461.14 L84.00,464.01 L84.70,466.70 L85.40,468.55 L86.10,469.95 L86.80,471.37 L87.50,473.34 L88.12,474.81 L88.75,475.35 L89.38,477.09 L90.00,477.61 L90.60,477.52 L91.20,478.45 L91.80,478.64 L92.40,479.02 L93.00,479.40 L93.60,479.44 L94.20,479.48 L94.80,479.52 L95.40,479.56 L96.00,479.60 L96.00,479.60 Z" fill="none" stroke="#5e2010" stroke-width="1.0" stroke-linejoin="round"/>
<path d="M70.00,479.60 L70.00,479.60 L70.60,479.08 L71.20,478.76 L71.80,478.43 L72.40,477.99 L73.00,477.71 L73.64,475.72 L74.28,474.36 L74.92,471.27 L75.56,470.30 L76.20,469.41 L76.97,466.71 L77.73,464.87 L78.50,461.38 L79.25,459.70 L80.00,457.09 L80.63,456.80 L81.27,456.08 L81.90,454.42 L82.70,455.25 L83.50,455.85 L84.25,457.27 L85.00,457.43 L85.62,457.58 L86.25,459.73 L86.88,459.80 L87.50,461.69 L88.17,460.90 L88.83,460.70 L89.50,462.09 L90.35,461.54 L91.20,462.04 L91.85,464.02 L92.50,464.60 L93.10,464.76 L93.70,466.94 L94.60,468.16 L95.50,470.28 L96.17,470.76 L96.83,473.17 L97.50,474.01 L98.12,475.15 L98.75,475.73 L99.38,475.48 L100.00,476.28 L100.62,476.49 L101.25,476.98 L101.88,477.38 L102.50,478.60 L103.20,478.76 L103.90,478.92 L104.60,479.08 L105.30,479.24 L106.00,479.40 L106.62,479.45 L107.25,479.50 L107.88,479.55 L108.50,479.60 L108.50,479.60 Z" fill="none" stroke="#0d5434" stroke-width="1.25" stroke-linejoin="round"/>
<rect x="60.40" y="428.50" width="51.90" height="51.10" fill="none" stroke="#111" stroke-width="0.9"/>
<line x1="58.40" y1="437.50" x2="60.40" y2="437.50" stroke="#222" stroke-width="0.7"/>
<text x="57.4" y="439.7" font-size="7.06" text-anchor="end" textLength="10.5" lengthAdjust="spacingAndGlyphs" fill="#333">100</text>
<line x1="58.40" y1="458.60" x2="60.40" y2="458.60" stroke="#222" stroke-width="0.7"/>
<text x="57.4" y="460.8" font-size="7.06" text-anchor="end" textLength="7.0" lengthAdjust="spacingAndGlyphs" fill="#333">50</text>
<line x1="58.40" y1="479.60" x2="60.40" y2="479.60" stroke="#222" stroke-width="0.7"/>
<text x="57.4" y="481.8" font-size="6.3" text-anchor="end" fill="#333">0</text>
<line x1="73.50" y1="479.60" x2="73.50" y2="481.40" stroke="#222" stroke-width="0.6"/>
<line x1="86.00" y1="479.60" x2="86.00" y2="481.40" stroke="#222" stroke-width="0.6"/>
<line x1="98.70" y1="479.60" x2="98.70" y2="481.40" stroke="#222" stroke-width="0.6"/>
<line x1="111.60" y1="479.60" x2="111.60" y2="481.40" stroke="#222" stroke-width="0.6"/>
<text x="72.9" y="491.3" font-size="6.6" text-anchor="middle" fill="#333" textLength="7.6" lengthAdjust="spacingAndGlyphs">10<tspan font-size="4.2" dy="-2.6">3</tspan></text>
<text x="85.4" y="491.3" font-size="6.6" text-anchor="middle" fill="#333" textLength="7.6" lengthAdjust="spacingAndGlyphs">10<tspan font-size="4.2" dy="-2.6">4</tspan></text>
<text x="98.1" y="491.3" font-size="6.6" text-anchor="middle" fill="#333" textLength="7.6" lengthAdjust="spacingAndGlyphs">10<tspan font-size="4.2" dy="-2.6">5</tspan></text>
<text x="111.0" y="491.3" font-size="6.6" text-anchor="middle" fill="#333" textLength="7.6" lengthAdjust="spacingAndGlyphs">10<tspan font-size="4.2" dy="-2.6">6</tspan></text>
<clipPath id="hc9"><path d="M144.00,479.60 L144.00,479.60 L144.67,478.90 L145.33,478.29 L146.00,477.41 L146.62,476.97 L147.25,475.90 L147.88,476.00 L148.50,475.39 L149.12,474.56 L149.75,473.34 L150.38,473.15 L151.00,472.29 L151.67,469.45 L152.33,467.54 L153.00,464.85 L153.67,460.95 L154.33,459.18 L155.00,456.12 L155.62,451.23 L156.25,446.49 L156.88,442.33 L157.50,437.45 L158.70,432.82 L159.33,434.43 L159.97,435.43 L160.60,437.82 L161.22,442.70 L161.85,447.31 L162.47,451.51 L163.10,455.45 L163.73,460.40 L164.37,465.56 L165.00,471.53 L165.62,472.39 L166.25,474.09 L166.88,476.35 L167.50,477.28 L168.12,477.80 L168.75,477.90 L169.38,477.69 L170.00,478.55 L170.62,478.69 L171.25,478.92 L171.88,479.16 L172.50,479.40 L173.12,479.45 L173.75,479.50 L174.38,479.55 L175.00,479.60 L175.00,479.60 Z"/></clipPath>
<path d="M144.00,479.60 L144.00,479.60 L144.67,478.90 L145.33,478.29 L146.00,477.41 L146.62,476.97 L147.25,475.90 L147.88,476.00 L148.50,475.39 L149.12,474.56 L149.75,473.34 L150.38,473.15 L151.00,472.29 L151.67,469.45 L152.33,467.54 L153.00,464.85 L153.67,460.95 L154.33,459.18 L155.00,456.12 L155.62,451.23 L156.25,446.49 L156.88,442.33 L157.50,437.45 L158.70,432.82 L159.33,434.43 L159.97,435.43 L160.60,437.82 L161.22,442.70 L161.85,447.31 L162.47,451.51 L163.10,455.45 L163.73,460.40 L164.37,465.56 L165.00,471.53 L165.62,472.39 L166.25,474.09 L166.88,476.35 L167.50,477.28 L168.12,477.80 L168.75,477.90 L169.38,477.69 L170.00,478.55 L170.62,478.69 L171.25,478.92 L171.88,479.16 L172.50,479.40 L173.12,479.45 L173.75,479.50 L174.38,479.55 L175.00,479.60 L175.00,479.60 Z" fill="#e2705e" stroke="none" stroke-width="0.8"/>
<path d="M144.00,479.60 L144.00,479.60 L144.67,479.00 L145.33,478.34 L146.00,477.60 L146.62,476.62 L147.25,477.19 L147.88,475.21 L148.50,475.40 L149.12,475.44 L149.75,473.53 L150.38,473.69 L151.00,473.19 L151.67,469.52 L152.33,467.31 L153.00,465.08 L153.67,461.92 L154.33,459.61 L155.00,455.95 L155.62,451.46 L156.25,446.63 L156.88,442.64 L157.50,438.68 L158.20,435.29 L158.90,432.74 L159.53,434.01 L160.17,436.49 L160.80,437.36 L161.43,442.29 L162.05,447.53 L162.68,452.24 L163.30,456.37 L163.93,460.74 L164.57,465.93 L165.20,470.74 L165.85,472.45 L166.50,474.90 L167.15,475.52 L167.80,478.22 L168.45,478.43 L169.10,477.34 L169.75,478.08 L170.40,478.49 L171.05,478.73 L171.70,478.95 L172.35,479.17 L173.00,479.40 L173.60,479.44 L174.20,479.48 L174.80,479.52 L175.40,479.56 L176.00,479.60 L176.00,479.60 Z" fill="#8fd06e" stroke="none" stroke-width="0.8"/>
<g clip-path="url(#hc9)">
<path d="M144.00,479.60 L144.00,479.60 L144.67,479.00 L145.33,478.34 L146.00,477.60 L146.62,476.62 L147.25,477.19 L147.88,475.21 L148.50,475.40 L149.12,475.44 L149.75,473.53 L150.38,473.69 L151.00,473.19 L151.67,469.52 L152.33,467.31 L153.00,465.08 L153.67,461.92 L154.33,459.61 L155.00,455.95 L155.62,451.46 L156.25,446.63 L156.88,442.64 L157.50,438.68 L158.20,435.29 L158.90,432.74 L159.53,434.01 L160.17,436.49 L160.80,437.36 L161.43,442.29 L162.05,447.53 L162.68,452.24 L163.30,456.37 L163.93,460.74 L164.57,465.93 L165.20,470.74 L165.85,472.45 L166.50,474.90 L167.15,475.52 L167.80,478.22 L168.45,478.43 L169.10,477.34 L169.75,478.08 L170.40,478.49 L171.05,478.73 L171.70,478.95 L172.35,479.17 L173.00,479.40 L173.60,479.44 L174.20,479.48 L174.80,479.52 L175.40,479.56 L176.00,479.60 L176.00,479.60 Z" fill="#a9b24e" stroke="none" stroke-width="0.8"/>
</g>
<path d="M144.00,479.60 L144.00,479.60 L144.67,478.90 L145.33,478.29 L146.00,477.41 L146.62,476.97 L147.25,475.90 L147.88,476.00 L148.50,475.39 L149.12,474.56 L149.75,473.34 L150.38,473.15 L151.00,472.29 L151.67,469.45 L152.33,467.54 L153.00,464.85 L153.67,460.95 L154.33,459.18 L155.00,456.12 L155.62,451.23 L156.25,446.49 L156.88,442.33 L157.50,437.45 L158.70,432.82 L159.33,434.43 L159.97,435.43 L160.60,437.82 L161.22,442.70 L161.85,447.31 L162.47,451.51 L163.10,455.45 L163.73,460.40 L164.37,465.56 L165.00,471.53 L165.62,472.39 L166.25,474.09 L166.88,476.35 L167.50,477.28 L168.12,477.80 L168.75,477.90 L169.38,477.69 L170.00,478.55 L170.62,478.69 L171.25,478.92 L171.88,479.16 L172.50,479.40 L173.12,479.45 L173.75,479.50 L174.38,479.55 L175.00,479.60 L175.00,479.60 Z" fill="none" stroke="#5e2010" stroke-width="1.0" stroke-linejoin="round"/>
<path d="M144.00,479.60 L144.00,479.60 L144.67,479.00 L145.33,478.34 L146.00,477.60 L146.62,476.62 L147.25,477.19 L147.88,475.21 L148.50,475.40 L149.12,475.44 L149.75,473.53 L150.38,473.69 L151.00,473.19 L151.67,469.52 L152.33,467.31 L153.00,465.08 L153.67,461.92 L154.33,459.61 L155.00,455.95 L155.62,451.46 L156.25,446.63 L156.88,442.64 L157.50,438.68 L158.20,435.29 L158.90,432.74 L159.53,434.01 L160.17,436.49 L160.80,437.36 L161.43,442.29 L162.05,447.53 L162.68,452.24 L163.30,456.37 L163.93,460.74 L164.57,465.93 L165.20,470.74 L165.85,472.45 L166.50,474.90 L167.15,475.52 L167.80,478.22 L168.45,478.43 L169.10,477.34 L169.75,478.08 L170.40,478.49 L171.05,478.73 L171.70,478.95 L172.35,479.17 L173.00,479.40 L173.60,479.44 L174.20,479.48 L174.80,479.52 L175.40,479.56 L176.00,479.60 L176.00,479.60 Z" fill="none" stroke="#0d5434" stroke-width="1.25" stroke-linejoin="round"/>
<rect x="142.80" y="428.50" width="51.00" height="51.10" fill="none" stroke="#111" stroke-width="0.9"/>
<line x1="140.80" y1="440.60" x2="142.80" y2="440.60" stroke="#222" stroke-width="0.7"/>
<text x="139.8" y="442.8" font-size="7.06" text-anchor="end" textLength="10.5" lengthAdjust="spacingAndGlyphs" fill="#333">100</text>
<line x1="140.80" y1="460.20" x2="142.80" y2="460.20" stroke="#222" stroke-width="0.7"/>
<text x="139.8" y="462.4" font-size="7.06" text-anchor="end" textLength="7.0" lengthAdjust="spacingAndGlyphs" fill="#333">50</text>
<line x1="140.80" y1="479.60" x2="142.80" y2="479.60" stroke="#222" stroke-width="0.7"/>
<text x="139.8" y="481.8" font-size="6.3" text-anchor="end" fill="#333">0</text>
<line x1="155.60" y1="479.60" x2="155.60" y2="481.40" stroke="#222" stroke-width="0.6"/>
<line x1="168.40" y1="479.60" x2="168.40" y2="481.40" stroke="#222" stroke-width="0.6"/>
<line x1="181.20" y1="479.60" x2="181.20" y2="481.40" stroke="#222" stroke-width="0.6"/>
<line x1="193.00" y1="479.60" x2="193.00" y2="481.40" stroke="#222" stroke-width="0.6"/>
<text x="155.0" y="491.3" font-size="6.6" text-anchor="middle" fill="#333" textLength="7.6" lengthAdjust="spacingAndGlyphs">10<tspan font-size="4.2" dy="-2.6">3</tspan></text>
<text x="167.8" y="491.3" font-size="6.6" text-anchor="middle" fill="#333" textLength="7.6" lengthAdjust="spacingAndGlyphs">10<tspan font-size="4.2" dy="-2.6">4</tspan></text>
<text x="180.6" y="491.3" font-size="6.6" text-anchor="middle" fill="#333" textLength="7.6" lengthAdjust="spacingAndGlyphs">10<tspan font-size="4.2" dy="-2.6">5</tspan></text>
<text x="192.4" y="491.3" font-size="6.6" text-anchor="middle" fill="#333" textLength="7.6" lengthAdjust="spacingAndGlyphs">10<tspan font-size="4.2" dy="-2.6">6</tspan></text>
<clipPath id="hc13"><path d="M226.00,479.80 L226.00,479.80 L226.60,479.54 L227.20,479.28 L227.80,479.02 L228.40,478.29 L229.00,478.74 L229.65,478.18 L230.30,478.03 L230.95,476.73 L231.60,476.21 L232.25,476.28 L232.90,475.69 L233.57,473.51 L234.23,472.22 L234.90,470.13 L235.57,468.83 L236.23,466.29 L236.90,464.67 L237.58,462.78 L238.26,459.43 L238.94,456.61 L239.62,454.57 L240.30,451.66 L240.98,448.58 L241.65,446.56 L242.32,444.20 L243.00,441.10 L243.62,440.56 L244.25,438.80 L244.88,437.93 L245.50,436.50 L246.15,436.40 L246.80,437.07 L247.53,438.22 L248.27,440.76 L249.00,441.93 L249.68,445.13 L250.35,448.45 L251.02,451.22 L251.70,453.53 L252.38,457.48 L253.05,460.91 L253.72,463.74 L254.40,467.01 L255.08,469.85 L255.76,471.32 L256.44,472.83 L257.12,475.04 L257.80,476.66 L258.53,478.19 L259.27,478.67 L260.00,479.50 L260.67,479.60 L261.33,479.70 L262.00,479.80 L262.00,479.80 Z"/></clipPath>
<path d="M226.00,479.80 L226.00,479.80 L226.60,479.54 L227.20,479.28 L227.80,479.02 L228.40,478.29 L229.00,478.74 L229.65,478.18 L230.30,478.03 L230.95,476.73 L231.60,476.21 L232.25,476.28 L232.90,475.69 L233.57,473.51 L234.23,472.22 L234.90,470.13 L235.57,468.83 L236.23,466.29 L236.90,464.67 L237.58,462.78 L238.26,459.43 L238.94,456.61 L239.62,454.57 L240.30,451.66 L240.98,448.58 L241.65,446.56 L242.32,444.20 L243.00,441.10 L243.62,440.56 L244.25,438.80 L244.88,437.93 L245.50,436.50 L246.15,436.40 L246.80,437.07 L247.53,438.22 L248.27,440.76 L249.00,441.93 L249.68,445.13 L250.35,448.45 L251.02,451.22 L251.70,453.53 L252.38,457.48 L253.05,460.91 L253.72,463.74 L254.40,467.01 L255.08,469.85 L255.76,471.32 L256.44,472.83 L257.12,475.04 L257.80,476.66 L258.53,478.19 L259.27,478.67 L260.00,479.50 L260.67,479.60 L261.33,479.70 L262.00,479.80 L262.00,479.80 Z" fill="#e2705e" stroke="none" stroke-width="0.8"/>
<path d="M226.00,479.80 L226.00,479.80 L226.70,479.64 L227.40,479.48 L228.10,479.32 L228.80,479.16 L229.50,479.00 L230.12,478.20 L230.73,478.46 L231.35,478.04 L231.97,477.89 L232.58,476.41 L233.20,476.07 L233.87,474.19 L234.53,472.56 L235.20,471.62 L235.87,468.91 L236.53,467.80 L237.20,465.54 L237.88,462.97 L238.56,460.49 L239.24,458.44 L239.92,455.37 L240.60,451.72 L241.28,449.52 L241.95,446.68 L242.62,445.22 L243.30,442.50 L244.00,440.99 L244.70,439.52 L245.40,437.89 L246.10,436.72 L246.70,437.10 L247.30,436.86 L247.90,438.43 L248.50,438.48 L249.17,441.07 L249.83,442.94 L250.50,444.89 L251.35,450.03 L252.20,455.39 L252.85,458.45 L253.50,461.39 L254.15,465.76 L254.80,468.98 L255.48,471.08 L256.16,472.41 L256.84,473.99 L257.52,476.10 L258.20,476.92 L258.90,478.28 L259.60,478.41 L260.30,479.00 L261.00,479.50 L261.67,479.60 L262.33,479.70 L263.00,479.80 L263.00,479.80 Z" fill="#8fd06e" stroke="none" stroke-width="0.8"/>
<g clip-path="url(#hc13)">
<path d="M226.00,479.80 L226.00,479.80 L226.70,479.64 L227.40,479.48 L228.10,479.32 L228.80,479.16 L229.50,479.00 L230.12,478.20 L230.73,478.46 L231.35,478.04 L231.97,477.89 L232.58,476.41 L233.20,476.07 L233.87,474.19 L234.53,472.56 L235.20,471.62 L235.87,468.91 L236.53,467.80 L237.20,465.54 L237.88,462.97 L238.56,460.49 L239.24,458.44 L239.92,455.37 L240.60,451.72 L241.28,449.52 L241.95,446.68 L242.62,445.22 L243.30,442.50 L244.00,440.99 L244.70,439.52 L245.40,437.89 L246.10,436.72 L246.70,437.10 L247.30,436.86 L247.90,438.43 L248.50,438.48 L249.17,441.07 L249.83,442.94 L250.50,444.89 L251.35,450.03 L252.20,455.39 L252.85,458.45 L253.50,461.39 L254.15,465.76 L254.80,468.98 L255.48,471.08 L256.16,472.41 L256.84,473.99 L257.52,476.10 L258.20,476.92 L258.90,478.28 L259.60,478.41 L260.30,479.00 L261.00,479.50 L261.67,479.60 L262.33,479.70 L263.00,479.80 L263.00,479.80 Z" fill="#a9b24e" stroke="none" stroke-width="0.8"/>
</g>
<path d="M226.00,479.80 L226.00,479.80 L226.60,479.54 L227.20,479.28 L227.80,479.02 L228.40,478.29 L229.00,478.74 L229.65,478.18 L230.30,478.03 L230.95,476.73 L231.60,476.21 L232.25,476.28 L232.90,475.69 L233.57,473.51 L234.23,472.22 L234.90,470.13 L235.57,468.83 L236.23,466.29 L236.90,464.67 L237.58,462.78 L238.26,459.43 L238.94,456.61 L239.62,454.57 L240.30,451.66 L240.98,448.58 L241.65,446.56 L242.32,444.20 L243.00,441.10 L243.62,440.56 L244.25,438.80 L244.88,437.93 L245.50,436.50 L246.15,436.40 L246.80,437.07 L247.53,438.22 L248.27,440.76 L249.00,441.93 L249.68,445.13 L250.35,448.45 L251.02,451.22 L251.70,453.53 L252.38,457.48 L253.05,460.91 L253.72,463.74 L254.40,467.01 L255.08,469.85 L255.76,471.32 L256.44,472.83 L257.12,475.04 L257.80,476.66 L258.53,478.19 L259.27,478.67 L260.00,479.50 L260.67,479.60 L261.33,479.70 L262.00,479.80 L262.00,479.80 Z" fill="none" stroke="#5e2010" stroke-width="1.0" stroke-linejoin="round"/>
<path d="M226.00,479.80 L226.00,479.80 L226.70,479.64 L227.40,479.48 L228.10,479.32 L228.80,479.16 L229.50,479.00 L230.12,478.20 L230.73,478.46 L231.35,478.04 L231.97,477.89 L232.58,476.41 L233.20,476.07 L233.87,474.19 L234.53,472.56 L235.20,471.62 L235.87,468.91 L236.53,467.80 L237.20,465.54 L237.88,462.97 L238.56,460.49 L239.24,458.44 L239.92,455.37 L240.60,451.72 L241.28,449.52 L241.95,446.68 L242.62,445.22 L243.30,442.50 L244.00,440.99 L244.70,439.52 L245.40,437.89 L246.10,436.72 L246.70,437.10 L247.30,436.86 L247.90,438.43 L248.50,438.48 L249.17,441.07 L249.83,442.94 L250.50,444.89 L251.35,450.03 L252.20,455.39 L252.85,458.45 L253.50,461.39 L254.15,465.76 L254.80,468.98 L255.48,471.08 L256.16,472.41 L256.84,473.99 L257.52,476.10 L258.20,476.92 L258.90,478.28 L259.60,478.41 L260.30,479.00 L261.00,479.50 L261.67,479.60 L262.33,479.70 L263.00,479.80 L263.00,479.80 Z" fill="none" stroke="#0d5434" stroke-width="1.25" stroke-linejoin="round"/>
<rect x="222.80" y="429.00" width="50.50" height="50.80" fill="none" stroke="#111" stroke-width="0.9"/>
<line x1="220.80" y1="436.80" x2="222.80" y2="436.80" stroke="#222" stroke-width="0.7"/>
<text x="219.8" y="439.0" font-size="7.06" text-anchor="end" textLength="7.0" lengthAdjust="spacingAndGlyphs" fill="#333">80</text>
<line x1="220.80" y1="447.60" x2="222.80" y2="447.60" stroke="#222" stroke-width="0.7"/>
<text x="219.8" y="449.8" font-size="7.06" text-anchor="end" textLength="7.0" lengthAdjust="spacingAndGlyphs" fill="#333">60</text>
<line x1="220.80" y1="458.40" x2="222.80" y2="458.40" stroke="#222" stroke-width="0.7"/>
<text x="219.8" y="460.6" font-size="7.06" text-anchor="end" textLength="7.0" lengthAdjust="spacingAndGlyphs" fill="#333">40</text>
<line x1="220.80" y1="469.10" x2="222.80" y2="469.10" stroke="#222" stroke-width="0.7"/>
<text x="219.8" y="471.3" font-size="7.06" text-anchor="end" textLength="7.0" lengthAdjust="spacingAndGlyphs" fill="#333">20</text>
<line x1="220.80" y1="479.80" x2="222.80" y2="479.80" stroke="#222" stroke-width="0.7"/>
<text x="219.8" y="482.0" font-size="6.3" text-anchor="end" fill="#333">0</text>
<line x1="234.90" y1="479.80" x2="234.90" y2="481.60" stroke="#222" stroke-width="0.6"/>
<line x1="247.00" y1="479.80" x2="247.00" y2="481.60" stroke="#222" stroke-width="0.6"/>
<line x1="260.00" y1="479.80" x2="260.00" y2="481.60" stroke="#222" stroke-width="0.6"/>
<line x1="272.60" y1="479.80" x2="272.60" y2="481.60" stroke="#222" stroke-width="0.6"/>
<text x="234.3" y="491.5" font-size="6.6" text-anchor="middle" fill="#333" textLength="7.6" lengthAdjust="spacingAndGlyphs">10<tspan font-size="4.2" dy="-2.6">3</tspan></text>
<text x="246.4" y="491.5" font-size="6.6" text-anchor="middle" fill="#333" textLength="7.6" lengthAdjust="spacingAndGlyphs">10<tspan font-size="4.2" dy="-2.6">4</tspan></text>
<text x="259.4" y="491.5" font-size="6.6" text-anchor="middle" fill="#333" textLength="7.6" lengthAdjust="spacingAndGlyphs">10<tspan font-size="4.2" dy="-2.6">5</tspan></text>
<text x="272.0" y="491.5" font-size="6.6" text-anchor="middle" fill="#333" textLength="7.6" lengthAdjust="spacingAndGlyphs">10<tspan font-size="4.2" dy="-2.6">6</tspan></text>
<clipPath id="hc17"><path d="M62.50,547.30 L62.50,546.30 L63.10,545.66 L63.70,545.97 L64.30,545.32 L64.90,544.90 L65.50,544.99 L66.15,544.49 L66.80,543.98 L67.45,543.45 L68.10,542.72 L68.75,542.20 L69.38,541.26 L70.00,539.36 L70.62,538.31 L71.25,536.98 L71.88,535.61 L72.50,534.23 L73.12,530.38 L73.74,527.38 L74.36,524.98 L74.98,521.79 L75.60,518.34 L76.22,515.49 L76.85,512.30 L77.47,508.83 L78.10,504.66 L78.75,501.66 L79.40,498.21 L80.60,506.77 L81.25,510.26 L81.90,515.27 L82.52,520.05 L83.13,525.11 L83.75,530.03 L84.38,533.52 L85.00,536.37 L85.62,539.14 L86.25,542.04 L86.88,543.21 L87.50,544.47 L88.12,544.27 L88.75,545.65 L89.38,546.32 L90.00,546.90 L90.67,547.03 L91.33,547.17 L92.00,547.30 L92.00,547.30 Z"/></clipPath>
<path d="M62.50,547.30 L62.50,546.30 L63.10,545.66 L63.70,545.97 L64.30,545.32 L64.90,544.90 L65.50,544.99 L66.15,544.49 L66.80,543.98 L67.45,543.45 L68.10,542.72 L68.75,542.20 L69.38,541.26 L70.00,539.36 L70.62,538.31 L71.25,536.98 L71.88,535.61 L72.50,534.23 L73.12,530.38 L73.74,527.38 L74.36,524.98 L74.98,521.79 L75.60,518.34 L76.22,515.49 L76.85,512.30 L77.47,508.83 L78.10,504.66 L78.75,501.66 L79.40,498.21 L80.60,506.77 L81.25,510.26 L81.90,515.27 L82.52,520.05 L83.13,525.11 L83.75,530.03 L84.38,533.52 L85.00,536.37 L85.62,539.14 L86.25,542.04 L86.88,543.21 L87.50,544.47 L88.12,544.27 L88.75,545.65 L89.38,546.32 L90.00,546.90 L90.67,547.03 L91.33,547.17 L92.00,547.30 L92.00,547.30 Z" fill="#e2705e" stroke="none" stroke-width="0.8"/>
<path d="M68.00,547.30 L68.00,547.30 L68.65,547.22 L69.30,547.14 L69.95,547.06 L70.60,546.98 L71.25,546.90 L71.88,545.79 L72.50,545.09 L73.12,544.19 L73.75,541.96 L74.38,541.58 L75.00,540.33 L75.62,538.17 L76.25,535.21 L76.88,532.99 L77.50,531.48 L78.12,529.98 L78.75,527.10 L79.37,523.34 L79.98,518.87 L80.60,515.55 L81.25,514.16 L81.90,511.74 L82.52,515.80 L83.13,517.40 L83.75,521.70 L84.38,524.00 L85.00,525.04 L85.62,528.13 L86.25,530.09 L87.12,532.48 L88.00,533.04 L88.67,534.46 L89.33,535.91 L90.00,536.42 L90.62,536.22 L91.25,536.18 L91.88,537.88 L92.50,537.46 L93.12,538.59 L93.75,537.53 L94.38,538.90 L95.00,539.20 L95.62,539.70 L96.25,538.58 L96.88,539.47 L97.50,539.28 L98.12,541.03 L98.75,541.02 L99.38,542.61 L100.00,542.30 L100.62,543.26 L101.25,543.74 L101.88,543.06 L102.50,543.89 L103.12,544.83 L103.75,544.44 L104.38,544.48 L105.00,544.63 L105.60,545.66 L106.20,544.91 L106.80,545.77 L107.40,545.89 L108.00,546.09 L108.65,545.59 L109.30,546.36 L109.95,546.54 L110.60,546.72 L111.25,546.90 L111.25,547.30 Z" fill="#8fd06e" stroke="none" stroke-width="0.8"/>
<g clip-path="url(#hc17)">
<path d="M68.00,547.30 L68.00,547.30 L68.65,547.22 L69.30,547.14 L69.95,547.06 L70.60,546.98 L71.25,546.90 L71.88,545.79 L72.50,545.09 L73.12,544.19 L73.75,541.96 L74.38,541.58 L75.00,540.33 L75.62,538.17 L76.25,535.21 L76.88,532.99 L77.50,531.48 L78.12,529.98 L78.75,527.10 L79.37,523.34 L79.98,518.87 L80.60,515.55 L81.25,514.16 L81.90,511.74 L82.52,515.80 L83.13,517.40 L83.75,521.70 L84.38,524.00 L85.00,525.04 L85.62,528.13 L86.25,530.09 L87.12,532.48 L88.00,533.04 L88.67,534.46 L89.33,535.91 L90.00,536.42 L90.62,536.22 L91.25,536.18 L91.88,537.88 L92.50,537.46 L93.12,538.59 L93.75,537.53 L94.38,538.90 L95.00,539.20 L95.62,539.70 L96.25,538.58 L96.88,539.47 L97.50,539.28 L98.12,541.03 L98.75,541.02 L99.38,542.61 L100.00,542.30 L100.62,543.26 L101.25,543.74 L101.88,543.06 L102.50,543.89 L103.12,544.83 L103.75,544.44 L104.38,544.48 L105.00,544.63 L105.60,545.66 L106.20,544.91 L106.80,545.77 L107.40,545.89 L108.00,546.09 L108.65,545.59 L109.30,546.36 L109.95,546.54 L110.60,546.72 L111.25,546.90 L111.25,547.30 Z" fill="#a9b24e" stroke="none" stroke-width="0.8"/>
</g>
<path d="M62.50,547.30 L62.50,546.30 L63.10,545.66 L63.70,545.97 L64.30,545.32 L64.90,544.90 L65.50,544.99 L66.15,544.49 L66.80,543.98 L67.45,543.45 L68.10,542.72 L68.75,542.20 L69.38,541.26 L70.00,539.36 L70.62,538.31 L71.25,536.98 L71.88,535.61 L72.50,534.23 L73.12,530.38 L73.74,527.38 L74.36,524.98 L74.98,521.79 L75.60,518.34 L76.22,515.49 L76.85,512.30 L77.47,508.83 L78.10,504.66 L78.75,501.66 L79.40,498.21 L80.60,506.77 L81.25,510.26 L81.90,515.27 L82.52,520.05 L83.13,525.11 L83.75,530.03 L84.38,533.52 L85.00,536.37 L85.62,539.14 L86.25,542.04 L86.88,543.21 L87.50,544.47 L88.12,544.27 L88.75,545.65 L89.38,546.32 L90.00,546.90 L90.67,547.03 L91.33,547.17 L92.00,547.30 L92.00,547.30 Z" fill="none" stroke="#5e2010" stroke-width="1.0" stroke-linejoin="round"/>
<path d="M68.00,547.30 L68.00,547.30 L68.65,547.22 L69.30,547.14 L69.95,547.06 L70.60,546.98 L71.25,546.90 L71.88,545.79 L72.50,545.09 L73.12,544.19 L73.75,541.96 L74.38,541.58 L75.00,540.33 L75.62,538.17 L76.25,535.21 L76.88,532.99 L77.50,531.48 L78.12,529.98 L78.75,527.10 L79.37,523.34 L79.98,518.87 L80.60,515.55 L81.25,514.16 L81.90,511.74 L82.52,515.80 L83.13,517.40 L83.75,521.70 L84.38,524.00 L85.00,525.04 L85.62,528.13 L86.25,530.09 L87.12,532.48 L88.00,533.04 L88.67,534.46 L89.33,535.91 L90.00,536.42 L90.62,536.22 L91.25,536.18 L91.88,537.88 L92.50,537.46 L93.12,538.59 L93.75,537.53 L94.38,538.90 L95.00,539.20 L95.62,539.70 L96.25,538.58 L96.88,539.47 L97.50,539.28 L98.12,541.03 L98.75,541.02 L99.38,542.61 L100.00,542.30 L100.62,543.26 L101.25,543.74 L101.88,543.06 L102.50,543.89 L103.12,544.83 L103.75,544.44 L104.38,544.48 L105.00,544.63 L105.60,545.66 L106.20,544.91 L106.80,545.77 L107.40,545.89 L108.00,546.09 L108.65,545.59 L109.30,546.36 L109.95,546.54 L110.60,546.72 L111.25,546.90 L111.25,547.30 Z" fill="none" stroke="#0d5434" stroke-width="1.25" stroke-linejoin="round"/>
<rect x="60.40" y="495.60" width="51.90" height="51.70" fill="none" stroke="#111" stroke-width="0.9"/>
<line x1="58.40" y1="505.00" x2="60.40" y2="505.00" stroke="#222" stroke-width="0.7"/>
<text x="57.4" y="507.2" font-size="7.06" text-anchor="end" textLength="10.5" lengthAdjust="spacingAndGlyphs" fill="#333">100</text>
<line x1="58.40" y1="526.00" x2="60.40" y2="526.00" stroke="#222" stroke-width="0.7"/>
<text x="57.4" y="528.2" font-size="7.06" text-anchor="end" textLength="7.0" lengthAdjust="spacingAndGlyphs" fill="#333">50</text>
<line x1="58.40" y1="547.30" x2="60.40" y2="547.30" stroke="#222" stroke-width="0.7"/>
<text x="57.4" y="549.5" font-size="6.3" text-anchor="end" fill="#333">0</text>
<line x1="73.50" y1="547.30" x2="73.50" y2="549.10" stroke="#222" stroke-width="0.6"/>
<line x1="86.00" y1="547.30" x2="86.00" y2="549.10" stroke="#222" stroke-width="0.6"/>
<line x1="98.70" y1="547.30" x2="98.70" y2="549.10" stroke="#222" stroke-width="0.6"/>
<line x1="111.60" y1="547.30" x2="111.60" y2="549.10" stroke="#222" stroke-width="0.6"/>
<text x="72.9" y="559.0" font-size="6.6" text-anchor="middle" fill="#333" textLength="7.6" lengthAdjust="spacingAndGlyphs">10<tspan font-size="4.2" dy="-2.6">3</tspan></text>
<text x="85.4" y="559.0" font-size="6.6" text-anchor="middle" fill="#333" textLength="7.6" lengthAdjust="spacingAndGlyphs">10<tspan font-size="4.2" dy="-2.6">4</tspan></text>
<text x="98.1" y="559.0" font-size="6.6" text-anchor="middle" fill="#333" textLength="7.6" lengthAdjust="spacingAndGlyphs">10<tspan font-size="4.2" dy="-2.6">5</tspan></text>
<text x="111.0" y="559.0" font-size="6.6" text-anchor="middle" fill="#333" textLength="7.6" lengthAdjust="spacingAndGlyphs">10<tspan font-size="4.2" dy="-2.6">6</tspan></text>
<clipPath id="hc21"><path d="M146.00,547.30 L146.00,547.30 L146.67,546.50 L147.33,546.25 L148.00,544.47 L148.67,543.53 L149.33,543.90 L150.00,542.12 L150.62,540.58 L151.25,539.75 L151.88,537.91 L152.50,537.10 L153.12,534.84 L153.75,534.25 L154.38,530.36 L155.00,527.57 L155.62,524.84 L156.25,521.42 L156.87,516.71 L157.48,511.45 L158.10,505.66 L158.75,502.96 L159.40,498.91 L160.60,504.77 L161.25,512.73 L161.90,521.62 L162.52,526.73 L163.13,532.59 L163.75,537.83 L164.38,539.30 L165.00,540.08 L165.62,541.49 L166.25,542.63 L166.88,543.46 L167.50,545.55 L168.12,545.01 L168.75,545.81 L169.38,546.26 L170.00,546.13 L170.62,545.76 L171.25,546.42 L171.88,546.66 L172.50,546.90 L173.12,547.00 L173.75,547.10 L174.38,547.20 L175.00,547.30 L175.00,547.30 Z"/></clipPath>
<path d="M146.00,547.30 L146.00,547.30 L146.67,546.50 L147.33,546.25 L148.00,544.47 L148.67,543.53 L149.33,543.90 L150.00,542.12 L150.62,540.58 L151.25,539.75 L151.88,537.91 L152.50,537.10 L153.12,534.84 L153.75,534.25 L154.38,530.36 L155.00,527.57 L155.62,524.84 L156.25,521.42 L156.87,516.71 L157.48,511.45 L158.10,505.66 L158.75,502.96 L159.40,498.91 L160.60,504.77 L161.25,512.73 L161.90,521.62 L162.52,526.73 L163.13,532.59 L163.75,537.83 L164.38,539.30 L165.00,540.08 L165.62,541.49 L166.25,542.63 L166.88,543.46 L167.50,545.55 L168.12,545.01 L168.75,545.81 L169.38,546.26 L170.00,546.13 L170.62,545.76 L171.25,546.42 L171.88,546.66 L172.50,546.90 L173.12,547.00 L173.75,547.10 L174.38,547.20 L175.00,547.30 L175.00,547.30 Z" fill="#e2705e" stroke="none" stroke-width="0.8"/>
<path d="M144.00,547.30 L144.00,547.30 L144.75,546.93 L145.50,546.57 L146.25,545.66 L146.88,546.19 L147.50,545.79 L148.12,545.23 L148.75,544.50 L149.38,545.11 L150.00,544.82 L150.62,544.03 L151.25,543.71 L151.88,542.03 L152.50,540.41 L153.12,539.74 L153.75,538.84 L154.38,536.76 L155.00,536.67 L155.62,534.52 L156.25,533.27 L156.88,530.47 L157.51,529.50 L158.14,526.58 L158.77,524.30 L159.40,521.39 L160.02,517.55 L160.63,515.13 L161.25,512.50 L161.88,513.14 L162.50,515.72 L163.13,518.96 L163.77,522.78 L164.40,528.01 L165.03,529.40 L165.65,533.18 L166.28,534.93 L166.90,537.58 L167.52,537.96 L168.14,538.90 L168.76,539.14 L169.39,539.62 L170.01,541.66 L170.63,541.36 L171.25,542.95 L171.88,542.24 L172.50,543.67 L173.12,543.76 L173.75,543.74 L174.38,543.96 L175.00,543.88 L175.62,544.33 L176.25,543.56 L176.88,544.34 L177.50,545.11 L178.12,544.31 L178.75,545.68 L179.38,545.71 L180.00,545.03 L180.62,545.04 L181.25,545.26 L181.88,545.25 L182.50,546.31 L183.12,545.42 L183.75,544.93 L184.38,545.12 L185.00,546.21 L185.62,546.73 L186.25,546.02 L186.88,546.10 L187.50,546.28 L188.12,546.30 L188.75,546.40 L189.38,546.50 L190.00,546.60 L190.62,546.70 L191.25,546.80 L191.88,546.90 L192.50,547.00 L192.50,547.30 Z" fill="#8fd06e" stroke="none" stroke-width="0.8"/>
<g clip-path="url(#hc21)">
<path d="M144.00,547.30 L144.00,547.30 L144.75,546.93 L145.50,546.57 L146.25,545.66 L146.88,546.19 L147.50,545.79 L148.12,545.23 L148.75,544.50 L149.38,545.11 L150.00,544.82 L150.62,544.03 L151.25,543.71 L151.88,542.03 L152.50,540.41 L153.12,539.74 L153.75,538.84 L154.38,536.76 L155.00,536.67 L155.62,534.52 L156.25,533.27 L156.88,530.47 L157.51,529.50 L158.14,526.58 L158.77,524.30 L159.40,521.39 L160.02,517.55 L160.63,515.13 L161.25,512.50 L161.88,513.14 L162.50,515.72 L163.13,518.96 L163.77,522.78 L164.40,528.01 L165.03,529.40 L165.65,533.18 L166.28,534.93 L166.90,537.58 L167.52,537.96 L168.14,538.90 L168.76,539.14 L169.39,539.62 L170.01,541.66 L170.63,541.36 L171.25,542.95 L171.88,542.24 L172.50,543.67 L173.12,543.76 L173.75,543.74 L174.38,543.96 L175.00,543.88 L175.62,544.33 L176.25,543.56 L176.88,544.34 L177.50,545.11 L178.12,544.31 L178.75,545.68 L179.38,545.71 L180.00,545.03 L180.62,545.04 L181.25,545.26 L181.88,545.25 L182.50,546.31 L183.12,545.42 L183.75,544.93 L184.38,545.12 L185.00,546.21 L185.62,546.73 L186.25,546.02 L186.88,546.10 L187.50,546.28 L188.12,546.30 L188.75,546.40 L189.38,546.50 L190.00,546.60 L190.62,546.70 L191.25,546.80 L191.88,546.90 L192.50,547.00 L192.50,547.30 Z" fill="#a9b24e" stroke="none" stroke-width="0.8"/>
</g>
<path d="M146.00,547.30 L146.00,547.30 L146.67,546.50 L147.33,546.25 L148.00,544.47 L148.67,543.53 L149.33,543.90 L150.00,542.12 L150.62,540.58 L151.25,539.75 L151.88,537.91 L152.50,537.10 L153.12,534.84 L153.75,534.25 L154.38,530.36 L155.00,527.57 L155.62,524.84 L156.25,521.42 L156.87,516.71 L157.48,511.45 L158.10,505.66 L158.75,502.96 L159.40,498.91 L160.60,504.77 L161.25,512.73 L161.90,521.62 L162.52,526.73 L163.13,532.59 L163.75,537.83 L164.38,539.30 L165.00,540.08 L165.62,541.49 L166.25,542.63 L166.88,543.46 L167.50,545.55 L168.12,545.01 L168.75,545.81 L169.38,546.26 L170.00,546.13 L170.62,545.76 L171.25,546.42 L171.88,546.66 L172.50,546.90 L173.12,547.00 L173.75,547.10 L174.38,547.20 L175.00,547.30 L175.00,547.30 Z" fill="none" stroke="#5e2010" stroke-width="1.0" stroke-linejoin="round"/>
<path d="M144.00,547.30 L144.00,547.30 L144.75,546.93 L145.50,546.57 L146.25,545.66 L146.88,546.19 L147.50,545.79 L148.12,545.23 L148.75,544.50 L149.38,545.11 L150.00,544.82 L150.62,544.03 L151.25,543.71 L151.88,542.03 L152.50,540.41 L153.12,539.74 L153.75,538.84 L154.38,536.76 L155.00,536.67 L155.62,534.52 L156.25,533.27 L156.88,530.47 L157.51,529.50 L158.14,526.58 L158.77,524.30 L159.40,521.39 L160.02,517.55 L160.63,515.13 L161.25,512.50 L161.88,513.14 L162.50,515.72 L163.13,518.96 L163.77,522.78 L164.40,528.01 L165.03,529.40 L165.65,533.18 L166.28,534.93 L166.90,537.58 L167.52,537.96 L168.14,538.90 L168.76,539.14 L169.39,539.62 L170.01,541.66 L170.63,541.36 L171.25,542.95 L171.88,542.24 L172.50,543.67 L173.12,543.76 L173.75,543.74 L174.38,543.96 L175.00,543.88 L175.62,544.33 L176.25,543.56 L176.88,544.34 L177.50,545.11 L178.12,544.31 L178.75,545.68 L179.38,545.71 L180.00,545.03 L180.62,545.04 L181.25,545.26 L181.88,545.25 L182.50,546.31 L183.12,545.42 L183.75,544.93 L184.38,545.12 L185.00,546.21 L185.62,546.73 L186.25,546.02 L186.88,546.10 L187.50,546.28 L188.12,546.30 L188.75,546.40 L189.38,546.50 L190.00,546.60 L190.62,546.70 L191.25,546.80 L191.88,546.90 L192.50,547.00 L192.50,547.30 Z" fill="none" stroke="#0d5434" stroke-width="1.25" stroke-linejoin="round"/>
<rect x="142.80" y="495.60" width="51.00" height="51.70" fill="none" stroke="#111" stroke-width="0.9"/>
<line x1="140.80" y1="497.30" x2="142.80" y2="497.30" stroke="#222" stroke-width="0.7"/>
<text x="139.8" y="499.5" font-size="7.06" text-anchor="end" textLength="10.5" lengthAdjust="spacingAndGlyphs" fill="#333">150</text>
<line x1="140.80" y1="513.80" x2="142.80" y2="513.80" stroke="#222" stroke-width="0.7"/>
<text x="139.8" y="516.0" font-size="7.06" text-anchor="end" textLength="10.5" lengthAdjust="spacingAndGlyphs" fill="#333">100</text>
<line x1="140.80" y1="530.00" x2="142.80" y2="530.00" stroke="#222" stroke-width="0.7"/>
<text x="139.8" y="532.2" font-size="7.06" text-anchor="end" textLength="7.0" lengthAdjust="spacingAndGlyphs" fill="#333">50</text>
<line x1="140.80" y1="547.30" x2="142.80" y2="547.30" stroke="#222" stroke-width="0.7"/>
<text x="139.8" y="549.5" font-size="6.3" text-anchor="end" fill="#333">0</text>
<line x1="155.60" y1="547.30" x2="155.60" y2="549.10" stroke="#222" stroke-width="0.6"/>
<line x1="168.40" y1="547.30" x2="168.40" y2="549.10" stroke="#222" stroke-width="0.6"/>
<line x1="181.20" y1="547.30" x2="181.20" y2="549.10" stroke="#222" stroke-width="0.6"/>
<line x1="193.00" y1="547.30" x2="193.00" y2="549.10" stroke="#222" stroke-width="0.6"/>
<text x="155.0" y="559.0" font-size="6.6" text-anchor="middle" fill="#333" textLength="7.6" lengthAdjust="spacingAndGlyphs">10<tspan font-size="4.2" dy="-2.6">3</tspan></text>
<text x="167.8" y="559.0" font-size="6.6" text-anchor="middle" fill="#333" textLength="7.6" lengthAdjust="spacingAndGlyphs">10<tspan font-size="4.2" dy="-2.6">4</tspan></text>
<text x="180.6" y="559.0" font-size="6.6" text-anchor="middle" fill="#333" textLength="7.6" lengthAdjust="spacingAndGlyphs">10<tspan font-size="4.2" dy="-2.6">5</tspan></text>
<text x="192.4" y="559.0" font-size="6.6" text-anchor="middle" fill="#333" textLength="7.6" lengthAdjust="spacingAndGlyphs">10<tspan font-size="4.2" dy="-2.6">6</tspan></text>
<clipPath id="hc25"><path d="M230.00,547.20 L230.00,547.20 L230.72,547.03 L231.45,546.85 L232.18,546.67 L232.90,546.50 L233.52,546.38 L234.15,545.31 L234.77,544.90 L235.39,544.96 L236.02,543.89 L236.64,544.34 L237.26,543.91 L237.88,542.63 L238.51,542.98 L239.13,542.35 L239.75,542.09 L240.38,542.06 L241.00,541.68 L241.61,540.26 L242.22,540.06 L242.83,539.26 L243.44,538.76 L244.05,536.90 L244.65,537.26 L245.26,535.68 L245.87,534.84 L246.48,534.67 L247.09,534.23 L247.70,533.65 L248.37,532.04 L249.03,531.69 L249.70,529.84 L250.37,530.06 L251.03,528.35 L251.70,527.75 L252.38,524.55 L253.05,521.75 L253.72,519.01 L254.40,517.02 L255.07,514.27 L255.73,511.88 L256.40,509.22 L257.10,506.44 L257.80,504.68 L258.50,501.64 L259.15,501.16 L259.80,499.10 L260.47,500.83 L261.13,501.06 L261.80,502.01 L262.47,507.06 L263.13,511.44 L263.80,516.39 L264.48,520.33 L265.15,523.91 L265.82,526.48 L266.50,530.29 L267.18,532.92 L267.85,536.09 L268.52,539.01 L269.20,540.61 L269.87,542.75 L270.53,543.83 L271.20,546.24 L271.85,546.55 L272.50,547.20 L272.50,547.20 Z"/></clipPath>
<path d="M230.00,547.20 L230.00,547.20 L230.72,547.03 L231.45,546.85 L232.18,546.67 L232.90,546.50 L233.52,546.38 L234.15,545.31 L234.77,544.90 L235.39,544.96 L236.02,543.89 L236.64,544.34 L237.26,543.91 L237.88,542.63 L238.51,542.98 L239.13,542.35 L239.75,542.09 L240.38,542.06 L241.00,541.68 L241.61,540.26 L242.22,540.06 L242.83,539.26 L243.44,538.76 L244.05,536.90 L244.65,537.26 L245.26,535.68 L245.87,534.84 L246.48,534.67 L247.09,534.23 L247.70,533.65 L248.37,532.04 L249.03,531.69 L249.70,529.84 L250.37,530.06 L251.03,528.35 L251.70,527.75 L252.38,524.55 L253.05,521.75 L253.72,519.01 L254.40,517.02 L255.07,514.27 L255.73,511.88 L256.40,509.22 L257.10,506.44 L257.80,504.68 L258.50,501.64 L259.15,501.16 L259.80,499.10 L260.47,500.83 L261.13,501.06 L261.80,502.01 L262.47,507.06 L263.13,511.44 L263.80,516.39 L264.48,520.33 L265.15,523.91 L265.82,526.48 L266.50,530.29 L267.18,532.92 L267.85,536.09 L268.52,539.01 L269.20,540.61 L269.87,542.75 L270.53,543.83 L271.20,546.24 L271.85,546.55 L272.50,547.20 L272.50,547.20 Z" fill="#e2705e" stroke="none" stroke-width="0.8"/>
<path d="M223.50,547.20 L223.50,547.20 L224.15,546.85 L224.80,546.50 L225.48,546.25 L226.15,545.80 L226.82,546.43 L227.50,546.05 L228.18,544.79 L228.85,545.59 L229.52,544.97 L230.20,543.77 L230.87,544.66 L231.53,542.98 L232.20,542.49 L232.87,542.11 L233.53,541.81 L234.20,540.50 L234.88,539.62 L235.57,538.06 L236.25,535.77 L236.93,534.44 L237.62,532.38 L238.30,530.92 L238.98,526.51 L239.65,523.42 L240.32,520.23 L241.00,516.27 L241.60,516.48 L242.20,514.77 L242.80,512.73 L243.40,512.33 L244.17,514.53 L244.93,516.64 L245.70,519.06 L246.36,520.22 L247.02,520.27 L247.68,521.74 L248.34,522.34 L249.00,522.40 L249.68,522.93 L250.35,520.91 L251.02,520.45 L251.70,520.81 L252.38,521.03 L253.05,522.53 L253.72,523.92 L254.40,524.90 L255.08,526.34 L255.77,527.71 L256.45,529.02 L257.13,529.69 L257.82,532.26 L258.50,532.75 L259.17,533.71 L259.83,535.62 L260.50,537.60 L261.17,538.64 L261.83,539.70 L262.50,541.06 L263.17,541.33 L263.83,542.66 L264.50,542.91 L265.17,543.14 L265.83,543.92 L266.50,544.55 L267.18,545.71 L267.87,546.24 L268.55,546.26 L269.23,545.62 L269.92,546.28 L270.60,546.50 L271.23,546.73 L271.87,546.97 L272.50,547.20 L272.50,547.20 Z" fill="#8fd06e" stroke="none" stroke-width="0.8"/>
<g clip-path="url(#hc25)">
<path d="M223.50,547.20 L223.50,547.20 L224.15,546.85 L224.80,546.50 L225.48,546.25 L226.15,545.80 L226.82,546.43 L227.50,546.05 L228.18,544.79 L228.85,545.59 L229.52,544.97 L230.20,543.77 L230.87,544.66 L231.53,542.98 L232.20,542.49 L232.87,542.11 L233.53,541.81 L234.20,540.50 L234.88,539.62 L235.57,538.06 L236.25,535.77 L236.93,534.44 L237.62,532.38 L238.30,530.92 L238.98,526.51 L239.65,523.42 L240.32,520.23 L241.00,516.27 L241.60,516.48 L242.20,514.77 L242.80,512.73 L243.40,512.33 L244.17,514.53 L244.93,516.64 L245.70,519.06 L246.36,520.22 L247.02,520.27 L247.68,521.74 L248.34,522.34 L249.00,522.40 L249.68,522.93 L250.35,520.91 L251.02,520.45 L251.70,520.81 L252.38,521.03 L253.05,522.53 L253.72,523.92 L254.40,524.90 L255.08,526.34 L255.77,527.71 L256.45,529.02 L257.13,529.69 L257.82,532.26 L258.50,532.75 L259.17,533.71 L259.83,535.62 L260.50,537.60 L261.17,538.64 L261.83,539.70 L262.50,541.06 L263.17,541.33 L263.83,542.66 L264.50,542.91 L265.17,543.14 L265.83,543.92 L266.50,544.55 L267.18,545.71 L267.87,546.24 L268.55,546.26 L269.23,545.62 L269.92,546.28 L270.60,546.50 L271.23,546.73 L271.87,546.97 L272.50,547.20 L272.50,547.20 Z" fill="#a9b24e" stroke="none" stroke-width="0.8"/>
</g>
<path d="M230.00,547.20 L230.00,547.20 L230.72,547.03 L231.45,546.85 L232.18,546.67 L232.90,546.50 L233.52,546.38 L234.15,545.31 L234.77,544.90 L235.39,544.96 L236.02,543.89 L236.64,544.34 L237.26,543.91 L237.88,542.63 L238.51,542.98 L239.13,542.35 L239.75,542.09 L240.38,542.06 L241.00,541.68 L241.61,540.26 L242.22,540.06 L242.83,539.26 L243.44,538.76 L244.05,536.90 L244.65,537.26 L245.26,535.68 L245.87,534.84 L246.48,534.67 L247.09,534.23 L247.70,533.65 L248.37,532.04 L249.03,531.69 L249.70,529.84 L250.37,530.06 L251.03,528.35 L251.70,527.75 L252.38,524.55 L253.05,521.75 L253.72,519.01 L254.40,517.02 L255.07,514.27 L255.73,511.88 L256.40,509.22 L257.10,506.44 L257.80,504.68 L258.50,501.64 L259.15,501.16 L259.80,499.10 L260.47,500.83 L261.13,501.06 L261.80,502.01 L262.47,507.06 L263.13,511.44 L263.80,516.39 L264.48,520.33 L265.15,523.91 L265.82,526.48 L266.50,530.29 L267.18,532.92 L267.85,536.09 L268.52,539.01 L269.20,540.61 L269.87,542.75 L270.53,543.83 L271.20,546.24 L271.85,546.55 L272.50,547.20 L272.50,547.20 Z" fill="none" stroke="#5e2010" stroke-width="1.0" stroke-linejoin="round"/>
<path d="M223.50,547.20 L223.50,547.20 L224.15,546.85 L224.80,546.50 L225.48,546.25 L226.15,545.80 L226.82,546.43 L227.50,546.05 L228.18,544.79 L228.85,545.59 L229.52,544.97 L230.20,543.77 L230.87,544.66 L231.53,542.98 L232.20,542.49 L232.87,542.11 L233.53,541.81 L234.20,540.50 L234.88,539.62 L235.57,538.06 L236.25,535.77 L236.93,534.44 L237.62,532.38 L238.30,530.92 L238.98,526.51 L239.65,523.42 L240.32,520.23 L241.00,516.27 L241.60,516.48 L242.20,514.77 L242.80,512.73 L243.40,512.33 L244.17,514.53 L244.93,516.64 L245.70,519.06 L246.36,520.22 L247.02,520.27 L247.68,521.74 L248.34,522.34 L249.00,522.40 L249.68,522.93 L250.35,520.91 L251.02,520.45 L251.70,520.81 L252.38,521.03 L253.05,522.53 L253.72,523.92 L254.40,524.90 L255.08,526.34 L255.77,527.71 L256.45,529.02 L257.13,529.69 L257.82,532.26 L258.50,532.75 L259.17,533.71 L259.83,535.62 L260.50,537.60 L261.17,538.64 L261.83,539.70 L262.50,541.06 L263.17,541.33 L263.83,542.66 L264.50,542.91 L265.17,543.14 L265.83,543.92 L266.50,544.55 L267.18,545.71 L267.87,546.24 L268.55,546.26 L269.23,545.62 L269.92,546.28 L270.60,546.50 L271.23,546.73 L271.87,546.97 L272.50,547.20 L272.50,547.20 Z" fill="none" stroke="#0d5434" stroke-width="1.25" stroke-linejoin="round"/>
<rect x="222.80" y="496.00" width="50.50" height="51.20" fill="none" stroke="#111" stroke-width="0.9"/>
<line x1="220.80" y1="504.80" x2="222.80" y2="504.80" stroke="#222" stroke-width="0.7"/>
<text x="219.8" y="507.0" font-size="7.06" text-anchor="end" textLength="7.0" lengthAdjust="spacingAndGlyphs" fill="#333">60</text>
<line x1="220.80" y1="518.90" x2="222.80" y2="518.90" stroke="#222" stroke-width="0.7"/>
<text x="219.8" y="521.1" font-size="7.06" text-anchor="end" textLength="7.0" lengthAdjust="spacingAndGlyphs" fill="#333">40</text>
<line x1="220.80" y1="533.00" x2="222.80" y2="533.00" stroke="#222" stroke-width="0.7"/>
<text x="219.8" y="535.2" font-size="7.06" text-anchor="end" textLength="7.0" lengthAdjust="spacingAndGlyphs" fill="#333">20</text>
<line x1="220.80" y1="547.20" x2="222.80" y2="547.20" stroke="#222" stroke-width="0.7"/>
<text x="219.8" y="549.4" font-size="6.3" text-anchor="end" fill="#333">0</text>
<line x1="234.90" y1="547.20" x2="234.90" y2="549.00" stroke="#222" stroke-width="0.6"/>
<line x1="247.00" y1="547.20" x2="247.00" y2="549.00" stroke="#222" stroke-width="0.6"/>
<line x1="260.00" y1="547.20" x2="260.00" y2="549.00" stroke="#222" stroke-width="0.6"/>
<line x1="272.60" y1="547.20" x2="272.60" y2="549.00" stroke="#222" stroke-width="0.6"/>
<text x="234.3" y="558.9" font-size="6.6" text-anchor="middle" fill="#333" textLength="7.6" lengthAdjust="spacingAndGlyphs">10<tspan font-size="4.2" dy="-2.6">3</tspan></text>
<text x="246.4" y="558.9" font-size="6.6" text-anchor="middle" fill="#333" textLength="7.6" lengthAdjust="spacingAndGlyphs">10<tspan font-size="4.2" dy="-2.6">4</tspan></text>
<text x="259.4" y="558.9" font-size="6.6" text-anchor="middle" fill="#333" textLength="7.6" lengthAdjust="spacingAndGlyphs">10<tspan font-size="4.2" dy="-2.6">5</tspan></text>
<text x="272.0" y="558.9" font-size="6.6" text-anchor="middle" fill="#333" textLength="7.6" lengthAdjust="spacingAndGlyphs">10<tspan font-size="4.2" dy="-2.6">6</tspan></text>
<text x="86.4" y="570.8" font-size="8.8" text-anchor="middle" textLength="16.2" lengthAdjust="spacingAndGlyphs" fill="#333">CD61</text>
<text x="168.0" y="570.8" font-size="8.8" text-anchor="middle" textLength="16.7" lengthAdjust="spacingAndGlyphs" fill="#333">CD41</text>
<text x="248.4" y="570.8" font-size="8.8" text-anchor="middle" textLength="20.2" lengthAdjust="spacingAndGlyphs" fill="#333">CD117</text>
<rect x="283.90" y="530.00" width="7.00" height="5.60" fill="#e2705e" stroke="#7a2a1a" stroke-width="0.7"/>
<rect x="283.90" y="538.10" width="7.00" height="5.60" fill="#8fd06e" stroke="#1d6a40" stroke-width="0.7"/>
<text x="292.7" y="535.3" font-size="6.8" textLength="21.5" lengthAdjust="spacingAndGlyphs" fill="#333">Dox (–)</text>
<text x="292.7" y="543.2" font-size="6.8" textLength="21.5" lengthAdjust="spacingAndGlyphs" fill="#333">Dox (+)</text>
<text x="6.9" y="590.6" font-size="11.6" font-weight="bold" fill="#111">H</text>
<text x="60.8" y="590.6" font-size="6.6" text-anchor="middle" textLength="20.8" lengthAdjust="spacingAndGlyphs" fill="#333">Dox (–)</text>
<text x="130.2" y="590.6" font-size="6.6" text-anchor="middle" textLength="22.4" lengthAdjust="spacingAndGlyphs" fill="#333">Dox (+)</text>
<text x="22.4" y="620.0" font-size="6.2" text-anchor="middle" textLength="36.7" lengthAdjust="spacingAndGlyphs" transform="rotate(-90 22.4 620.0)" fill="#333">KPAM1 IRX1</text>
<text x="22.4" y="670.9" font-size="6.2" text-anchor="middle" textLength="28.9" lengthAdjust="spacingAndGlyphs" transform="rotate(-90 22.4 670.9)" fill="#333">MGS IRX1</text>
<clipPath id="h1"><rect x="26.8" y="594.6" width="68" height="50"/></clipPath>
<g clip-path="url(#h1)">
<rect x="26.80" y="594.60" width="68.00" height="50.00" fill="#f2f1f4"/>
<g filter="url(#blur3)">
<path d="M45.01,599.56 L44.78,601.69 L43.49,603.48 L41.50,604.58 L39.13,604.94 L37.48,603.17 L35.65,601.82 L35.25,599.56 L35.38,597.16 L37.27,595.69 L39.17,594.33 L41.53,594.42 L43.30,595.87 L45.24,597.21 Z" fill="#a8a0c8" stroke="none" stroke-width="0.8"/>
<path d="M44.32,599.60 L43.56,601.22 L42.85,602.93 L41.19,603.94 L39.15,604.20 L37.69,602.75 L36.20,601.53 L35.87,599.60 L35.91,597.54 L37.31,595.98 L39.26,595.47 L41.16,595.40 L42.80,596.34 L43.65,597.94 Z" fill="#8e3ca0" stroke="none" stroke-width="0.8"/>
<path d="M40.14,599.99 L39.63,601.00 L38.62,601.84 L37.52,601.09 L36.90,599.99 L37.41,598.78 L38.62,598.64 L39.56,599.06 Z" fill="#6a2688" stroke="none" stroke-width="0.8" opacity="0.55"/>
<path d="M42.54,600.19 L42.06,600.92 L41.33,601.26 L40.40,601.11 L39.92,600.19 L40.58,599.45 L41.33,598.82 L42.16,599.35 Z" fill="#6a2688" stroke="none" stroke-width="0.8" opacity="0.55"/>
<path d="M42.11,599.61 L41.23,600.62 L40.21,601.57 L39.16,600.66 L38.61,599.61 L38.96,598.35 L40.21,597.74 L41.35,598.47 Z" fill="#6a2688" stroke="none" stroke-width="0.8" opacity="0.55"/>
<path d="M41.08,598.00 L40.77,598.67 L40.11,598.84 L39.43,598.68 L39.18,598.00 L39.44,597.34 L40.11,597.21 L40.70,597.41 Z" fill="#b070c8" stroke="none" stroke-width="0.8" opacity="0.5"/>
<path d="M70.05,607.09 L70.21,609.67 L68.14,611.21 L65.95,611.91 L63.51,612.95 L61.73,610.99 L59.70,609.56 L59.51,607.09 L60.37,604.93 L61.29,602.62 L63.56,601.45 L66.00,602.03 L68.59,602.39 L70.14,604.54 Z" fill="#a8a0c8" stroke="none" stroke-width="0.8"/>
<path d="M68.96,607.20 L68.26,609.35 L66.86,611.03 L64.85,611.82 L62.79,611.63 L61.04,610.67 L59.42,609.31 L59.21,607.20 L59.27,605.02 L60.70,603.31 L62.73,602.50 L64.75,603.02 L66.96,603.24 L67.51,605.41 Z" fill="#8e3ca0" stroke="none" stroke-width="0.8"/>
<path d="M65.34,606.51 L64.72,607.57 L63.65,608.14 L62.74,607.42 L62.41,606.51 L62.41,605.27 L63.65,604.93 L64.62,605.53 Z" fill="#6a2688" stroke="none" stroke-width="0.8" opacity="0.55"/>
<path d="M64.17,607.44 L63.18,608.57 L62.04,609.58 L60.75,608.73 L59.90,607.44 L60.61,606.00 L62.04,605.50 L63.30,606.18 Z" fill="#6a2688" stroke="none" stroke-width="0.8" opacity="0.55"/>
<path d="M65.32,608.53 L64.53,609.55 L63.51,610.47 L62.45,609.60 L61.85,608.53 L62.41,607.43 L63.51,606.63 L64.68,607.37 Z" fill="#6a2688" stroke="none" stroke-width="0.8" opacity="0.55"/>
<path d="M66.29,607.95 L66.12,608.67 L65.39,608.95 L64.77,608.57 L64.37,607.95 L64.64,607.19 L65.39,607.05 L66.05,607.29 Z" fill="#b070c8" stroke="none" stroke-width="0.8" opacity="0.5"/>
<path d="M81.58,600.98 L81.03,603.11 L79.39,604.47 L77.67,605.63 L75.58,605.48 L73.69,604.65 L71.61,603.39 L71.77,600.98 L72.23,598.87 L73.42,596.98 L75.57,596.45 L77.62,596.57 L79.98,596.75 L81.16,598.79 Z" fill="#a8a0c8" stroke="none" stroke-width="0.8"/>
<path d="M80.23,601.00 L79.94,602.80 L78.50,603.88 L77.10,604.95 L75.30,604.93 L73.53,604.35 L72.93,602.57 L71.62,601.00 L72.00,598.98 L73.75,597.92 L75.32,597.16 L77.25,596.40 L78.76,597.79 L79.97,599.18 Z" fill="#8e3ca0" stroke="none" stroke-width="0.8"/>
<path d="M77.81,600.67 L77.39,601.90 L76.16,602.56 L74.97,601.86 L74.50,600.67 L75.01,599.52 L76.16,599.20 L77.52,599.31 Z" fill="#6a2688" stroke="none" stroke-width="0.8" opacity="0.55"/>
<path d="M78.33,600.98 L77.66,602.45 L76.19,602.51 L74.87,602.30 L74.45,600.98 L75.05,599.85 L76.19,598.83 L77.35,599.82 Z" fill="#6a2688" stroke="none" stroke-width="0.8" opacity="0.55"/>
<path d="M78.70,601.31 L78.18,602.41 L77.08,603.44 L75.55,602.84 L75.34,601.31 L75.59,599.82 L77.08,599.20 L78.38,600.01 Z" fill="#6a2688" stroke="none" stroke-width="0.8" opacity="0.55"/>
<path d="M77.01,602.60 L76.86,603.29 L76.17,603.38 L75.61,603.16 L75.23,602.60 L75.52,601.95 L76.17,601.76 L76.79,601.98 Z" fill="#b070c8" stroke="none" stroke-width="0.8" opacity="0.5"/>
<path d="M82.32,609.85 L82.00,612.28 L80.05,613.72 L78.15,615.06 L75.75,615.17 L73.60,614.08 L71.85,612.32 L71.11,609.85 L72.07,607.49 L73.82,605.91 L75.74,604.49 L78.30,604.01 L80.04,606.00 L81.59,607.63 Z" fill="#a8a0c8" stroke="none" stroke-width="0.8"/>
<path d="M82.61,610.00 L82.11,612.17 L80.47,613.60 L78.49,613.91 L76.60,614.38 L74.47,613.92 L74.01,611.73 L72.64,610.00 L73.23,607.89 L74.51,606.13 L76.70,606.06 L78.49,606.11 L80.69,606.13 L81.61,608.07 Z" fill="#8e3ca0" stroke="none" stroke-width="0.8"/>
<path d="M79.13,609.81 L78.56,610.85 L77.51,611.30 L76.39,610.93 L76.01,609.81 L76.38,608.68 L77.51,607.97 L78.77,608.55 Z" fill="#6a2688" stroke="none" stroke-width="0.8" opacity="0.55"/>
<path d="M79.83,608.64 L79.39,610.05 L77.98,610.66 L76.59,610.03 L76.23,608.64 L76.58,607.24 L77.98,606.67 L79.61,607.02 Z" fill="#6a2688" stroke="none" stroke-width="0.8" opacity="0.55"/>
<path d="M79.47,608.77 L79.09,609.93 L77.93,610.24 L76.92,609.77 L76.27,608.77 L76.96,607.80 L77.93,607.24 L78.86,607.83 Z" fill="#6a2688" stroke="none" stroke-width="0.8" opacity="0.55"/>
<path d="M77.09,608.92 L76.94,609.66 L76.21,609.80 L75.48,609.65 L75.21,608.92 L75.49,608.20 L76.21,608.00 L76.87,608.26 Z" fill="#b070c8" stroke="none" stroke-width="0.8" opacity="0.5"/>
<path d="M67.64,616.85 L66.16,619.01 L65.23,621.32 L62.80,621.82 L60.42,622.30 L58.63,620.65 L57.22,618.99 L56.28,616.85 L56.13,614.18 L58.52,612.90 L60.52,611.84 L62.85,611.66 L65.20,612.41 L67.04,614.26 Z" fill="#a8a0c8" stroke="none" stroke-width="0.8"/>
<path d="M66.17,617.60 L66.02,619.68 L64.29,620.85 L62.82,622.52 L60.78,621.64 L58.81,621.22 L57.78,619.49 L57.52,617.60 L57.49,615.57 L58.96,614.16 L60.60,612.78 L62.74,613.04 L64.54,614.04 L65.77,615.64 Z" fill="#8e3ca0" stroke="none" stroke-width="0.8"/>
<path d="M62.77,617.50 L62.38,618.62 L61.26,619.25 L60.08,618.68 L59.92,617.50 L60.19,616.43 L61.26,615.79 L62.21,616.55 Z" fill="#6a2688" stroke="none" stroke-width="0.8" opacity="0.55"/>
<path d="M63.99,616.09 L63.02,617.21 L61.90,617.79 L60.48,617.51 L60.24,616.09 L60.55,614.74 L61.90,614.10 L63.07,614.92 Z" fill="#6a2688" stroke="none" stroke-width="0.8" opacity="0.55"/>
<path d="M63.70,616.60 L63.07,618.00 L61.67,619.02 L59.89,618.39 L59.71,616.60 L60.18,615.11 L61.67,614.25 L62.95,615.33 Z" fill="#6a2688" stroke="none" stroke-width="0.8" opacity="0.55"/>
<path d="M63.33,619.25 L62.98,619.92 L62.31,620.20 L61.57,619.99 L61.31,619.25 L61.57,618.51 L62.31,618.30 L63.05,618.51 Z" fill="#b070c8" stroke="none" stroke-width="0.8" opacity="0.5"/>
<path d="M55.62,626.68 L55.36,629.40 L53.27,631.14 L50.94,632.05 L48.34,632.70 L46.05,631.28 L44.49,629.20 L43.33,626.68 L43.44,623.66 L46.25,622.34 L48.18,619.95 L50.96,621.23 L53.24,622.26 L55.97,623.67 Z" fill="#a8a0c8" stroke="none" stroke-width="0.8"/>
<path d="M55.51,627.30 L55.69,629.75 L54.01,631.58 L51.76,632.36 L49.50,632.11 L47.09,631.71 L45.85,629.59 L44.84,627.30 L45.30,624.75 L47.57,623.50 L49.47,622.36 L51.76,622.23 L53.80,623.28 L55.47,624.95 Z" fill="#8e3ca0" stroke="none" stroke-width="0.8"/>
<path d="M52.45,626.50 L52.01,627.64 L50.88,628.36 L49.84,627.54 L49.01,626.50 L49.56,625.18 L50.88,624.52 L52.15,625.23 Z" fill="#6a2688" stroke="none" stroke-width="0.8" opacity="0.55"/>
<path d="M52.94,627.35 L52.30,628.60 L51.05,629.10 L49.74,628.66 L49.25,627.35 L49.87,626.18 L51.05,625.32 L52.52,625.89 Z" fill="#6a2688" stroke="none" stroke-width="0.8" opacity="0.55"/>
<path d="M53.03,625.80 L52.40,627.19 L51.00,627.88 L49.57,627.23 L48.38,625.80 L49.22,624.02 L51.00,623.92 L52.47,624.33 Z" fill="#6a2688" stroke="none" stroke-width="0.8" opacity="0.55"/>
<path d="M52.68,629.06 L52.37,629.88 L51.55,630.26 L50.81,629.80 L50.52,629.06 L50.87,628.37 L51.55,627.92 L52.30,628.31 Z" fill="#b070c8" stroke="none" stroke-width="0.8" opacity="0.5"/>
<path d="M62.22,635.62 L61.53,638.42 L59.81,640.76 L57.07,641.56 L54.38,641.45 L51.86,640.44 L49.61,638.56 L50.13,635.62 L50.16,632.95 L51.38,630.19 L54.43,629.99 L57.14,629.35 L59.97,630.27 L60.92,633.11 Z" fill="#a8a0c8" stroke="none" stroke-width="0.8"/>
<path d="M60.16,635.00 L59.80,637.41 L58.30,639.39 L55.82,639.46 L53.51,640.65 L51.14,639.58 L50.19,637.22 L49.80,635.00 L49.90,632.64 L51.78,631.21 L53.54,629.49 L56.11,629.28 L58.31,630.60 L58.95,633.00 Z" fill="#8e3ca0" stroke="none" stroke-width="0.8"/>
<path d="M58.79,634.59 L58.71,636.52 L56.79,636.69 L55.10,636.28 L54.47,634.59 L54.97,632.78 L56.79,631.98 L58.12,633.26 Z" fill="#6a2688" stroke="none" stroke-width="0.8" opacity="0.55"/>
<path d="M56.09,634.98 L55.81,636.04 L54.75,636.54 L53.63,636.10 L53.37,634.98 L53.50,633.72 L54.75,633.17 L55.79,633.94 Z" fill="#6a2688" stroke="none" stroke-width="0.8" opacity="0.55"/>
<path d="M56.82,635.38 L56.33,637.11 L54.60,637.20 L53.30,636.68 L52.50,635.38 L53.21,633.98 L54.60,633.13 L56.21,633.77 Z" fill="#6a2688" stroke="none" stroke-width="0.8" opacity="0.55"/>
<path d="M53.88,634.66 L53.59,635.42 L52.83,635.78 L51.96,635.53 L51.63,634.66 L52.05,633.87 L52.83,633.60 L53.53,633.96 Z" fill="#b070c8" stroke="none" stroke-width="0.8" opacity="0.5"/>
<path d="M46.32,641.14 L46.04,643.70 L44.56,645.94 L42.08,647.02 L39.46,646.76 L37.65,645.01 L35.86,643.49 L35.74,641.14 L35.87,638.80 L37.69,637.33 L39.54,635.89 L42.03,635.46 L44.01,637.04 L45.38,638.91 Z" fill="#a8a0c8" stroke="none" stroke-width="0.8"/>
<path d="M46.05,641.80 L46.30,644.06 L44.21,645.07 L42.60,646.19 L40.55,646.41 L38.80,645.32 L37.62,643.72 L36.60,641.80 L37.06,639.62 L38.49,637.90 L40.71,637.91 L42.70,637.00 L44.27,638.45 L45.72,639.82 Z" fill="#8e3ca0" stroke="none" stroke-width="0.8"/>
<path d="M45.02,641.97 L44.60,643.50 L43.07,643.75 L41.89,643.15 L40.98,641.97 L41.77,640.67 L43.07,639.70 L44.26,640.78 Z" fill="#6a2688" stroke="none" stroke-width="0.8" opacity="0.55"/>
<path d="M43.66,642.03 L43.08,643.37 L41.74,644.03 L40.28,643.49 L39.96,642.03 L40.17,640.46 L41.74,639.83 L43.12,640.64 Z" fill="#6a2688" stroke="none" stroke-width="0.8" opacity="0.55"/>
<path d="M42.56,641.77 L41.91,643.22 L40.46,643.97 L38.90,643.33 L38.58,641.77 L39.37,640.67 L40.46,640.17 L42.02,640.20 Z" fill="#6a2688" stroke="none" stroke-width="0.8" opacity="0.55"/>
<path d="M41.20,640.71 L40.94,641.43 L40.22,641.67 L39.48,641.45 L39.34,640.71 L39.54,640.03 L40.22,639.72 L40.91,640.01 Z" fill="#b070c8" stroke="none" stroke-width="0.8" opacity="0.5"/>
<path d="M98.06,632.19 L97.33,633.54 L96.54,634.72 L95.24,635.35 L93.86,635.06 L92.61,634.58 L91.64,633.57 L90.94,632.19 L91.31,630.64 L92.63,629.82 L93.80,629.03 L95.26,628.96 L96.76,629.38 L97.50,630.75 Z" fill="#a8a0c8" stroke="none" stroke-width="0.8"/>
<path d="M97.09,632.00 L97.03,633.22 L96.00,633.88 L95.14,634.80 L93.84,634.90 L92.63,634.34 L92.35,633.04 L91.41,632.00 L91.74,630.67 L92.88,629.97 L93.87,629.23 L95.19,629.00 L96.40,629.62 L97.20,630.70 Z" fill="#8e3ca0" stroke="none" stroke-width="0.8"/>
<path d="M95.72,632.53 L95.26,633.32 L94.47,633.74 L93.74,633.27 L93.22,632.53 L93.61,631.68 L94.47,631.40 L95.27,631.73 Z" fill="#6a2688" stroke="none" stroke-width="0.8" opacity="0.55"/>
<path d="M95.41,631.95 L95.07,632.65 L94.37,632.82 L93.60,632.72 L93.23,631.95 L93.66,631.24 L94.37,630.86 L95.06,631.26 Z" fill="#6a2688" stroke="none" stroke-width="0.8" opacity="0.55"/>
<path d="M94.93,632.38 L94.84,633.19 L94.03,633.42 L93.40,633.01 L93.07,632.38 L93.23,631.58 L94.03,631.29 L94.75,631.67 Z" fill="#6a2688" stroke="none" stroke-width="0.8" opacity="0.55"/>
<path d="M95.50,632.96 L95.28,633.35 L94.89,633.47 L94.44,633.41 L94.29,632.96 L94.53,632.60 L94.89,632.38 L95.32,632.54 Z" fill="#b070c8" stroke="none" stroke-width="0.8" opacity="0.5"/>
</g>
<text x="93.6" y="641.4" font-size="4.8" text-anchor="end" textLength="12.2" lengthAdjust="spacingAndGlyphs" fill="#333">10μm</text>
<rect x="85.80" y="642.80" width="8.20" height="1.20" fill="#000"/>
</g>
<rect x="26.8" y="594.6" width="68" height="50" fill="none" stroke="#3a3a3a" stroke-width="1.2"/>
<clipPath id="h2"><rect x="96.4" y="594.6" width="68" height="50"/></clipPath>
<g clip-path="url(#h2)">
<rect x="96.40" y="594.60" width="68.00" height="50.00" fill="#f2f1f4"/>
<g filter="url(#blur3)">
<path d="M121.44,603.34 L121.66,607.18 L119.56,610.70 L115.42,610.88 L112.01,610.73 L108.89,609.37 L106.02,607.04 L104.75,603.34 L106.59,599.92 L108.54,596.88 L112.02,595.98 L115.54,595.28 L119.05,596.63 L122.13,599.28 Z" fill="#a8a0c8" stroke="none" stroke-width="0.8"/>
<path d="M118.90,604.50 L117.93,606.87 L116.93,609.43 L114.49,611.01 L111.52,611.00 L109.56,608.81 L108.01,606.90 L107.20,604.50 L107.77,601.98 L109.19,599.73 L111.73,598.95 L114.53,597.80 L117.32,599.09 L119.11,601.56 Z" fill="#8e3ca0" stroke="none" stroke-width="0.8"/>
<path d="M115.91,602.96 L115.37,604.84 L113.49,606.21 L111.87,604.57 L110.52,602.96 L111.23,600.70 L113.49,600.12 L115.56,600.89 Z" fill="#6a2688" stroke="none" stroke-width="0.8" opacity="0.55"/>
<path d="M114.19,605.55 L113.65,607.24 L111.96,607.48 L110.40,607.11 L109.67,605.55 L110.37,603.95 L111.96,603.10 L113.78,603.73 Z" fill="#6a2688" stroke="none" stroke-width="0.8" opacity="0.55"/>
<path d="M115.22,604.62 L114.46,606.46 L112.62,606.93 L111.29,605.95 L110.40,604.62 L110.78,602.78 L112.62,602.75 L114.44,602.81 Z" fill="#6a2688" stroke="none" stroke-width="0.8" opacity="0.55"/>
<path d="M113.24,602.40 L112.83,603.22 L112.01,603.57 L111.16,603.25 L110.84,602.40 L111.16,601.54 L112.01,601.08 L112.93,601.49 Z" fill="#b070c8" stroke="none" stroke-width="0.8" opacity="0.5"/>
<path d="M116.57,617.00 L115.10,620.71 L112.17,622.98 L109.44,625.91 L105.51,625.34 L101.57,624.32 L99.27,620.92 L99.58,617.00 L99.76,613.32 L102.52,610.87 L105.43,608.32 L109.23,609.03 L112.39,610.76 L114.93,613.38 Z" fill="#a8a0c8" stroke="none" stroke-width="0.8"/>
<path d="M113.95,617.60 L112.67,620.09 L111.25,622.30 L108.82,623.40 L106.19,623.36 L104.03,621.95 L102.43,620.04 L101.93,617.60 L101.38,614.65 L103.84,613.01 L106.19,611.88 L108.72,612.28 L111.23,612.93 L113.19,614.86 Z" fill="#8e3ca0" stroke="none" stroke-width="0.8"/>
<path d="M111.49,616.82 L110.66,618.14 L109.34,618.59 L108.10,618.05 L107.26,616.82 L108.01,615.49 L109.34,614.81 L110.66,615.50 Z" fill="#6a2688" stroke="none" stroke-width="0.8" opacity="0.55"/>
<path d="M108.80,616.07 L107.62,617.36 L106.33,618.38 L104.98,617.41 L104.10,616.07 L105.09,614.83 L106.33,614.28 L107.80,614.60 Z" fill="#6a2688" stroke="none" stroke-width="0.8" opacity="0.55"/>
<path d="M109.81,617.56 L109.39,619.06 L107.90,619.28 L106.30,619.17 L106.19,617.56 L106.48,616.14 L107.90,615.72 L109.13,616.34 Z" fill="#6a2688" stroke="none" stroke-width="0.8" opacity="0.55"/>
<path d="M106.49,617.05 L106.15,617.96 L105.24,618.41 L104.31,617.99 L104.08,617.05 L104.36,616.17 L105.24,615.71 L106.07,616.23 Z" fill="#b070c8" stroke="none" stroke-width="0.8" opacity="0.5"/>
<path d="M113.60,626.45 L112.94,629.92 L110.61,632.56 L107.41,633.74 L104.09,633.73 L101.06,632.33 L97.99,630.19 L98.32,626.45 L97.36,622.41 L100.80,620.24 L103.86,618.16 L107.48,618.87 L111.36,619.42 L114.15,622.41 Z" fill="#a8a0c8" stroke="none" stroke-width="0.8"/>
<path d="M112.38,626.60 L112.27,629.23 L110.94,631.80 L107.97,631.75 L105.57,631.99 L103.13,631.20 L101.43,629.19 L100.15,626.60 L102.01,624.29 L102.51,621.23 L105.43,620.59 L108.28,620.10 L110.18,622.36 L111.53,624.32 Z" fill="#8e3ca0" stroke="none" stroke-width="0.8"/>
<path d="M107.94,628.16 L107.53,629.32 L106.37,629.74 L104.99,629.53 L104.18,628.16 L105.26,627.05 L106.37,626.24 L107.47,627.06 Z" fill="#6a2688" stroke="none" stroke-width="0.8" opacity="0.55"/>
<path d="M108.70,625.16 L108.19,626.98 L106.36,627.34 L104.91,626.61 L103.85,625.16 L104.73,623.52 L106.36,622.90 L108.25,623.27 Z" fill="#6a2688" stroke="none" stroke-width="0.8" opacity="0.55"/>
<path d="M109.46,626.59 L109.11,628.80 L106.89,629.58 L104.92,628.55 L104.31,626.59 L104.68,624.38 L106.89,623.74 L109.17,624.31 Z" fill="#6a2688" stroke="none" stroke-width="0.8" opacity="0.55"/>
<path d="M110.13,625.65 L109.79,626.52 L108.92,626.99 L108.09,626.48 L107.57,625.65 L107.97,624.70 L108.92,624.26 L109.85,624.72 Z" fill="#b070c8" stroke="none" stroke-width="0.8" opacity="0.5"/>
<path d="M137.06,610.98 L136.96,614.84 L134.54,617.99 L130.59,618.20 L127.22,618.53 L123.79,617.44 L121.75,614.44 L120.50,610.98 L120.78,607.05 L123.74,604.45 L126.87,601.88 L130.86,602.59 L134.79,603.64 L137.02,607.09 Z" fill="#a8a0c8" stroke="none" stroke-width="0.8"/>
<path d="M136.44,610.70 L134.72,613.16 L133.20,615.21 L131.03,616.98 L128.07,617.40 L125.96,615.26 L123.56,613.61 L123.16,610.70 L124.46,608.22 L126.24,606.49 L128.11,604.19 L131.10,604.12 L133.26,606.10 L134.44,608.37 Z" fill="#8e3ca0" stroke="none" stroke-width="0.8"/>
<path d="M130.21,609.59 L129.32,611.48 L127.43,611.80 L125.75,611.27 L125.22,609.59 L125.74,607.90 L127.43,606.84 L128.97,608.05 Z" fill="#6a2688" stroke="none" stroke-width="0.8" opacity="0.55"/>
<path d="M130.58,611.27 L129.71,613.29 L127.70,614.21 L125.87,613.10 L125.20,611.27 L125.83,609.40 L127.70,608.20 L129.26,609.70 Z" fill="#6a2688" stroke="none" stroke-width="0.8" opacity="0.55"/>
<path d="M129.26,611.60 L128.75,613.09 L127.26,613.75 L126.13,612.72 L125.02,611.60 L125.65,609.99 L127.26,609.72 L128.54,610.31 Z" fill="#6a2688" stroke="none" stroke-width="0.8" opacity="0.55"/>
<path d="M129.19,609.01 L129.01,610.01 L128.01,610.22 L127.09,609.93 L126.73,609.01 L127.05,608.04 L128.01,607.63 L128.82,608.20 Z" fill="#b070c8" stroke="none" stroke-width="0.8" opacity="0.5"/>
<path d="M131.28,619.88 L131.07,622.80 L129.04,624.94 L126.56,626.68 L123.35,627.17 L121.10,624.79 L118.09,623.21 L118.74,619.88 L118.89,616.94 L120.20,613.85 L123.30,612.39 L126.70,612.46 L129.48,614.28 L131.83,616.60 Z" fill="#a8a0c8" stroke="none" stroke-width="0.8"/>
<path d="M130.41,619.00 L129.50,621.26 L127.92,622.91 L126.02,624.37 L123.76,623.56 L122.07,622.42 L120.23,621.20 L119.93,619.00 L120.58,616.97 L121.29,614.60 L123.65,613.97 L125.92,614.08 L127.94,615.06 L129.03,616.96 Z" fill="#8e3ca0" stroke="none" stroke-width="0.8"/>
<path d="M126.28,620.97 L125.89,622.07 L124.79,622.73 L123.78,621.98 L123.27,620.97 L123.49,619.67 L124.79,619.32 L126.15,619.61 Z" fill="#6a2688" stroke="none" stroke-width="0.8" opacity="0.55"/>
<path d="M126.45,618.76 L125.97,620.36 L124.36,621.18 L122.70,620.42 L122.17,618.76 L123.17,617.56 L124.36,616.78 L125.58,617.54 Z" fill="#6a2688" stroke="none" stroke-width="0.8" opacity="0.55"/>
<path d="M126.48,619.03 L126.27,620.57 L124.73,620.62 L123.48,620.28 L122.83,619.03 L123.48,617.78 L124.73,617.31 L126.19,617.58 Z" fill="#6a2688" stroke="none" stroke-width="0.8" opacity="0.55"/>
<path d="M126.63,617.26 L126.38,618.03 L125.61,618.23 L124.95,617.92 L124.55,617.26 L124.92,616.57 L125.61,616.15 L126.27,616.60 Z" fill="#b070c8" stroke="none" stroke-width="0.8" opacity="0.5"/>
<path d="M143.46,617.00 L143.34,619.65 L141.59,621.72 L139.03,622.25 L136.73,621.81 L134.58,621.07 L132.90,619.38 L131.98,617.00 L132.56,614.46 L134.41,612.72 L136.52,611.26 L139.17,611.15 L141.60,612.28 L142.45,614.78 Z" fill="#a8a0c8" stroke="none" stroke-width="0.8"/>
<path d="M141.68,616.20 L141.65,617.96 L140.77,619.67 L138.84,619.90 L137.06,620.31 L135.55,619.27 L134.20,618.03 L134.26,616.20 L134.74,614.63 L135.38,612.91 L137.15,612.46 L138.95,612.03 L140.81,612.68 L141.60,614.47 Z" fill="#8e3ca0" stroke="none" stroke-width="0.8"/>
<path d="M139.61,616.87 L139.18,618.11 L137.94,618.35 L136.61,618.20 L136.35,616.87 L136.65,615.58 L137.94,615.32 L138.97,615.84 Z" fill="#6a2688" stroke="none" stroke-width="0.8" opacity="0.55"/>
<path d="M140.58,616.28 L140.02,617.04 L139.25,617.43 L138.44,617.10 L138.28,616.28 L138.51,615.54 L139.25,615.16 L140.21,615.32 Z" fill="#6a2688" stroke="none" stroke-width="0.8" opacity="0.55"/>
<path d="M139.70,615.99 L139.41,617.11 L138.30,617.25 L137.15,617.14 L136.60,615.99 L137.08,614.78 L138.30,614.75 L139.57,614.73 Z" fill="#6a2688" stroke="none" stroke-width="0.8" opacity="0.55"/>
<path d="M140.24,615.57 L139.95,616.14 L139.39,616.41 L138.85,616.11 L138.53,615.57 L138.79,614.98 L139.39,614.77 L139.95,615.01 Z" fill="#b070c8" stroke="none" stroke-width="0.8" opacity="0.5"/>
<path d="M150.57,621.82 L150.09,624.44 L148.16,626.22 L145.94,627.44 L143.17,628.37 L140.45,627.10 L139.09,624.51 L138.27,621.82 L139.46,619.32 L141.12,617.38 L143.23,615.56 L145.93,616.24 L148.99,616.39 L150.71,618.91 Z" fill="#a8a0c8" stroke="none" stroke-width="0.8"/>
<path d="M148.89,621.00 L149.34,623.14 L147.64,624.44 L145.93,625.50 L143.84,625.65 L141.78,624.91 L140.99,622.88 L140.11,621.00 L140.16,618.72 L141.78,617.09 L143.80,616.16 L145.97,616.33 L147.77,617.40 L149.17,618.94 Z" fill="#8e3ca0" stroke="none" stroke-width="0.8"/>
<path d="M146.71,619.54 L146.54,620.77 L145.31,620.99 L144.20,620.65 L143.74,619.54 L144.00,618.23 L145.31,617.91 L146.68,618.18 Z" fill="#6a2688" stroke="none" stroke-width="0.8" opacity="0.55"/>
<path d="M146.60,620.40 L146.30,621.43 L145.27,621.68 L144.28,621.40 L144.08,620.40 L144.20,619.33 L145.27,619.34 L146.37,619.31 Z" fill="#6a2688" stroke="none" stroke-width="0.8" opacity="0.55"/>
<path d="M148.44,619.91 L147.43,621.02 L146.33,621.34 L144.96,621.27 L144.73,619.91 L145.19,618.77 L146.33,618.10 L147.71,618.53 Z" fill="#6a2688" stroke="none" stroke-width="0.8" opacity="0.55"/>
<path d="M147.38,620.18 L147.22,620.95 L146.46,621.23 L145.71,620.93 L145.45,620.18 L145.81,619.54 L146.46,619.14 L147.09,619.54 Z" fill="#b070c8" stroke="none" stroke-width="0.8" opacity="0.5"/>
<path d="M162.45,619.78 L162.30,623.52 L159.94,626.56 L156.38,627.86 L152.80,627.42 L149.78,625.75 L148.03,622.91 L146.10,619.78 L146.96,616.13 L149.16,613.03 L152.71,611.75 L156.55,610.98 L159.24,613.89 L161.66,616.35 Z" fill="#a8a0c8" stroke="none" stroke-width="0.8"/>
<path d="M161.33,620.40 L160.68,623.04 L158.80,624.92 L156.61,626.56 L153.76,626.72 L151.82,624.64 L149.72,623.04 L148.77,620.40 L149.62,617.71 L151.09,615.25 L154.05,615.38 L156.40,615.13 L158.50,616.26 L161.01,617.60 Z" fill="#8e3ca0" stroke="none" stroke-width="0.8"/>
<path d="M158.14,621.84 L157.77,623.44 L156.18,624.26 L154.91,623.11 L153.86,621.84 L154.72,620.38 L156.18,619.40 L157.78,620.23 Z" fill="#6a2688" stroke="none" stroke-width="0.8" opacity="0.55"/>
<path d="M158.77,620.08 L157.72,621.54 L156.26,622.60 L154.67,621.67 L153.40,620.08 L154.80,618.63 L156.26,617.25 L158.00,618.34 Z" fill="#6a2688" stroke="none" stroke-width="0.8" opacity="0.55"/>
<path d="M155.73,620.82 L155.49,622.27 L154.05,622.49 L152.63,622.23 L152.07,620.82 L152.93,619.71 L154.05,618.95 L155.34,619.53 Z" fill="#6a2688" stroke="none" stroke-width="0.8" opacity="0.55"/>
<path d="M156.10,618.20 L155.60,619.03 L154.77,619.29 L153.98,618.99 L153.47,618.20 L154.00,617.43 L154.77,617.09 L155.58,617.39 Z" fill="#b070c8" stroke="none" stroke-width="0.8" opacity="0.5"/>
<path d="M140.89,635.34 L139.36,638.36 L137.88,641.34 L134.81,642.83 L131.49,642.38 L127.93,641.82 L125.96,638.78 L125.66,635.34 L126.24,632.04 L128.44,629.49 L131.54,628.51 L134.70,628.32 L137.84,629.40 L140.38,631.83 Z" fill="#a8a0c8" stroke="none" stroke-width="0.8"/>
<path d="M138.58,636.30 L138.40,638.90 L137.00,641.32 L134.41,642.50 L131.63,642.30 L129.90,640.19 L128.50,638.47 L127.45,636.30 L128.45,634.11 L129.68,632.14 L131.61,630.19 L134.32,630.54 L136.42,632.01 L138.24,633.78 Z" fill="#8e3ca0" stroke="none" stroke-width="0.8"/>
<path d="M133.87,637.12 L132.80,638.27 L131.65,638.75 L130.21,638.55 L130.00,637.12 L130.48,635.95 L131.65,634.94 L133.23,635.53 Z" fill="#6a2688" stroke="none" stroke-width="0.8" opacity="0.55"/>
<path d="M136.58,637.12 L135.90,638.94 L134.08,639.18 L132.69,638.51 L131.82,637.12 L132.52,635.56 L134.08,634.44 L135.86,635.34 Z" fill="#6a2688" stroke="none" stroke-width="0.8" opacity="0.55"/>
<path d="M134.82,637.88 L134.62,639.67 L132.83,639.82 L131.41,639.30 L130.42,637.88 L131.18,636.23 L132.83,635.89 L134.45,636.27 Z" fill="#6a2688" stroke="none" stroke-width="0.8" opacity="0.55"/>
<path d="M136.42,636.13 L136.06,637.04 L135.15,637.45 L134.40,636.88 L133.84,636.13 L134.38,635.35 L135.15,634.96 L135.91,635.37 Z" fill="#b070c8" stroke="none" stroke-width="0.8" opacity="0.5"/>
<path d="M164.09,635.01 L162.77,637.56 L161.40,639.92 L158.87,641.05 L156.17,640.79 L153.89,639.53 L151.39,637.95 L151.03,635.01 L151.98,632.36 L153.17,629.60 L155.99,628.46 L158.94,628.65 L161.89,629.50 L163.45,632.15 Z" fill="#a8a0c8" stroke="none" stroke-width="0.8"/>
<path d="M162.37,635.00 L161.05,636.81 L159.95,638.33 L158.21,638.97 L156.23,639.69 L154.24,638.84 L152.81,637.16 L153.02,635.00 L153.36,633.10 L154.54,631.54 L156.22,630.29 L158.31,630.59 L159.87,631.78 L161.70,632.88 Z" fill="#8e3ca0" stroke="none" stroke-width="0.8"/>
<path d="M157.41,636.38 L157.08,637.46 L155.99,637.97 L154.87,637.50 L154.68,636.38 L154.87,635.26 L155.99,635.02 L156.94,635.42 Z" fill="#6a2688" stroke="none" stroke-width="0.8" opacity="0.55"/>
<path d="M159.67,634.13 L159.27,635.07 L158.32,635.53 L157.39,635.06 L156.85,634.13 L157.15,632.96 L158.32,632.48 L159.57,632.88 Z" fill="#6a2688" stroke="none" stroke-width="0.8" opacity="0.55"/>
<path d="M159.28,633.26 L158.90,634.40 L157.75,634.76 L156.60,634.41 L155.77,633.26 L156.31,631.82 L157.75,631.15 L159.13,631.87 Z" fill="#6a2688" stroke="none" stroke-width="0.8" opacity="0.55"/>
<path d="M159.61,636.19 L159.31,636.91 L158.59,637.27 L157.96,636.83 L157.52,636.19 L157.83,635.43 L158.60,635.23 L159.34,635.45 Z" fill="#b070c8" stroke="none" stroke-width="0.8" opacity="0.5"/>
<path d="M146.89,641.97 L145.67,643.90 L144.40,645.39 L142.80,646.90 L140.66,646.43 L138.43,646.04 L137.69,643.89 L137.24,641.97 L137.85,640.13 L138.48,637.97 L140.71,637.75 L142.85,636.81 L144.75,638.11 L145.51,640.12 Z" fill="#a8a0c8" stroke="none" stroke-width="0.8"/>
<path d="M144.96,642.20 L144.25,643.57 L143.56,644.90 L142.23,645.83 L140.67,645.42 L139.18,644.99 L138.38,643.65 L138.27,642.20 L137.87,640.50 L139.08,639.30 L140.65,638.92 L142.17,638.82 L143.39,639.70 L144.44,640.74 Z" fill="#8e3ca0" stroke="none" stroke-width="0.8"/>
<path d="M143.99,642.24 L143.37,643.22 L142.39,643.82 L141.49,643.15 L140.93,642.24 L141.51,641.36 L142.39,640.90 L143.34,641.30 Z" fill="#6a2688" stroke="none" stroke-width="0.8" opacity="0.55"/>
<path d="M142.55,642.02 L141.68,642.99 L140.71,643.47 L139.50,643.23 L139.14,642.02 L139.72,641.03 L140.71,640.53 L141.81,640.92 Z" fill="#6a2688" stroke="none" stroke-width="0.8" opacity="0.55"/>
<path d="M142.35,642.19 L142.24,643.05 L141.38,643.46 L140.60,642.96 L140.40,642.19 L140.55,641.36 L141.38,641.19 L142.19,641.37 Z" fill="#6a2688" stroke="none" stroke-width="0.8" opacity="0.55"/>
<path d="M141.68,640.93 L141.56,641.47 L141.03,641.58 L140.47,641.49 L140.24,640.93 L140.48,640.39 L141.03,640.22 L141.51,640.45 Z" fill="#b070c8" stroke="none" stroke-width="0.8" opacity="0.5"/>
</g>
<text x="163.2" y="641.4" font-size="4.8" text-anchor="end" textLength="12.2" lengthAdjust="spacingAndGlyphs" fill="#333">10μm</text>
<rect x="155.40" y="642.80" width="8.20" height="1.20" fill="#000"/>
</g>
<rect x="96.4" y="594.6" width="68" height="50" fill="none" stroke="#3a3a3a" stroke-width="1.2"/>
<clipPath id="h3"><rect x="26.8" y="646.0" width="68" height="51"/></clipPath>
<g clip-path="url(#h3)">
<rect x="26.80" y="646.00" width="68.00" height="51.00" fill="#f2f1f4"/>
<g filter="url(#blur3)">
<path d="M37.35,657.09 L36.26,658.53 L35.86,660.34 L34.05,660.48 L32.35,661.13 L31.09,659.83 L29.62,658.86 L29.88,657.09 L29.61,655.33 L30.85,654.05 L32.37,653.13 L34.14,653.32 L35.47,654.34 L36.61,655.49 Z" fill="#a8a0c8" stroke="none" stroke-width="0.8"/>
<path d="M35.73,657.20 L35.51,658.60 L34.52,659.61 L33.35,660.50 L31.82,660.61 L30.44,659.90 L29.65,658.62 L29.76,657.20 L29.92,655.91 L30.80,654.95 L31.89,654.09 L33.36,653.86 L34.59,654.71 L35.35,655.88 Z" fill="#8e3ca0" stroke="none" stroke-width="0.8"/>
<path d="M33.12,656.63 L32.86,657.68 L31.81,657.99 L30.83,657.60 L30.41,656.63 L30.71,655.52 L31.81,654.92 L32.92,655.51 Z" fill="#6a2688" stroke="none" stroke-width="0.8" opacity="0.55"/>
<path d="M33.45,657.19 L33.30,657.89 L32.60,658.19 L32.08,657.70 L31.81,657.19 L31.97,656.57 L32.60,656.36 L33.24,656.55 Z" fill="#6a2688" stroke="none" stroke-width="0.8" opacity="0.55"/>
<path d="M34.60,656.63 L33.81,657.57 L32.87,657.99 L31.74,657.76 L31.12,656.63 L31.88,655.65 L32.87,654.94 L33.99,655.50 Z" fill="#6a2688" stroke="none" stroke-width="0.8" opacity="0.55"/>
<path d="M33.14,658.39 L32.91,658.88 L32.42,659.01 L31.96,658.85 L31.79,658.39 L31.96,657.92 L32.42,657.67 L32.86,657.95 Z" fill="#b070c8" stroke="none" stroke-width="0.8" opacity="0.5"/>
<path d="M34.71,662.58 L34.68,664.83 L32.92,666.24 L31.05,667.17 L28.94,667.26 L26.65,666.79 L25.48,664.76 L25.37,662.58 L25.79,660.56 L26.88,658.67 L28.84,657.50 L31.25,657.12 L32.95,658.89 L34.70,660.32 Z" fill="#a8a0c8" stroke="none" stroke-width="0.8"/>
<path d="M34.39,663.40 L34.81,665.48 L32.76,666.23 L31.46,667.61 L29.68,666.99 L28.16,666.33 L26.92,665.12 L25.73,663.40 L27.21,661.82 L27.79,660.01 L29.69,659.83 L31.55,658.82 L33.31,659.88 L34.68,661.39 Z" fill="#8e3ca0" stroke="none" stroke-width="0.8"/>
<path d="M31.88,664.05 L31.51,665.39 L30.16,665.62 L28.98,665.23 L28.81,664.05 L29.11,663.00 L30.16,662.63 L31.50,662.70 Z" fill="#6a2688" stroke="none" stroke-width="0.8" opacity="0.55"/>
<path d="M31.80,663.54 L31.54,664.56 L30.52,664.89 L29.44,664.63 L28.81,663.54 L29.62,662.64 L30.52,661.75 L31.42,662.64 Z" fill="#6a2688" stroke="none" stroke-width="0.8" opacity="0.55"/>
<path d="M31.38,664.42 L30.56,665.86 L29.12,666.34 L27.56,665.98 L27.37,664.42 L28.00,663.30 L29.12,662.46 L30.43,663.11 Z" fill="#6a2688" stroke="none" stroke-width="0.8" opacity="0.55"/>
<path d="M31.30,665.00 L31.08,665.58 L30.50,665.88 L29.95,665.55 L29.69,665.00 L29.86,664.36 L30.50,664.16 L31.15,664.35 Z" fill="#b070c8" stroke="none" stroke-width="0.8" opacity="0.5"/>
<path d="M44.37,668.76 L43.63,671.76 L41.01,673.31 L38.84,675.13 L35.99,674.85 L33.69,673.39 L31.85,671.42 L31.08,668.76 L32.32,666.32 L33.87,664.36 L35.98,662.59 L38.84,662.40 L41.17,664.01 L42.48,666.30 Z" fill="#a8a0c8" stroke="none" stroke-width="0.8"/>
<path d="M43.28,668.20 L42.54,670.29 L41.40,672.22 L39.40,673.45 L37.16,672.73 L35.21,671.95 L33.92,670.26 L32.57,668.20 L33.12,665.75 L35.11,664.33 L37.06,663.21 L39.21,663.76 L41.91,663.54 L42.44,666.16 Z" fill="#8e3ca0" stroke="none" stroke-width="0.8"/>
<path d="M38.58,667.50 L38.31,669.12 L36.69,669.62 L35.36,668.84 L35.00,667.50 L35.07,665.88 L36.69,665.48 L38.14,666.05 Z" fill="#6a2688" stroke="none" stroke-width="0.8" opacity="0.55"/>
<path d="M39.58,667.50 L39.24,668.91 L37.83,669.45 L36.68,668.65 L36.44,667.50 L36.74,666.41 L37.83,665.83 L39.15,666.18 Z" fill="#6a2688" stroke="none" stroke-width="0.8" opacity="0.55"/>
<path d="M40.29,667.13 L39.91,668.78 L38.26,669.78 L36.76,668.63 L35.79,667.13 L36.68,665.55 L38.26,664.66 L39.73,665.66 Z" fill="#6a2688" stroke="none" stroke-width="0.8" opacity="0.55"/>
<path d="M40.35,669.90 L40.05,670.71 L39.25,670.94 L38.40,670.75 L38.17,669.90 L38.42,669.08 L39.25,668.85 L39.97,669.18 Z" fill="#b070c8" stroke="none" stroke-width="0.8" opacity="0.5"/>
<path d="M56.02,668.57 L54.65,670.96 L53.72,673.64 L50.98,674.25 L48.38,674.27 L46.38,672.72 L44.29,671.17 L44.16,668.57 L44.68,666.16 L46.32,664.35 L48.21,662.10 L51.03,662.68 L53.54,663.74 L55.35,665.84 Z" fill="#a8a0c8" stroke="none" stroke-width="0.8"/>
<path d="M54.24,669.60 L53.36,671.60 L52.20,673.36 L50.27,674.31 L48.05,674.62 L46.05,673.55 L44.20,672.01 L44.31,669.60 L44.91,667.53 L45.71,665.22 L48.23,665.33 L50.24,665.05 L51.92,666.19 L53.39,667.58 Z" fill="#8e3ca0" stroke="none" stroke-width="0.8"/>
<path d="M50.87,668.95 L50.67,670.12 L49.49,670.22 L48.64,669.80 L48.11,668.95 L48.54,668.00 L49.49,667.55 L50.63,667.81 Z" fill="#6a2688" stroke="none" stroke-width="0.8" opacity="0.55"/>
<path d="M49.57,670.35 L49.18,671.41 L48.12,671.68 L47.14,671.33 L46.32,670.35 L46.84,669.07 L48.12,668.78 L49.29,669.18 Z" fill="#6a2688" stroke="none" stroke-width="0.8" opacity="0.55"/>
<path d="M50.85,669.66 L50.79,671.17 L49.28,671.47 L47.91,671.04 L47.24,669.66 L47.74,668.12 L49.28,667.88 L50.73,668.21 Z" fill="#6a2688" stroke="none" stroke-width="0.8" opacity="0.55"/>
<path d="M52.08,669.51 L51.89,670.28 L51.12,670.49 L50.39,670.24 L50.09,669.51 L50.32,668.71 L51.12,668.47 L51.94,668.69 Z" fill="#b070c8" stroke="none" stroke-width="0.8" opacity="0.5"/>
<path d="M57.97,678.65 L58.04,681.74 L56.02,684.16 L53.09,685.07 L50.03,685.64 L46.98,684.47 L45.26,681.71 L44.65,678.65 L45.99,675.94 L46.75,672.54 L50.01,671.59 L53.31,671.24 L55.84,673.36 L58.18,675.49 Z" fill="#a8a0c8" stroke="none" stroke-width="0.8"/>
<path d="M57.15,679.30 L55.98,681.55 L54.89,683.80 L52.58,684.90 L49.94,685.25 L47.14,684.51 L45.80,681.95 L45.00,679.30 L45.37,676.44 L47.33,674.33 L50.13,674.15 L52.74,673.01 L55.09,674.55 L56.08,677.00 Z" fill="#8e3ca0" stroke="none" stroke-width="0.8"/>
<path d="M52.36,678.94 L51.74,680.45 L50.23,681.21 L48.25,680.92 L48.08,678.94 L48.45,677.16 L50.23,676.14 L52.12,677.04 Z" fill="#6a2688" stroke="none" stroke-width="0.8" opacity="0.55"/>
<path d="M53.07,679.30 L52.74,680.73 L51.32,681.34 L49.98,680.64 L49.60,679.30 L50.16,678.14 L51.32,677.81 L52.70,677.92 Z" fill="#6a2688" stroke="none" stroke-width="0.8" opacity="0.55"/>
<path d="M52.61,677.75 L51.88,679.47 L50.16,680.00 L48.36,679.56 L47.52,677.75 L48.72,676.31 L50.16,675.33 L52.01,675.91 Z" fill="#6a2688" stroke="none" stroke-width="0.8" opacity="0.55"/>
<path d="M51.72,677.20 L51.44,678.13 L50.51,678.57 L49.70,678.01 L49.18,677.20 L49.63,676.33 L50.51,675.83 L51.44,676.27 Z" fill="#b070c8" stroke="none" stroke-width="0.8" opacity="0.5"/>
<path d="M88.16,660.67 L88.06,663.24 L86.33,665.20 L84.10,666.74 L81.52,665.90 L79.27,664.99 L77.33,663.26 L76.69,660.67 L77.67,658.24 L79.12,656.16 L81.48,655.24 L84.17,654.29 L86.19,656.32 L87.88,658.18 Z" fill="#a8a0c8" stroke="none" stroke-width="0.8"/>
<path d="M87.99,660.00 L87.33,661.99 L86.16,663.71 L84.25,664.59 L82.09,664.86 L79.88,664.17 L78.98,662.03 L78.56,660.00 L78.50,657.74 L79.75,655.67 L82.08,655.10 L84.37,654.89 L86.72,655.59 L87.24,658.05 Z" fill="#8e3ca0" stroke="none" stroke-width="0.8"/>
<path d="M82.80,660.31 L82.17,661.24 L81.24,662.05 L80.29,661.26 L79.53,660.31 L80.26,659.33 L81.24,658.54 L82.11,659.44 Z" fill="#6a2688" stroke="none" stroke-width="0.8" opacity="0.55"/>
<path d="M84.19,661.22 L83.27,662.49 L82.00,663.36 L80.49,662.73 L80.08,661.22 L80.28,659.50 L82.00,658.97 L83.43,659.79 Z" fill="#6a2688" stroke="none" stroke-width="0.8" opacity="0.55"/>
<path d="M84.16,660.45 L83.84,661.60 L82.69,662.23 L81.45,661.69 L81.01,660.45 L81.82,659.58 L82.69,659.21 L83.72,659.42 Z" fill="#6a2688" stroke="none" stroke-width="0.8" opacity="0.55"/>
<path d="M85.87,661.19 L85.39,661.88 L84.71,662.16 L83.93,661.97 L83.73,661.19 L84.02,660.50 L84.71,660.04 L85.53,660.36 Z" fill="#b070c8" stroke="none" stroke-width="0.8" opacity="0.5"/>
<path d="M80.90,673.89 L79.66,676.39 L78.88,679.41 L76.07,680.87 L73.04,680.20 L70.51,678.87 L68.96,676.55 L67.58,673.89 L69.13,671.32 L70.74,669.21 L73.09,667.81 L75.77,668.27 L78.73,668.57 L79.95,671.26 Z" fill="#a8a0c8" stroke="none" stroke-width="0.8"/>
<path d="M81.68,673.80 L79.93,675.88 L79.33,678.48 L76.73,678.75 L74.39,679.11 L71.76,678.62 L71.15,675.94 L69.54,673.80 L71.05,671.61 L72.18,669.51 L74.51,669.01 L76.77,668.66 L79.19,669.30 L80.25,671.56 Z" fill="#8e3ca0" stroke="none" stroke-width="0.8"/>
<path d="M77.43,673.63 L76.79,675.04 L75.38,675.96 L73.97,675.05 L73.59,673.63 L74.05,672.30 L75.38,671.63 L76.66,672.36 Z" fill="#6a2688" stroke="none" stroke-width="0.8" opacity="0.55"/>
<path d="M76.57,672.33 L75.82,673.35 L74.80,673.96 L73.68,673.45 L73.33,672.33 L73.81,671.34 L74.80,670.49 L76.01,671.12 Z" fill="#6a2688" stroke="none" stroke-width="0.8" opacity="0.55"/>
<path d="M77.28,675.56 L76.04,676.97 L74.64,677.62 L73.28,676.92 L72.18,675.56 L72.85,673.78 L74.64,672.98 L76.10,674.10 Z" fill="#6a2688" stroke="none" stroke-width="0.8" opacity="0.55"/>
<path d="M75.89,675.72 L75.61,676.53 L74.80,676.89 L73.97,676.55 L73.75,675.72 L73.97,674.89 L74.80,674.65 L75.55,674.97 Z" fill="#b070c8" stroke="none" stroke-width="0.8" opacity="0.5"/>
<path d="M73.87,684.10 L74.37,686.70 L72.66,688.74 L70.15,689.28 L67.75,689.42 L65.34,688.65 L64.55,686.22 L63.88,684.10 L64.47,681.93 L65.20,679.37 L67.69,678.50 L70.25,678.46 L72.38,679.81 L73.61,681.86 Z" fill="#a8a0c8" stroke="none" stroke-width="0.8"/>
<path d="M73.04,684.90 L72.23,686.65 L71.55,688.60 L69.66,689.55 L67.52,689.62 L65.61,688.66 L64.41,686.92 L63.50,684.90 L64.03,682.70 L65.72,681.28 L67.49,680.05 L69.74,679.90 L71.16,681.69 L72.26,683.14 Z" fill="#8e3ca0" stroke="none" stroke-width="0.8"/>
<path d="M70.89,685.20 L70.27,686.24 L69.23,686.54 L68.08,686.35 L67.78,685.20 L68.35,684.32 L69.23,683.88 L70.20,684.23 Z" fill="#6a2688" stroke="none" stroke-width="0.8" opacity="0.55"/>
<path d="M69.87,685.86 L68.96,686.93 L67.89,687.34 L66.55,687.20 L66.30,685.86 L66.50,684.47 L67.89,684.36 L68.95,684.80 Z" fill="#6a2688" stroke="none" stroke-width="0.8" opacity="0.55"/>
<path d="M71.61,685.16 L71.02,686.03 L70.15,686.56 L69.04,686.26 L68.83,685.16 L69.11,684.12 L70.15,683.81 L71.01,684.29 Z" fill="#6a2688" stroke="none" stroke-width="0.8" opacity="0.55"/>
<path d="M71.34,684.52 L70.98,685.18 L70.32,685.53 L69.68,685.15 L69.35,684.52 L69.69,683.89 L70.32,683.60 L70.97,683.87 Z" fill="#b070c8" stroke="none" stroke-width="0.8" opacity="0.5"/>
<path d="M33.97,693.84 L34.23,696.22 L32.60,697.98 L30.35,698.45 L28.25,698.42 L25.93,698.06 L24.84,695.98 L23.97,693.84 L24.64,691.60 L26.31,690.10 L28.26,689.30 L30.53,688.41 L32.68,689.59 L33.34,691.89 Z" fill="#a8a0c8" stroke="none" stroke-width="0.8"/>
<path d="M34.09,693.20 L34.03,695.24 L32.40,696.46 L30.75,697.35 L28.84,697.42 L27.13,696.54 L25.73,695.16 L26.13,693.20 L25.95,691.34 L26.93,689.61 L28.87,689.11 L30.78,688.89 L32.42,689.92 L33.13,691.60 Z" fill="#8e3ca0" stroke="none" stroke-width="0.8"/>
<path d="M31.69,692.81 L31.49,694.03 L30.26,694.61 L29.18,693.88 L28.66,692.81 L29.14,691.68 L30.26,691.45 L31.50,691.56 Z" fill="#6a2688" stroke="none" stroke-width="0.8" opacity="0.55"/>
<path d="M30.22,693.81 L29.72,695.14 L28.39,695.60 L27.36,694.83 L26.93,693.81 L27.34,692.76 L28.39,692.45 L29.44,692.75 Z" fill="#6a2688" stroke="none" stroke-width="0.8" opacity="0.55"/>
<path d="M31.13,693.10 L30.96,694.62 L29.44,694.97 L27.95,694.60 L27.48,693.10 L28.05,691.71 L29.44,690.85 L30.94,691.61 Z" fill="#6a2688" stroke="none" stroke-width="0.8" opacity="0.55"/>
<path d="M31.53,694.58 L31.20,695.17 L30.61,695.43 L29.96,695.23 L29.70,694.58 L29.97,693.93 L30.61,693.77 L31.27,693.92 Z" fill="#b070c8" stroke="none" stroke-width="0.8" opacity="0.5"/>
</g>
<text x="93.6" y="693.8" font-size="4.8" text-anchor="end" textLength="12.2" lengthAdjust="spacingAndGlyphs" fill="#333">10μm</text>
<rect x="85.80" y="695.20" width="8.20" height="1.20" fill="#000"/>
</g>
<rect x="26.8" y="646.0" width="68" height="51" fill="none" stroke="#3a3a3a" stroke-width="1.2"/>
<clipPath id="h4"><rect x="96.4" y="646.0" width="68" height="51"/></clipPath>
<g clip-path="url(#h4)">
<rect x="96.40" y="646.00" width="68.00" height="51.00" fill="#f2f1f4"/>
<g filter="url(#blur3)">
<path d="M106.77,650.33 L106.25,652.71 L104.40,654.21 L102.53,655.71 L100.18,655.20 L97.93,654.55 L96.36,652.71 L96.03,650.33 L96.28,647.91 L98.46,646.77 L100.29,645.92 L102.28,646.03 L104.76,645.98 L106.23,647.95 Z" fill="#a8a0c8" stroke="none" stroke-width="0.8"/>
<path d="M104.64,649.50 L104.69,651.52 L103.00,652.63 L101.37,653.32 L99.47,654.01 L97.78,652.91 L96.72,651.32 L96.14,649.50 L96.44,647.54 L97.72,646.02 L99.65,645.78 L101.40,645.58 L102.96,646.42 L104.73,647.46 Z" fill="#8e3ca0" stroke="none" stroke-width="0.8"/>
<path d="M101.74,649.27 L100.95,650.20 L100.03,650.95 L99.00,650.30 L98.62,649.27 L98.76,648.01 L100.03,647.56 L101.14,648.16 Z" fill="#6a2688" stroke="none" stroke-width="0.8" opacity="0.55"/>
<path d="M102.55,649.68 L101.60,650.88 L100.39,651.91 L99.06,651.01 L98.50,649.68 L99.26,648.55 L100.39,647.70 L101.60,648.46 Z" fill="#6a2688" stroke="none" stroke-width="0.8" opacity="0.55"/>
<path d="M102.51,649.64 L101.77,650.85 L100.55,651.46 L99.25,650.94 L98.53,649.64 L99.16,648.25 L100.55,647.40 L101.88,648.31 Z" fill="#6a2688" stroke="none" stroke-width="0.8" opacity="0.55"/>
<path d="M100.81,651.00 L100.63,651.68 L99.95,651.82 L99.39,651.56 L99.09,651.00 L99.35,650.41 L99.95,650.14 L100.61,650.34 Z" fill="#b070c8" stroke="none" stroke-width="0.8" opacity="0.5"/>
<path d="M147.60,651.88 L147.02,654.58 L145.41,656.87 L142.91,658.38 L140.05,657.92 L137.92,656.28 L135.59,654.69 L135.23,651.88 L135.52,649.04 L138.09,647.71 L140.16,646.33 L142.65,646.54 L145.19,647.17 L147.42,649.00 Z" fill="#a8a0c8" stroke="none" stroke-width="0.8"/>
<path d="M147.06,653.00 L146.25,655.34 L144.76,657.21 L142.41,657.45 L140.24,658.10 L137.83,657.47 L136.32,655.45 L135.82,653.00 L136.76,650.77 L138.09,648.85 L140.19,647.71 L142.48,648.27 L144.29,649.37 L146.22,650.68 Z" fill="#8e3ca0" stroke="none" stroke-width="0.8"/>
<path d="M143.11,655.06 L142.20,656.51 L140.74,657.22 L139.00,656.80 L138.41,655.06 L139.41,653.72 L140.74,652.66 L142.62,653.18 Z" fill="#6a2688" stroke="none" stroke-width="0.8" opacity="0.55"/>
<path d="M143.33,652.11 L143.11,653.48 L141.74,654.02 L140.53,653.31 L139.77,652.11 L140.26,650.63 L141.74,650.19 L143.06,650.78 Z" fill="#6a2688" stroke="none" stroke-width="0.8" opacity="0.55"/>
<path d="M145.45,653.69 L144.63,654.90 L143.41,655.69 L142.00,655.10 L141.24,653.69 L141.68,651.96 L143.41,651.52 L145.02,652.09 Z" fill="#6a2688" stroke="none" stroke-width="0.8" opacity="0.55"/>
<path d="M144.11,652.13 L143.82,652.84 L143.11,653.16 L142.28,652.96 L142.11,652.13 L142.33,651.35 L143.11,650.95 L143.92,651.32 Z" fill="#b070c8" stroke="none" stroke-width="0.8" opacity="0.5"/>
<path d="M160.73,660.49 L159.72,663.50 L157.61,665.68 L154.98,667.10 L152.19,666.08 L149.06,666.01 L148.11,663.07 L146.92,660.49 L147.46,657.60 L149.00,654.88 L152.08,654.41 L155.05,653.56 L157.96,654.85 L159.72,657.48 Z" fill="#a8a0c8" stroke="none" stroke-width="0.8"/>
<path d="M159.69,660.60 L159.43,663.26 L157.50,665.11 L155.13,665.97 L152.69,665.92 L150.63,664.70 L148.93,662.99 L148.63,660.60 L149.65,658.55 L150.92,656.87 L152.82,655.86 L154.96,655.96 L156.84,656.92 L159.23,658.03 Z" fill="#8e3ca0" stroke="none" stroke-width="0.8"/>
<path d="M155.72,660.03 L155.51,661.25 L154.28,661.66 L153.35,660.96 L152.51,660.03 L153.32,659.06 L154.28,658.45 L155.49,658.81 Z" fill="#6a2688" stroke="none" stroke-width="0.8" opacity="0.55"/>
<path d="M156.52,659.50 L156.17,661.11 L154.56,661.69 L152.81,661.25 L152.64,659.50 L153.13,658.07 L154.56,657.19 L156.21,657.85 Z" fill="#6a2688" stroke="none" stroke-width="0.8" opacity="0.55"/>
<path d="M155.67,661.38 L155.11,662.47 L154.02,663.01 L152.89,662.52 L152.28,661.38 L152.67,660.02 L154.02,659.79 L155.14,660.27 Z" fill="#6a2688" stroke="none" stroke-width="0.8" opacity="0.55"/>
<path d="M153.58,659.14 L153.16,659.88 L152.42,660.37 L151.68,659.88 L151.20,659.14 L151.66,658.37 L152.42,657.89 L153.14,658.42 Z" fill="#b070c8" stroke="none" stroke-width="0.8" opacity="0.5"/>
<path d="M131.67,671.97 L130.09,674.18 L128.89,676.23 L126.87,678.03 L124.26,677.35 L121.63,676.80 L120.82,674.22 L119.08,671.97 L120.43,669.53 L121.68,667.19 L124.09,665.82 L126.80,666.25 L128.76,667.86 L130.54,669.54 Z" fill="#a8a0c8" stroke="none" stroke-width="0.8"/>
<path d="M129.33,671.70 L128.81,673.63 L127.81,675.47 L125.79,676.06 L123.59,676.99 L121.53,675.80 L120.47,673.78 L119.60,671.70 L120.02,669.40 L121.41,667.44 L123.77,667.19 L125.91,666.85 L127.62,668.16 L129.39,669.49 Z" fill="#8e3ca0" stroke="none" stroke-width="0.8"/>
<path d="M126.85,669.94 L126.60,671.58 L124.96,672.28 L123.31,671.59 L122.96,669.94 L123.64,668.62 L124.96,667.83 L126.50,668.40 Z" fill="#6a2688" stroke="none" stroke-width="0.8" opacity="0.55"/>
<path d="M125.59,672.20 L124.86,673.21 L123.84,674.23 L122.37,673.67 L122.07,672.20 L122.62,670.98 L123.84,670.58 L125.23,670.81 Z" fill="#6a2688" stroke="none" stroke-width="0.8" opacity="0.55"/>
<path d="M126.99,671.99 L126.01,672.98 L125.03,673.91 L123.95,673.06 L123.34,671.99 L123.61,670.57 L125.03,670.53 L126.41,670.61 Z" fill="#6a2688" stroke="none" stroke-width="0.8" opacity="0.55"/>
<path d="M126.07,673.52 L125.75,674.24 L125.04,674.64 L124.32,674.24 L124.08,673.52 L124.34,672.83 L125.04,672.51 L125.72,672.85 Z" fill="#b070c8" stroke="none" stroke-width="0.8" opacity="0.5"/>
<path d="M139.37,667.47 L139.63,670.17 L137.91,672.32 L135.33,673.13 L132.67,673.50 L130.63,671.75 L128.40,670.19 L128.43,667.47 L128.36,664.74 L130.37,662.88 L132.63,661.30 L135.18,662.48 L137.91,662.62 L139.64,664.78 Z" fill="#a8a0c8" stroke="none" stroke-width="0.8"/>
<path d="M139.28,668.20 L137.97,670.21 L136.80,671.96 L134.77,672.46 L132.80,672.60 L130.63,672.18 L129.52,670.26 L129.59,668.20 L129.90,666.32 L130.38,663.91 L132.80,663.83 L134.86,663.56 L136.62,664.66 L138.19,666.08 Z" fill="#8e3ca0" stroke="none" stroke-width="0.8"/>
<path d="M135.83,666.81 L134.77,668.18 L133.40,669.05 L131.94,668.27 L130.91,666.81 L131.82,665.23 L133.40,664.12 L134.98,665.23 Z" fill="#6a2688" stroke="none" stroke-width="0.8" opacity="0.55"/>
<path d="M134.15,668.46 L134.13,669.81 L132.79,670.33 L131.69,669.56 L131.16,668.46 L131.52,667.19 L132.79,667.12 L133.81,667.45 Z" fill="#6a2688" stroke="none" stroke-width="0.8" opacity="0.55"/>
<path d="M137.14,669.41 L136.40,670.58 L135.24,671.49 L133.75,670.90 L133.09,669.41 L133.74,667.91 L135.24,667.38 L136.87,667.78 Z" fill="#6a2688" stroke="none" stroke-width="0.8" opacity="0.55"/>
<path d="M135.96,666.73 L135.60,667.42 L134.91,667.66 L134.17,667.47 L133.94,666.73 L134.28,666.10 L134.91,665.81 L135.57,666.07 Z" fill="#b070c8" stroke="none" stroke-width="0.8" opacity="0.5"/>
<path d="M135.64,679.08 L135.77,681.73 L134.36,684.21 L131.68,685.25 L128.80,685.55 L126.18,684.21 L125.07,681.59 L124.10,679.08 L124.37,676.24 L126.44,674.28 L128.97,673.37 L131.59,673.30 L134.08,674.30 L135.87,676.39 Z" fill="#a8a0c8" stroke="none" stroke-width="0.8"/>
<path d="M135.32,679.30 L134.39,681.61 L132.95,683.50 L130.74,684.30 L128.43,684.44 L126.77,682.84 L125.11,681.46 L124.03,679.30 L124.54,676.86 L126.74,675.72 L128.48,674.38 L130.71,674.42 L132.48,675.69 L134.01,677.18 Z" fill="#8e3ca0" stroke="none" stroke-width="0.8"/>
<path d="M132.24,679.91 L132.09,681.08 L130.93,681.34 L129.75,681.09 L129.20,679.91 L130.08,679.07 L130.93,678.17 L131.97,678.87 Z" fill="#6a2688" stroke="none" stroke-width="0.8" opacity="0.55"/>
<path d="M132.65,678.13 L132.50,679.75 L130.88,680.30 L129.61,679.40 L129.11,678.13 L129.30,676.55 L130.88,676.20 L132.43,676.58 Z" fill="#6a2688" stroke="none" stroke-width="0.8" opacity="0.55"/>
<path d="M130.85,678.77 L130.51,680.13 L129.15,680.40 L127.96,679.96 L127.42,678.77 L127.95,677.57 L129.15,676.95 L130.10,677.82 Z" fill="#6a2688" stroke="none" stroke-width="0.8" opacity="0.55"/>
<path d="M128.82,678.53 L128.62,679.31 L127.84,679.66 L127.12,679.25 L126.79,678.53 L127.10,677.80 L127.84,677.59 L128.62,677.75 Z" fill="#b070c8" stroke="none" stroke-width="0.8" opacity="0.5"/>
<path d="M122.75,687.72 L122.07,690.18 L121.14,692.95 L118.38,693.96 L115.68,693.34 L113.61,691.91 L111.76,690.22 L111.05,687.72 L111.13,684.91 L112.77,682.47 L115.76,682.44 L118.25,682.07 L120.60,683.15 L122.30,685.15 Z" fill="#a8a0c8" stroke="none" stroke-width="0.8"/>
<path d="M120.21,687.00 L119.71,688.88 L119.21,691.28 L116.97,692.11 L114.64,692.09 L112.77,690.80 L111.24,689.20 L110.87,687.00 L110.86,684.62 L112.67,683.08 L114.53,681.42 L116.83,682.50 L118.97,683.03 L120.48,684.75 Z" fill="#8e3ca0" stroke="none" stroke-width="0.8"/>
<path d="M117.04,686.03 L116.99,687.56 L115.46,687.81 L114.41,687.07 L113.66,686.03 L114.05,684.62 L115.46,684.05 L116.93,684.56 Z" fill="#6a2688" stroke="none" stroke-width="0.8" opacity="0.55"/>
<path d="M119.72,686.70 L119.71,688.60 L117.81,689.19 L116.45,688.06 L115.77,686.70 L116.34,685.24 L117.81,684.61 L119.66,684.85 Z" fill="#6a2688" stroke="none" stroke-width="0.8" opacity="0.55"/>
<path d="M119.05,686.50 L118.59,687.61 L117.48,688.10 L116.54,687.45 L116.15,686.50 L116.59,685.61 L117.48,684.95 L118.72,685.26 Z" fill="#6a2688" stroke="none" stroke-width="0.8" opacity="0.55"/>
<path d="M118.07,685.48 L117.68,686.19 L116.98,686.49 L116.15,686.31 L115.90,685.48 L116.16,684.66 L116.98,684.46 L117.76,684.70 Z" fill="#b070c8" stroke="none" stroke-width="0.8" opacity="0.5"/>
<path d="M107.69,690.93 L107.40,693.42 L105.67,695.26 L103.50,696.54 L100.85,696.92 L99.04,694.91 L96.96,693.46 L97.24,690.93 L97.01,688.42 L98.51,686.28 L101.08,685.95 L103.56,685.04 L105.80,686.44 L107.32,688.47 Z" fill="#a8a0c8" stroke="none" stroke-width="0.8"/>
<path d="M107.71,691.80 L107.36,693.75 L106.09,695.30 L104.35,696.40 L102.15,696.83 L100.81,694.93 L99.46,693.65 L98.07,691.80 L99.29,689.87 L100.25,687.97 L102.28,687.34 L104.33,687.30 L105.80,688.67 L107.15,689.94 Z" fill="#8e3ca0" stroke="none" stroke-width="0.8"/>
<path d="M103.67,693.08 L103.15,694.32 L101.91,694.75 L100.77,694.22 L100.10,693.08 L100.93,692.10 L101.91,691.31 L103.13,691.86 Z" fill="#6a2688" stroke="none" stroke-width="0.8" opacity="0.55"/>
<path d="M105.98,693.34 L105.37,694.41 L104.30,695.07 L103.35,694.29 L102.81,693.34 L103.13,692.17 L104.30,692.10 L105.23,692.41 Z" fill="#6a2688" stroke="none" stroke-width="0.8" opacity="0.55"/>
<path d="M104.73,692.97 L104.15,694.12 L103.00,695.02 L101.67,694.30 L101.07,692.97 L101.48,691.45 L103.00,691.34 L104.08,691.89 Z" fill="#6a2688" stroke="none" stroke-width="0.8" opacity="0.55"/>
<path d="M105.90,692.48 L105.64,693.20 L104.92,693.52 L104.28,693.13 L104.00,692.48 L104.22,691.78 L104.92,691.63 L105.61,691.80 Z" fill="#b070c8" stroke="none" stroke-width="0.8" opacity="0.5"/>
<path d="M138.89,694.40 L138.11,696.53 L136.95,698.48 L134.76,699.09 L132.50,699.66 L130.51,698.39 L129.52,696.41 L128.95,694.40 L129.22,692.25 L130.87,690.86 L132.59,689.55 L134.73,689.89 L136.77,690.54 L138.06,692.30 Z" fill="#a8a0c8" stroke="none" stroke-width="0.8"/>
<path d="M138.27,695.20 L137.90,697.17 L136.78,698.93 L134.84,699.74 L132.91,699.11 L131.02,698.68 L130.50,696.79 L129.94,695.20 L129.60,693.18 L131.52,692.34 L132.80,690.80 L134.83,690.71 L136.26,692.11 L137.68,693.33 Z" fill="#8e3ca0" stroke="none" stroke-width="0.8"/>
<path d="M135.93,694.98 L135.50,696.41 L134.07,696.67 L132.95,696.10 L132.38,694.98 L132.64,693.55 L134.07,693.42 L135.39,693.66 Z" fill="#6a2688" stroke="none" stroke-width="0.8" opacity="0.55"/>
<path d="M135.05,695.76 L135.10,697.21 L133.65,697.62 L132.50,696.91 L131.84,695.76 L132.20,694.31 L133.65,693.87 L134.73,694.68 Z" fill="#6a2688" stroke="none" stroke-width="0.8" opacity="0.55"/>
<path d="M134.54,694.78 L133.68,695.77 L132.69,696.25 L131.62,695.85 L131.27,694.78 L131.71,693.80 L132.69,693.48 L133.84,693.63 Z" fill="#6a2688" stroke="none" stroke-width="0.8" opacity="0.55"/>
<path d="M135.38,696.59 L135.29,697.27 L134.60,697.49 L134.02,697.17 L133.62,696.59 L133.99,695.97 L134.60,695.71 L135.28,695.91 Z" fill="#b070c8" stroke="none" stroke-width="0.8" opacity="0.5"/>
<path d="M100.53,670.43 L99.81,671.69 L99.06,672.78 L97.97,673.87 L96.49,673.51 L95.22,672.90 L94.21,671.86 L94.15,670.43 L94.27,669.02 L95.17,667.89 L96.40,666.96 L97.90,667.30 L99.40,667.66 L100.04,669.05 Z" fill="#a8a0c8" stroke="none" stroke-width="0.8"/>
<path d="M100.17,670.30 L100.14,671.43 L99.40,672.31 L98.35,672.71 L97.12,673.29 L96.05,672.50 L95.50,671.41 L95.18,670.30 L95.49,669.19 L96.28,668.39 L97.12,667.33 L98.46,667.39 L99.46,668.22 L100.26,669.12 Z" fill="#8e3ca0" stroke="none" stroke-width="0.8"/>
<path d="M98.85,670.18 L98.33,670.83 L97.67,671.11 L96.85,670.99 L96.76,670.18 L96.98,669.49 L97.67,669.16 L98.56,669.28 Z" fill="#6a2688" stroke="none" stroke-width="0.8" opacity="0.55"/>
<path d="M98.72,670.29 L98.42,671.04 L97.66,671.34 L96.76,671.19 L96.71,670.29 L96.91,669.54 L97.66,669.20 L98.29,669.66 Z" fill="#6a2688" stroke="none" stroke-width="0.8" opacity="0.55"/>
<path d="M98.95,670.39 L98.85,671.44 L97.80,671.58 L97.02,671.17 L96.31,670.39 L96.97,669.57 L97.80,669.33 L98.74,669.45 Z" fill="#6a2688" stroke="none" stroke-width="0.8" opacity="0.55"/>
<path d="M97.76,669.42 L97.66,669.84 L97.24,670.01 L96.81,669.85 L96.72,669.42 L96.82,669.01 L97.24,668.89 L97.61,669.05 Z" fill="#b070c8" stroke="none" stroke-width="0.8" opacity="0.5"/>
</g>
<text x="163.2" y="693.8" font-size="4.8" text-anchor="end" textLength="12.2" lengthAdjust="spacingAndGlyphs" fill="#333">10μm</text>
<rect x="155.40" y="695.20" width="8.20" height="1.20" fill="#000"/>
</g>
<rect x="96.4" y="646.0" width="68" height="51" fill="none" stroke="#3a3a3a" stroke-width="1.2"/>
<text x="191.0" y="591.4" font-size="11.6" font-weight="bold" fill="#111">I</text>
<text x="218.0" y="607.0" font-size="6.8" text-anchor="middle" textLength="21.0" lengthAdjust="spacingAndGlyphs" fill="#333">Dox (–)</text>
<text x="262.0" y="607.0" font-size="6.8" text-anchor="middle" textLength="21.0" lengthAdjust="spacingAndGlyphs" fill="#333">Dox (+)</text>
<clipPath id="tc197"><rect x="197.1" y="611.8" width="41.3" height="35.2"/></clipPath>
<g clip-path="url(#tc197)">
<rect x="197.1" y="611.8" width="41.3" height="35.2" fill="url(#tube)"/>
<g filter="url(#blur4)">
<rect x="215.685" y="609.8" width="24.779999999999998" height="12" fill="#a4b4ba" opacity="0.9"/>
<rect x="199.1" y="609.8" width="4" height="35.2" fill="#cdd5d5" opacity="0.8"/>
<rect x="230.39999999999998" y="615.8" width="4" height="25.200000000000003" fill="#c8d0d0" opacity="0.8"/>
<rect x="209.1" y="609.8" width="5" height="11" fill="#e8eeee" opacity="0.9"/>
<path d="M200.1,635.8 Q217.75,649.8 235.39999999999998,635.8" stroke="#ccd4d4" stroke-width="2.5" fill="none" opacity="0.9"/>
<ellipse cx="218.2" cy="632.1" rx="10.2" ry="9.7" fill="#c8ccc4"/>
<ellipse cx="218.2" cy="632.1" rx="9.0" ry="8.5" fill="#cfcfc2"/>
</g></g>
<rect x="197.10" y="649.60" width="41.30" height="35.60" fill="#c0b79b"/>
<clipPath id="tc241"><rect x="241.4" y="611.8" width="41.3" height="35.2"/></clipPath>
<g clip-path="url(#tc241)">
<rect x="241.4" y="611.8" width="41.3" height="35.2" fill="url(#tube)"/>
<g filter="url(#blur4)">
<rect x="259.985" y="609.8" width="24.779999999999998" height="12" fill="#a4b4ba" opacity="0.9"/>
<rect x="243.4" y="609.8" width="4" height="35.2" fill="#cdd5d5" opacity="0.8"/>
<rect x="274.7" y="615.8" width="4" height="25.200000000000003" fill="#c8d0d0" opacity="0.8"/>
<rect x="253.4" y="609.8" width="5" height="11" fill="#e8eeee" opacity="0.9"/>
<path d="M244.4,635.8 Q262.05,649.8 279.7,635.8" stroke="#ccd4d4" stroke-width="2.5" fill="none" opacity="0.9"/>
<ellipse cx="262.6" cy="632.1" rx="11.7" ry="10.2" fill="#d2cab6"/>
<ellipse cx="262.6" cy="632.1" rx="10.5" ry="9.0" fill="#c6b69c"/>
</g></g>
<rect x="241.40" y="649.60" width="41.30" height="35.60" fill="#c0b79b"/>
<circle cx="222.7" cy="674.9" r="1.02" fill="#9a9078" filter="url(#blur1)"/>
<circle cx="234.2" cy="674.8" r="1.07" fill="#9a9078" filter="url(#blur1)"/>
<circle cx="201.3" cy="666.6" r="1.08" fill="#9a9078" filter="url(#blur1)"/>
<circle cx="223.7" cy="679.6" r="0.75" fill="#9a9078" filter="url(#blur1)"/>
<circle cx="217.2" cy="660.0" r="0.92" fill="#9a9078" filter="url(#blur1)"/>
<circle cx="221.0" cy="653.0" r="0.79" fill="#9a9078" filter="url(#blur1)"/>
<circle cx="210.4" cy="680.1" r="1.01" fill="#9a9078" filter="url(#blur1)"/>
<circle cx="206.0" cy="676.5" r="0.76" fill="#9a9078" filter="url(#blur1)"/>
<circle cx="222.5" cy="656.4" r="0.70" fill="#9a9078" filter="url(#blur1)"/>
<circle cx="231.7" cy="658.9" r="0.79" fill="#9a9078" filter="url(#blur1)"/>
<circle cx="235.7" cy="678.8" r="0.82" fill="#9a9078" filter="url(#blur1)"/>
<circle cx="278.8" cy="668.8" r="0.97" fill="#9a9078" filter="url(#blur1)"/>
<circle cx="251.6" cy="680.8" r="0.98" fill="#9a9078" filter="url(#blur1)"/>
<circle cx="279.0" cy="679.4" r="0.82" fill="#9a9078" filter="url(#blur1)"/>
<circle cx="257.2" cy="657.6" r="0.76" fill="#9a9078" filter="url(#blur1)"/>
<circle cx="246.5" cy="661.6" r="0.94" fill="#9a9078" filter="url(#blur1)"/>
<circle cx="244.3" cy="672.9" r="0.84" fill="#9a9078" filter="url(#blur1)"/>
<circle cx="255.4" cy="677.2" r="0.89" fill="#9a9078" filter="url(#blur1)"/>
<circle cx="255.6" cy="667.0" r="0.98" fill="#9a9078" filter="url(#blur1)"/>
<circle cx="246.3" cy="681.9" r="0.71" fill="#9a9078" filter="url(#blur1)"/>
<circle cx="271.2" cy="677.9" r="0.71" fill="#9a9078" filter="url(#blur1)"/>
<circle cx="272.6" cy="663.6" r="0.93" fill="#9a9078" filter="url(#blur1)"/>
<circle cx="265" cy="653.3" r="1.1" fill="#1a1408"/>
<circle cx="258.7" cy="669.4" r="1.1" fill="#1a1408"/>
<circle cx="262.1" cy="670.6" r="1.1" fill="#1a1408"/>
<circle cx="281.8" cy="665.1" r="1.1" fill="#1a1408"/>
<text x="286.3" y="669.1" font-size="6.6" textLength="28.5" lengthAdjust="spacingAndGlyphs" fill="#333">Benzidine</text>
<text x="286.3" y="677.3" font-size="6.6" textLength="14.5" lengthAdjust="spacingAndGlyphs" fill="#333">stain</text>
<text x="327.6" y="431.2" font-size="11.6" font-weight="bold" fill="#111">J</text>
<polygon points="355.8,446.3 398.8,434.2 398.8,446.3" fill="#111"/>
<text x="385.2" y="445.0" font-size="7.2" textLength="12.0" lengthAdjust="spacingAndGlyphs" fill="#fff">MO</text>
<rect x="356.90" y="463.90" width="6.60" height="25.85" fill="#f2b70a"/>
<rect x="356.90" y="489.75" width="6.60" height="8.15" fill="#c6c2cf"/>
<rect x="356.90" y="497.91" width="6.60" height="0.42" fill="#8474bc"/>
<rect x="356.90" y="498.32" width="6.60" height="0.28" fill="#3e4660"/>
<rect x="374.30" y="463.90" width="6.50" height="9.72" fill="#f2b70a"/>
<rect x="374.30" y="473.62" width="6.50" height="17.35" fill="#c6c2cf"/>
<rect x="374.30" y="490.97" width="6.50" height="5.21" fill="#8474bc"/>
<rect x="374.30" y="496.17" width="6.50" height="2.43" fill="#3e4660"/>
<rect x="391.50" y="463.90" width="6.70" height="4.16" fill="#f2b70a"/>
<rect x="391.50" y="468.06" width="6.70" height="0.87" fill="#c6c2cf"/>
<rect x="391.50" y="468.93" width="6.70" height="5.90" fill="#8474bc"/>
<rect x="391.50" y="474.83" width="6.70" height="23.77" fill="#3e4660"/>
<line x1="363.50" y1="489.60" x2="374.30" y2="473.50" stroke="#222" stroke-width="0.6"/>
<line x1="380.80" y1="473.50" x2="391.50" y2="468.00" stroke="#222" stroke-width="0.6"/>
<line x1="363.50" y1="497.50" x2="374.30" y2="490.70" stroke="#222" stroke-width="0.6"/>
<line x1="380.80" y1="490.70" x2="391.50" y2="468.80" stroke="#222" stroke-width="0.6"/>
<line x1="363.50" y1="498.20" x2="374.30" y2="495.90" stroke="#222" stroke-width="0.6"/>
<line x1="380.80" y1="495.90" x2="391.50" y2="474.60" stroke="#222" stroke-width="0.6"/>
<line x1="353.80" y1="461.90" x2="353.80" y2="498.60" stroke="#111" stroke-width="1"/>
<line x1="351.50" y1="498.60" x2="400.80" y2="498.60" stroke="#111" stroke-width="1"/>
<line x1="351.50" y1="463.90" x2="353.80" y2="463.90" stroke="#111" stroke-width="0.8"/>
<text x="347.2" y="466.2" font-size="7.17" text-anchor="end" textLength="10.7" lengthAdjust="spacingAndGlyphs" fill="#333">100</text>
<line x1="351.50" y1="481.25" x2="353.80" y2="481.25" stroke="#111" stroke-width="0.8"/>
<text x="347.2" y="483.6" font-size="7.17" text-anchor="end" textLength="7.1" lengthAdjust="spacingAndGlyphs" fill="#333">50</text>
<line x1="351.50" y1="498.60" x2="353.80" y2="498.60" stroke="#111" stroke-width="0.8"/>
<text x="347.2" y="500.9" font-size="6.4" text-anchor="end" fill="#333">0</text>
<text x="344.2" y="458.6" font-size="6.8" text-anchor="middle" fill="#333">%</text>
<text x="360.2" y="458.6" font-size="7.62" text-anchor="middle" textLength="7.6" lengthAdjust="spacingAndGlyphs" fill="#333">24</text>
<text x="377.3" y="458.6" font-size="7.62" text-anchor="middle" textLength="7.6" lengthAdjust="spacingAndGlyphs" fill="#333">52</text>
<text x="394.6" y="458.6" font-size="7.62" text-anchor="middle" textLength="7.6" lengthAdjust="spacingAndGlyphs" fill="#333">48</text>
<text x="377.7" y="507.2" font-size="7.62" text-anchor="middle" textLength="14.7" lengthAdjust="spacingAndGlyphs" fill="#333">irx1a</text>
<rect x="356.90" y="525.50" width="6.60" height="17.89" fill="#f2b70a"/>
<rect x="356.90" y="543.39" width="6.60" height="16.51" fill="#c6c2cf"/>
<rect x="374.30" y="525.50" width="6.50" height="13.07" fill="#c6c2cf"/>
<rect x="374.30" y="538.57" width="6.50" height="17.20" fill="#8474bc"/>
<rect x="374.30" y="555.77" width="6.50" height="4.13" fill="#3e4660"/>
<rect x="391.50" y="525.50" width="6.70" height="4.47" fill="#c6c2cf"/>
<rect x="391.50" y="529.97" width="6.70" height="15.82" fill="#8474bc"/>
<rect x="391.50" y="545.80" width="6.70" height="14.10" fill="#3e4660"/>
<line x1="363.50" y1="543.50" x2="374.30" y2="525.50" stroke="#222" stroke-width="0.6"/>
<line x1="363.50" y1="559.90" x2="374.30" y2="538.80" stroke="#222" stroke-width="0.6"/>
<line x1="363.50" y1="559.90" x2="374.30" y2="555.80" stroke="#222" stroke-width="0.6"/>
<line x1="380.80" y1="538.80" x2="391.50" y2="530.10" stroke="#222" stroke-width="0.6"/>
<line x1="380.80" y1="555.80" x2="391.50" y2="545.80" stroke="#222" stroke-width="0.6"/>
<line x1="353.80" y1="523.50" x2="353.80" y2="559.90" stroke="#111" stroke-width="1"/>
<line x1="351.50" y1="559.90" x2="400.80" y2="559.90" stroke="#111" stroke-width="1"/>
<line x1="351.50" y1="525.50" x2="353.80" y2="525.50" stroke="#111" stroke-width="0.8"/>
<text x="347.2" y="527.8" font-size="7.17" text-anchor="end" textLength="10.7" lengthAdjust="spacingAndGlyphs" fill="#333">100</text>
<line x1="351.50" y1="542.70" x2="353.80" y2="542.70" stroke="#111" stroke-width="0.8"/>
<text x="347.2" y="545.0" font-size="7.17" text-anchor="end" textLength="7.1" lengthAdjust="spacingAndGlyphs" fill="#333">50</text>
<line x1="351.50" y1="559.90" x2="353.80" y2="559.90" stroke="#111" stroke-width="0.8"/>
<text x="347.2" y="562.2" font-size="6.4" text-anchor="end" fill="#333">0</text>
<text x="344.2" y="520.2" font-size="6.8" text-anchor="middle" fill="#333">%</text>
<text x="360.2" y="520.2" font-size="7.62" text-anchor="middle" textLength="7.6" lengthAdjust="spacingAndGlyphs" fill="#333">50</text>
<text x="377.3" y="520.2" font-size="7.62" text-anchor="middle" textLength="7.6" lengthAdjust="spacingAndGlyphs" fill="#333">56</text>
<text x="394.6" y="520.2" font-size="7.62" text-anchor="middle" textLength="7.6" lengthAdjust="spacingAndGlyphs" fill="#333">22</text>
<text x="377.7" y="568.6" font-size="7.62" text-anchor="middle" textLength="14.7" lengthAdjust="spacingAndGlyphs" fill="#333">irx1b</text>
<rect x="356.90" y="586.50" width="6.60" height="4.86" fill="#f2b70a"/>
<rect x="356.90" y="591.36" width="6.60" height="20.47" fill="#c6c2cf"/>
<rect x="356.90" y="611.83" width="6.60" height="5.21" fill="#8474bc"/>
<rect x="356.90" y="617.04" width="6.60" height="4.16" fill="#3e4660"/>
<rect x="374.30" y="586.50" width="6.50" height="5.73" fill="#f2b70a"/>
<rect x="374.30" y="592.23" width="6.50" height="5.90" fill="#c6c2cf"/>
<rect x="374.30" y="598.12" width="6.50" height="10.41" fill="#8474bc"/>
<rect x="374.30" y="608.53" width="6.50" height="12.67" fill="#3e4660"/>
<rect x="391.50" y="586.50" width="6.70" height="2.26" fill="#c6c2cf"/>
<rect x="391.50" y="588.76" width="6.70" height="10.76" fill="#8474bc"/>
<rect x="391.50" y="599.51" width="6.70" height="21.69" fill="#3e4660"/>
<line x1="363.50" y1="591.20" x2="374.30" y2="592.20" stroke="#222" stroke-width="0.6"/>
<line x1="380.80" y1="592.20" x2="391.50" y2="586.50" stroke="#222" stroke-width="0.6"/>
<line x1="363.50" y1="611.60" x2="374.30" y2="598.10" stroke="#222" stroke-width="0.6"/>
<line x1="380.80" y1="598.10" x2="391.50" y2="588.80" stroke="#222" stroke-width="0.6"/>
<line x1="363.50" y1="616.80" x2="374.30" y2="608.50" stroke="#222" stroke-width="0.6"/>
<line x1="380.80" y1="608.50" x2="391.50" y2="599.60" stroke="#222" stroke-width="0.6"/>
<line x1="353.80" y1="584.50" x2="353.80" y2="621.20" stroke="#111" stroke-width="1"/>
<line x1="351.50" y1="621.20" x2="400.80" y2="621.20" stroke="#111" stroke-width="1"/>
<line x1="351.50" y1="586.50" x2="353.80" y2="586.50" stroke="#111" stroke-width="0.8"/>
<text x="347.2" y="588.8" font-size="7.17" text-anchor="end" textLength="10.7" lengthAdjust="spacingAndGlyphs" fill="#333">100</text>
<line x1="351.50" y1="603.85" x2="353.80" y2="603.85" stroke="#111" stroke-width="0.8"/>
<text x="347.2" y="606.1" font-size="7.17" text-anchor="end" textLength="7.1" lengthAdjust="spacingAndGlyphs" fill="#333">50</text>
<line x1="351.50" y1="621.20" x2="353.80" y2="621.20" stroke="#111" stroke-width="0.8"/>
<text x="347.2" y="623.5" font-size="6.4" text-anchor="end" fill="#333">0</text>
<text x="344.2" y="581.2" font-size="6.8" text-anchor="middle" fill="#333">%</text>
<text x="360.2" y="581.2" font-size="7.62" text-anchor="middle" textLength="7.6" lengthAdjust="spacingAndGlyphs" fill="#333">48</text>
<text x="377.3" y="581.2" font-size="7.62" text-anchor="middle" textLength="7.6" lengthAdjust="spacingAndGlyphs" fill="#333">33</text>
<text x="394.6" y="581.2" font-size="7.62" text-anchor="middle" textLength="7.6" lengthAdjust="spacingAndGlyphs" fill="#333">19</text>
<text x="377.7" y="630.2" font-size="7.62" text-anchor="middle" textLength="37.2" lengthAdjust="spacingAndGlyphs" fill="#333">irx1a + irx1b</text>
<rect x="358.80" y="645.00" width="4.60" height="4.60" fill="#e2bc22"/>
<text x="366.5" y="649.7" font-size="6.8" textLength="21.5" lengthAdjust="spacingAndGlyphs" fill="#333">WT like</text>
<rect x="358.80" y="652.70" width="4.60" height="4.60" fill="#cdc9d8"/>
<text x="366.5" y="657.4" font-size="6.8" textLength="12.0" lengthAdjust="spacingAndGlyphs" fill="#333">Mild</text>
<rect x="358.80" y="660.90" width="4.60" height="4.60" fill="#8474bc"/>
<text x="366.5" y="665.6" font-size="6.8" textLength="28.9" lengthAdjust="spacingAndGlyphs" fill="#333">Moderate</text>
<rect x="358.80" y="668.90" width="4.60" height="4.60" fill="#3a3e4c"/>
<text x="366.5" y="673.6" font-size="6.8" textLength="19.5" lengthAdjust="spacingAndGlyphs" fill="#333">Severe</text>
<text x="423.5" y="460.4" font-size="9.4" textLength="46.0" lengthAdjust="spacingAndGlyphs" fill="#222">Stained cells</text>
<rect x="431.2" y="462.2" width="31.3" height="22.6" fill="#efe6cc"/>
<g filter="url(#blur1)">
<ellipse cx="439.3" cy="475" rx="6.5" ry="8" fill="#d9a838"/>
<ellipse cx="455" cy="475" rx="6.5" ry="8" fill="#d9a838"/>
<ellipse cx="437" cy="477" rx="3" ry="3.5" fill="#e8c868"/>
<ellipse cx="453" cy="477" rx="3" ry="3.5" fill="#e8c868"/>
<circle cx="435" cy="465" r="1.6" fill="#8a6a30"/><circle cx="442" cy="464.5" r="1.6" fill="#8a6a30"/>
<circle cx="451" cy="465" r="1.6" fill="#8a6a30"/><circle cx="458" cy="464.5" r="1.6" fill="#8a6a30"/>
</g>
<path d="M441,471 L443.5,474" stroke="#3a2a10" stroke-width="0.9"/><path d="M456.5,471 L459,474" stroke="#3a2a10" stroke-width="0.9"/>
<rect x="431.2" y="462.2" width="31.3" height="22.6" fill="none" stroke="#3a3a3a" stroke-width="1.0"/>
<path d="M471.5,463.0 L480.9,480.7" stroke="#e6e5da" stroke-width="1.5" stroke-linecap="round"/>
<path d="M471.5,463.0 L477.1,473.6" stroke="#d6d4c4" stroke-width="0.5"/>
<ellipse cx="471.5" cy="463.0" rx="2.9" ry="2.7" fill="#b2b094"/>
<ellipse cx="472.1" cy="463.6" rx="1.4" ry="1.3" fill="#000" opacity="0.08"/>
<circle cx="470.1" cy="460.9" r="1.1" fill="#2a2a22"/>
<path d="M476.6,462.2 L484.1,482.9" stroke="#e6e5da" stroke-width="1.5" stroke-linecap="round"/>
<path d="M476.6,462.2 L481.1,474.6" stroke="#d6d4c4" stroke-width="0.5"/>
<ellipse cx="476.6" cy="462.2" rx="2.9" ry="2.7" fill="#b2b094"/>
<ellipse cx="477.2" cy="462.8" rx="1.4" ry="1.3" fill="#000" opacity="0.08"/>
<circle cx="475.2" cy="460.1" r="1.1" fill="#2a2a22"/>
<path d="M482.6,461.2 L493.1,482.8" stroke="#e6e5da" stroke-width="1.5" stroke-linecap="round"/>
<path d="M482.6,461.2 L488.9,474.1" stroke="#d6d4c4" stroke-width="0.5"/>
<ellipse cx="482.6" cy="461.2" rx="2.9" ry="2.7" fill="#b2b094"/>
<ellipse cx="483.2" cy="461.8" rx="1.4" ry="1.3" fill="#000" opacity="0.08"/>
<circle cx="481.2" cy="459.1" r="1.1" fill="#2a2a22"/>
<path d="M490.7,465.0 L498.1,487.8" stroke="#e6e5da" stroke-width="1.5" stroke-linecap="round"/>
<path d="M490.7,465.0 L495.1,478.7" stroke="#d6d4c4" stroke-width="0.5"/>
<ellipse cx="490.7" cy="465.0" rx="2.9" ry="2.7" fill="#b2b094"/>
<ellipse cx="491.3" cy="465.6" rx="1.4" ry="1.3" fill="#000" opacity="0.08"/>
<circle cx="489.3" cy="462.9" r="1.1" fill="#2a2a22"/>
<path d="M497.8,469.6 L501.3,489.3" stroke="#e6e5da" stroke-width="1.5" stroke-linecap="round"/>
<path d="M497.8,469.6 L499.9,481.4" stroke="#d6d4c4" stroke-width="0.5"/>
<ellipse cx="497.8" cy="469.6" rx="2.9" ry="2.7" fill="#b2b094"/>
<ellipse cx="498.4" cy="470.2" rx="1.4" ry="1.3" fill="#000" opacity="0.08"/>
<circle cx="496.4" cy="467.5" r="1.1" fill="#2a2a22"/>
<text x="469.5" y="496.6" font-size="7.6" text-anchor="middle" textLength="28.5" lengthAdjust="spacingAndGlyphs" fill="#333">Wild Type</text>
<rect x="423.00" y="507.50" width="88.00" height="57.00" fill="#f7f7f7" filter="url(#blur1)"/>
<path d="M427.1,525.0 L434.9,539.5" stroke="#e6e5da" stroke-width="2.0" stroke-linecap="round"/>
<path d="M427.1,525.0 L431.8,533.7" stroke="#d6d4c4" stroke-width="0.7"/>
<ellipse cx="427.1" cy="525.0" rx="3.7" ry="3.4" fill="#d6cd92"/>
<ellipse cx="427.7" cy="525.6" rx="1.8" ry="1.6" fill="#000" opacity="0.08"/>
<circle cx="425.4" cy="522.4" r="1.4" fill="#2a2a22"/>
<path d="M434.4,522.7 L441.3,538.5" stroke="#e6e5da" stroke-width="2.0" stroke-linecap="round"/>
<path d="M434.4,522.7 L438.6,532.2" stroke="#d6d4c4" stroke-width="0.7"/>
<ellipse cx="434.4" cy="522.7" rx="3.7" ry="3.4" fill="#cdc37e"/>
<ellipse cx="435.0" cy="523.3" rx="1.8" ry="1.6" fill="#000" opacity="0.08"/>
<circle cx="432.7" cy="520.1" r="1.4" fill="#2a2a22"/>
<path d="M440.2,519.2 L440.9,534.7" stroke="#e6e5da" stroke-width="2.0" stroke-linecap="round"/>
<path d="M440.2,519.2 L440.6,528.5" stroke="#d6d4c4" stroke-width="0.7"/>
<ellipse cx="440.2" cy="519.2" rx="3.7" ry="3.4" fill="#d6cd92"/>
<ellipse cx="440.8" cy="519.8" rx="1.8" ry="1.6" fill="#000" opacity="0.08"/>
<circle cx="438.5" cy="516.6" r="1.4" fill="#2a2a22"/>
<path d="M446.9,516.3 L451.0,532.7" stroke="#e6e5da" stroke-width="2.0" stroke-linecap="round"/>
<path d="M446.9,516.3 L449.3,526.2" stroke="#d6d4c4" stroke-width="0.7"/>
<ellipse cx="446.9" cy="516.3" rx="3.7" ry="3.4" fill="#d2c98a"/>
<ellipse cx="447.5" cy="516.9" rx="1.8" ry="1.6" fill="#000" opacity="0.08"/>
<circle cx="445.2" cy="513.7" r="1.4" fill="#2a2a22"/>
<path d="M454.6,517.3 L460.1,532.3" stroke="#e6e5da" stroke-width="2.0" stroke-linecap="round"/>
<path d="M454.6,517.3 L457.9,526.3" stroke="#d6d4c4" stroke-width="0.7"/>
<ellipse cx="454.6" cy="517.3" rx="3.7" ry="3.4" fill="#d2c98a"/>
<ellipse cx="455.2" cy="517.9" rx="1.8" ry="1.6" fill="#000" opacity="0.08"/>
<circle cx="452.9" cy="514.7" r="1.4" fill="#2a2a22"/>
<path d="M461.3,516.3 L469.5,530.9" stroke="#e6e5da" stroke-width="2.0" stroke-linecap="round"/>
<path d="M461.3,516.3 L466.2,525.1" stroke="#d6d4c4" stroke-width="0.7"/>
<ellipse cx="461.3" cy="516.3" rx="3.7" ry="3.4" fill="#d2c98a"/>
<ellipse cx="461.9" cy="516.9" rx="1.8" ry="1.6" fill="#000" opacity="0.08"/>
<circle cx="459.6" cy="513.7" r="1.4" fill="#2a2a22"/>
<path d="M469.0,519.2 L470.9,534.3" stroke="#e6e5da" stroke-width="2.0" stroke-linecap="round"/>
<path d="M469.0,519.2 L470.1,528.2" stroke="#d6d4c4" stroke-width="0.7"/>
<ellipse cx="469.0" cy="519.2" rx="3.7" ry="3.4" fill="#d6cd92"/>
<ellipse cx="469.6" cy="519.8" rx="1.8" ry="1.6" fill="#000" opacity="0.08"/>
<circle cx="467.3" cy="516.6" r="1.4" fill="#2a2a22"/>
<path d="M477.7,520.2 L478.8,535.2" stroke="#e6e5da" stroke-width="2.0" stroke-linecap="round"/>
<path d="M477.7,520.2 L478.4,529.2" stroke="#d6d4c4" stroke-width="0.7"/>
<ellipse cx="477.7" cy="520.2" rx="3.7" ry="3.4" fill="#cdc37e"/>
<ellipse cx="478.3" cy="520.8" rx="1.8" ry="1.6" fill="#000" opacity="0.08"/>
<circle cx="476.0" cy="517.6" r="1.4" fill="#2a2a22"/>
<path d="M486.3,522.1 L494.4,534.3" stroke="#e6e5da" stroke-width="2.0" stroke-linecap="round"/>
<path d="M486.3,522.1 L491.2,529.4" stroke="#d6d4c4" stroke-width="0.7"/>
<ellipse cx="486.3" cy="522.1" rx="3.7" ry="3.4" fill="#cdc37e"/>
<ellipse cx="486.9" cy="522.7" rx="1.8" ry="1.6" fill="#000" opacity="0.08"/>
<circle cx="484.6" cy="519.5" r="1.4" fill="#2a2a22"/>
<path d="M494.0,524.0 L496.0,540.1" stroke="#e6e5da" stroke-width="2.0" stroke-linecap="round"/>
<path d="M494.0,524.0 L495.2,533.7" stroke="#d6d4c4" stroke-width="0.7"/>
<ellipse cx="494.0" cy="524.0" rx="3.7" ry="3.4" fill="#cdc37e"/>
<ellipse cx="494.6" cy="524.6" rx="1.8" ry="1.6" fill="#000" opacity="0.08"/>
<circle cx="492.3" cy="521.4" r="1.4" fill="#2a2a22"/>
<path d="M502.7,528.8 L512.1,542.6" stroke="#e6e5da" stroke-width="2.0" stroke-linecap="round"/>
<path d="M502.7,528.8 L508.3,537.1" stroke="#d6d4c4" stroke-width="0.7"/>
<ellipse cx="502.7" cy="528.8" rx="3.7" ry="3.4" fill="#d2c98a"/>
<ellipse cx="503.3" cy="529.4" rx="1.8" ry="1.6" fill="#000" opacity="0.08"/>
<circle cx="501.0" cy="526.2" r="1.4" fill="#2a2a22"/>
<path d="M436.3,554.8 L445.1,570.1" stroke="#e6e5da" stroke-width="2.0" stroke-linecap="round"/>
<path d="M436.3,554.8 L441.6,564.0" stroke="#d6d4c4" stroke-width="0.7"/>
<ellipse cx="436.3" cy="554.8" rx="3.7" ry="3.4" fill="#cdc37e"/>
<ellipse cx="436.9" cy="555.4" rx="1.8" ry="1.6" fill="#000" opacity="0.08"/>
<circle cx="434.6" cy="552.2" r="1.4" fill="#2a2a22"/>
<path d="M432.5,543.3 L440.5,557.9" stroke="#e6e5da" stroke-width="2.0" stroke-linecap="round"/>
<path d="M432.5,543.3 L437.3,552.1" stroke="#d6d4c4" stroke-width="0.7"/>
<ellipse cx="432.5" cy="543.3" rx="3.7" ry="3.4" fill="#cdc37e"/>
<ellipse cx="433.1" cy="543.9" rx="1.8" ry="1.6" fill="#000" opacity="0.08"/>
<circle cx="430.8" cy="540.7" r="1.4" fill="#2a2a22"/>
<path d="M440.2,539.4 L444.0,552.8" stroke="#e6e5da" stroke-width="2.0" stroke-linecap="round"/>
<path d="M440.2,539.4 L442.5,547.5" stroke="#d6d4c4" stroke-width="0.7"/>
<ellipse cx="440.2" cy="539.4" rx="3.7" ry="3.4" fill="#d2c98a"/>
<ellipse cx="440.8" cy="540.0" rx="1.8" ry="1.6" fill="#000" opacity="0.08"/>
<circle cx="438.5" cy="536.8" r="1.4" fill="#2a2a22"/>
<path d="M448.8,539.4 L453.6,555.8" stroke="#e6e5da" stroke-width="2.0" stroke-linecap="round"/>
<path d="M448.8,539.4 L451.7,549.3" stroke="#d6d4c4" stroke-width="0.7"/>
<ellipse cx="448.8" cy="539.4" rx="3.7" ry="3.4" fill="#d2c98a"/>
<ellipse cx="449.4" cy="540.0" rx="1.8" ry="1.6" fill="#000" opacity="0.08"/>
<circle cx="447.1" cy="536.8" r="1.4" fill="#2a2a22"/>
<path d="M456.5,540.4 L457.4,554.4" stroke="#e6e5da" stroke-width="2.0" stroke-linecap="round"/>
<path d="M456.5,540.4 L457.1,548.8" stroke="#d6d4c4" stroke-width="0.7"/>
<ellipse cx="456.5" cy="540.4" rx="3.7" ry="3.4" fill="#d6cd92"/>
<ellipse cx="457.1" cy="541.0" rx="1.8" ry="1.6" fill="#000" opacity="0.08"/>
<circle cx="454.8" cy="537.8" r="1.4" fill="#2a2a22"/>
<path d="M463.3,540.4 L464.7,557.2" stroke="#e6e5da" stroke-width="2.0" stroke-linecap="round"/>
<path d="M463.3,540.4 L464.1,550.5" stroke="#d6d4c4" stroke-width="0.7"/>
<ellipse cx="463.3" cy="540.4" rx="3.7" ry="3.4" fill="#d6cd92"/>
<ellipse cx="463.9" cy="541.0" rx="1.8" ry="1.6" fill="#000" opacity="0.08"/>
<circle cx="461.6" cy="537.8" r="1.4" fill="#2a2a22"/>
<path d="M471.0,540.4 L469.9,553.7" stroke="#e6e5da" stroke-width="2.0" stroke-linecap="round"/>
<path d="M471.0,540.4 L470.4,548.4" stroke="#d6d4c4" stroke-width="0.7"/>
<ellipse cx="471.0" cy="540.4" rx="3.7" ry="3.4" fill="#d6cd92"/>
<ellipse cx="471.6" cy="541.0" rx="1.8" ry="1.6" fill="#000" opacity="0.08"/>
<circle cx="469.3" cy="537.8" r="1.4" fill="#2a2a22"/>
<path d="M478.7,539.4 L483.4,555.9" stroke="#e6e5da" stroke-width="2.0" stroke-linecap="round"/>
<path d="M478.7,539.4 L481.5,549.3" stroke="#d6d4c4" stroke-width="0.7"/>
<ellipse cx="478.7" cy="539.4" rx="3.7" ry="3.4" fill="#d2c98a"/>
<ellipse cx="479.3" cy="540.0" rx="1.8" ry="1.6" fill="#000" opacity="0.08"/>
<circle cx="477.0" cy="536.8" r="1.4" fill="#2a2a22"/>
<path d="M486.3,540.4 L491.3,553.2" stroke="#e6e5da" stroke-width="2.0" stroke-linecap="round"/>
<path d="M486.3,540.4 L489.3,548.1" stroke="#d6d4c4" stroke-width="0.7"/>
<ellipse cx="486.3" cy="540.4" rx="3.7" ry="3.4" fill="#d6cd92"/>
<ellipse cx="486.9" cy="541.0" rx="1.8" ry="1.6" fill="#000" opacity="0.08"/>
<circle cx="484.6" cy="537.8" r="1.4" fill="#2a2a22"/>
<path d="M493.0,534.6 L497.7,548.7" stroke="#e6e5da" stroke-width="2.0" stroke-linecap="round"/>
<path d="M493.0,534.6 L495.8,543.0" stroke="#d6d4c4" stroke-width="0.7"/>
<ellipse cx="493.0" cy="534.6" rx="3.7" ry="3.4" fill="#cdc37e"/>
<ellipse cx="493.6" cy="535.2" rx="1.8" ry="1.6" fill="#000" opacity="0.08"/>
<circle cx="491.3" cy="532.0" r="1.4" fill="#2a2a22"/>
<path d="M496.9,546.2 L500.7,560.3" stroke="#e6e5da" stroke-width="2.0" stroke-linecap="round"/>
<path d="M496.9,546.2 L499.2,554.7" stroke="#d6d4c4" stroke-width="0.7"/>
<ellipse cx="496.9" cy="546.2" rx="3.7" ry="3.4" fill="#cdc37e"/>
<ellipse cx="497.5" cy="546.8" rx="1.8" ry="1.6" fill="#000" opacity="0.08"/>
<circle cx="495.2" cy="543.6" r="1.4" fill="#2a2a22"/>
<path d="M454.6,550.0 L459.0,562.4" stroke="#e6e5da" stroke-width="2.0" stroke-linecap="round"/>
<path d="M454.6,550.0 L457.2,557.4" stroke="#d6d4c4" stroke-width="0.7"/>
<ellipse cx="454.6" cy="550.0" rx="3.7" ry="3.4" fill="#d2c98a"/>
<ellipse cx="455.2" cy="550.6" rx="1.8" ry="1.6" fill="#000" opacity="0.08"/>
<circle cx="452.9" cy="547.4" r="1.4" fill="#2a2a22"/>
<polygon points="480.5,527 484.5,521.5 485.2,527.5" fill="#111"/>
<polygon points="480.5,548.5 484.5,543 485.2,549" fill="#7466a8"/>
<text x="471.9" y="570.8" font-size="7.6" text-anchor="middle" textLength="63.5" lengthAdjust="spacingAndGlyphs" fill="#333">irx1a + irx1b, 5 μg/μL</text>
<path d="M427.7,603.0 L434.6,618.1" stroke="#e6e5da" stroke-width="2.1" stroke-linecap="round"/>
<path d="M427.7,603.0 L431.8,612.1" stroke="#d6d4c4" stroke-width="0.8"/>
<ellipse cx="427.7" cy="603.0" rx="4.0" ry="3.8" fill="#d2bf50"/>
<ellipse cx="428.3" cy="603.6" rx="2.0" ry="1.8" fill="#000" opacity="0.08"/>
<circle cx="425.8" cy="600.1" r="1.5" fill="#2a2a22"/>
<path d="M434.4,598.3 L441.1,609.9" stroke="#e6e5da" stroke-width="2.1" stroke-linecap="round"/>
<path d="M434.4,598.3 L438.4,605.2" stroke="#d6d4c4" stroke-width="0.8"/>
<ellipse cx="434.4" cy="598.3" rx="4.0" ry="3.8" fill="#dacb68"/>
<ellipse cx="435.0" cy="598.9" rx="2.0" ry="1.8" fill="#000" opacity="0.08"/>
<circle cx="432.5" cy="595.4" r="1.5" fill="#2a2a22"/>
<path d="M444.0,599.2 L444.9,613.3" stroke="#e6e5da" stroke-width="2.1" stroke-linecap="round"/>
<path d="M444.0,599.2 L444.6,607.6" stroke="#d6d4c4" stroke-width="0.8"/>
<ellipse cx="444.0" cy="599.2" rx="4.0" ry="3.8" fill="#dacb68"/>
<ellipse cx="444.6" cy="599.8" rx="2.0" ry="1.8" fill="#000" opacity="0.08"/>
<circle cx="442.1" cy="596.3" r="1.5" fill="#2a2a22"/>
<path d="M447.9,592.5 L453.7,609.4" stroke="#e6e5da" stroke-width="2.1" stroke-linecap="round"/>
<path d="M447.9,592.5 L451.4,602.7" stroke="#d6d4c4" stroke-width="0.8"/>
<ellipse cx="447.9" cy="592.5" rx="4.0" ry="3.8" fill="#d6c45a"/>
<ellipse cx="448.5" cy="593.1" rx="2.0" ry="1.8" fill="#000" opacity="0.08"/>
<circle cx="446.0" cy="589.6" r="1.5" fill="#2a2a22"/>
<path d="M456.5,593.5 L462.1,606.2" stroke="#e6e5da" stroke-width="2.1" stroke-linecap="round"/>
<path d="M456.5,593.5 L459.8,601.1" stroke="#d6d4c4" stroke-width="0.8"/>
<ellipse cx="456.5" cy="593.5" rx="4.0" ry="3.8" fill="#d2bf50"/>
<ellipse cx="457.1" cy="594.1" rx="2.0" ry="1.8" fill="#000" opacity="0.08"/>
<circle cx="454.6" cy="590.6" r="1.5" fill="#2a2a22"/>
<path d="M464.2,593.5 L464.4,608.2" stroke="#e6e5da" stroke-width="2.1" stroke-linecap="round"/>
<path d="M464.2,593.5 L464.3,602.3" stroke="#d6d4c4" stroke-width="0.8"/>
<ellipse cx="464.2" cy="593.5" rx="4.0" ry="3.8" fill="#dacb68"/>
<ellipse cx="464.8" cy="594.1" rx="2.0" ry="1.8" fill="#000" opacity="0.08"/>
<circle cx="462.3" cy="590.6" r="1.5" fill="#2a2a22"/>
<path d="M471.0,592.5 L470.4,606.7" stroke="#e6e5da" stroke-width="2.1" stroke-linecap="round"/>
<path d="M471.0,592.5 L470.6,601.0" stroke="#d6d4c4" stroke-width="0.8"/>
<ellipse cx="471.0" cy="592.5" rx="4.0" ry="3.8" fill="#d6c45a"/>
<ellipse cx="471.6" cy="593.1" rx="2.0" ry="1.8" fill="#000" opacity="0.08"/>
<circle cx="469.1" cy="589.6" r="1.5" fill="#2a2a22"/>
<path d="M479.6,597.3 L487.5,612.4" stroke="#e6e5da" stroke-width="2.1" stroke-linecap="round"/>
<path d="M479.6,597.3 L484.4,606.4" stroke="#d6d4c4" stroke-width="0.8"/>
<ellipse cx="479.6" cy="597.3" rx="4.0" ry="3.8" fill="#d2bf50"/>
<ellipse cx="480.2" cy="597.9" rx="2.0" ry="1.8" fill="#000" opacity="0.08"/>
<circle cx="477.7" cy="594.4" r="1.5" fill="#2a2a22"/>
<path d="M484.4,591.5 L489.2,607.2" stroke="#e6e5da" stroke-width="2.1" stroke-linecap="round"/>
<path d="M484.4,591.5 L487.3,600.9" stroke="#d6d4c4" stroke-width="0.8"/>
<ellipse cx="484.4" cy="591.5" rx="4.0" ry="3.8" fill="#dacb68"/>
<ellipse cx="485.0" cy="592.1" rx="2.0" ry="1.8" fill="#000" opacity="0.08"/>
<circle cx="482.5" cy="588.6" r="1.5" fill="#2a2a22"/>
<path d="M493.0,591.5 L496.3,607.4" stroke="#e6e5da" stroke-width="2.1" stroke-linecap="round"/>
<path d="M493.0,591.5 L495.0,601.1" stroke="#d6d4c4" stroke-width="0.8"/>
<ellipse cx="493.0" cy="591.5" rx="4.0" ry="3.8" fill="#d6c45a"/>
<ellipse cx="493.6" cy="592.1" rx="2.0" ry="1.8" fill="#000" opacity="0.08"/>
<circle cx="491.1" cy="588.6" r="1.5" fill="#2a2a22"/>
<path d="M501.7,590.6 L506.6,607.9" stroke="#e6e5da" stroke-width="2.1" stroke-linecap="round"/>
<path d="M501.7,590.6 L504.6,601.0" stroke="#d6d4c4" stroke-width="0.8"/>
<ellipse cx="501.7" cy="590.6" rx="4.0" ry="3.8" fill="#dacb68"/>
<ellipse cx="502.3" cy="591.2" rx="2.0" ry="1.8" fill="#000" opacity="0.08"/>
<circle cx="499.8" cy="587.7" r="1.5" fill="#2a2a22"/>
<path d="M449.8,621.3 L452.6,638.5" stroke="#e6e5da" stroke-width="2.1" stroke-linecap="round"/>
<path d="M449.8,621.3 L451.5,631.6" stroke="#d6d4c4" stroke-width="0.8"/>
<ellipse cx="449.8" cy="621.3" rx="4.0" ry="3.8" fill="#d2bf50"/>
<ellipse cx="450.4" cy="621.9" rx="2.0" ry="1.8" fill="#000" opacity="0.08"/>
<circle cx="447.9" cy="618.4" r="1.5" fill="#2a2a22"/>
<path d="M456.5,617.5 L460.0,633.5" stroke="#e6e5da" stroke-width="2.1" stroke-linecap="round"/>
<path d="M456.5,617.5 L458.6,627.1" stroke="#d6d4c4" stroke-width="0.8"/>
<ellipse cx="456.5" cy="617.5" rx="4.0" ry="3.8" fill="#d6c45a"/>
<ellipse cx="457.1" cy="618.1" rx="2.0" ry="1.8" fill="#000" opacity="0.08"/>
<circle cx="454.6" cy="614.6" r="1.5" fill="#2a2a22"/>
<path d="M462.3,612.7 L467.8,624.9" stroke="#e6e5da" stroke-width="2.1" stroke-linecap="round"/>
<path d="M462.3,612.7 L465.6,620.0" stroke="#d6d4c4" stroke-width="0.8"/>
<ellipse cx="462.3" cy="612.7" rx="4.0" ry="3.8" fill="#d2bf50"/>
<ellipse cx="462.9" cy="613.3" rx="2.0" ry="1.8" fill="#000" opacity="0.08"/>
<circle cx="460.4" cy="609.8" r="1.5" fill="#2a2a22"/>
<path d="M470.0,612.7 L470.8,628.1" stroke="#e6e5da" stroke-width="2.1" stroke-linecap="round"/>
<path d="M470.0,612.7 L470.5,621.9" stroke="#d6d4c4" stroke-width="0.8"/>
<ellipse cx="470.0" cy="612.7" rx="4.0" ry="3.8" fill="#d2bf50"/>
<ellipse cx="470.6" cy="613.3" rx="2.0" ry="1.8" fill="#000" opacity="0.08"/>
<circle cx="468.1" cy="609.8" r="1.5" fill="#2a2a22"/>
<path d="M477.7,614.6 L484.4,627.2" stroke="#e6e5da" stroke-width="2.1" stroke-linecap="round"/>
<path d="M477.7,614.6 L481.7,622.2" stroke="#d6d4c4" stroke-width="0.8"/>
<ellipse cx="477.7" cy="614.6" rx="4.0" ry="3.8" fill="#d2bf50"/>
<ellipse cx="478.3" cy="615.2" rx="2.0" ry="1.8" fill="#000" opacity="0.08"/>
<circle cx="475.8" cy="611.7" r="1.5" fill="#2a2a22"/>
<path d="M485.4,615.6 L492.3,628.1" stroke="#e6e5da" stroke-width="2.1" stroke-linecap="round"/>
<path d="M485.4,615.6 L489.5,623.1" stroke="#d6d4c4" stroke-width="0.8"/>
<ellipse cx="485.4" cy="615.6" rx="4.0" ry="3.8" fill="#d2bf50"/>
<ellipse cx="486.0" cy="616.2" rx="2.0" ry="1.8" fill="#000" opacity="0.08"/>
<circle cx="483.5" cy="612.7" r="1.5" fill="#2a2a22"/>
<path d="M494.0,611.7 L500.8,624.7" stroke="#e6e5da" stroke-width="2.1" stroke-linecap="round"/>
<path d="M494.0,611.7 L498.1,619.5" stroke="#d6d4c4" stroke-width="0.8"/>
<ellipse cx="494.0" cy="611.7" rx="4.0" ry="3.8" fill="#d6c45a"/>
<ellipse cx="494.6" cy="612.3" rx="2.0" ry="1.8" fill="#000" opacity="0.08"/>
<circle cx="492.1" cy="608.8" r="1.5" fill="#2a2a22"/>
<path d="M502.7,610.8 L501.4,627.5" stroke="#e6e5da" stroke-width="2.1" stroke-linecap="round"/>
<path d="M502.7,610.8 L501.9,620.8" stroke="#d6d4c4" stroke-width="0.8"/>
<ellipse cx="502.7" cy="610.8" rx="4.0" ry="3.8" fill="#d2bf50"/>
<ellipse cx="503.3" cy="611.4" rx="2.0" ry="1.8" fill="#000" opacity="0.08"/>
<circle cx="500.8" cy="607.9" r="1.5" fill="#2a2a22"/>
<text x="472.8" y="641.3" font-size="7.6" text-anchor="middle" textLength="67.3" lengthAdjust="spacingAndGlyphs" fill="#333">irx1a + irx1b, 10 μg/μL</text>
<rect x="0.5" y="0.5" width="519" height="703" fill="none" stroke="#484848" stroke-width="1"/>
</svg>
</body></html>
